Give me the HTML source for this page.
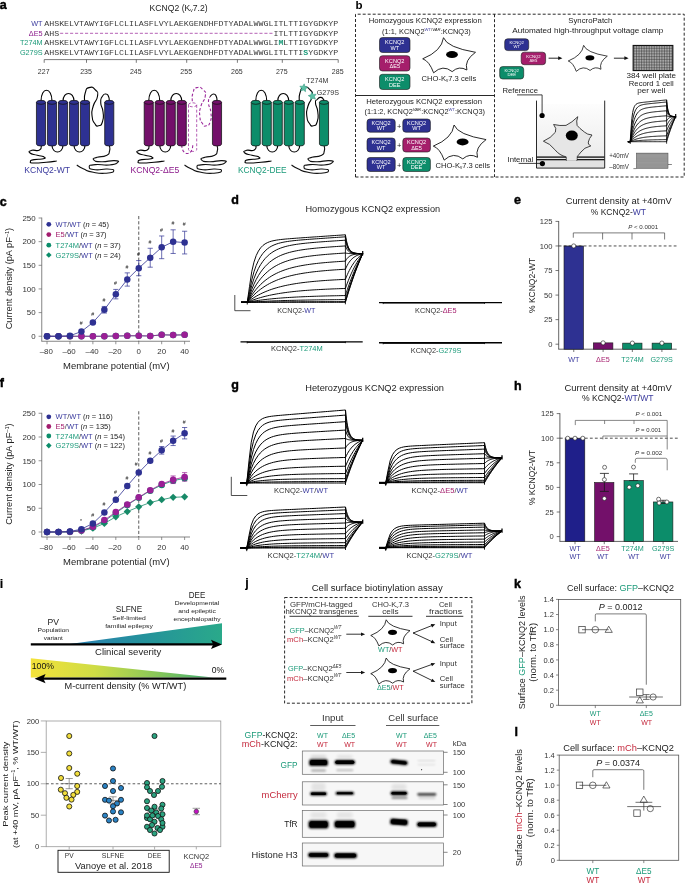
<!DOCTYPE html>
<html lang="en"><head><meta charset="utf-8"><title>KCNQ2 figure</title>
<style>
html,body{margin:0;padding:0;background:#fff;}
body{width:685px;height:884px;overflow:hidden;}
svg{display:block;font-family:"Liberation Sans", Arial, sans-serif;}
</style></head><body>
<svg width="685" height="884" viewBox="0 0 685 884" fill="#222">
<rect width="685" height="884" fill="#fff"/>
<g>
<text x="-0.3" y="9.3" font-size="12.5" font-weight="bold" fill="#000" stroke="#000" stroke-width="0.45">a</text>
<text x="178.60" y="10.60" font-size="8.8" text-anchor="middle" textLength="58.00" lengthAdjust="spacingAndGlyphs">KCNQ2 (K<tspan font-size="5" dy="1.5">v</tspan><tspan dy="-1.5">7.2)</tspan></text>
<text x="42.60" y="26.00" font-size="7.3" text-anchor="end" fill="#3b3b9e">WT</text>
<text x="42.60" y="35.60" font-size="7.3" text-anchor="end" fill="#8b1a8b">ΔE5</text>
<text x="42.60" y="45.10" font-size="7.3" text-anchor="end" fill="#1b9a79">T274M</text>
<text x="42.60" y="54.70" font-size="7.3" text-anchor="end" fill="#1b9a79">G279S</text>
<text x="44.20" y="26.20" font-size="8.1" fill="#3a3a3a" textLength="294.00" lengthAdjust="spacingAndGlyphs" font-family='"Liberation Mono", monospace'>AHSKELVTAWYIGFLCLILASFLVYLAEKGENDHFDTYADALWWGLITLTTIGYGDKYP</text>
<text x="44.20" y="35.80" font-size="8.1" fill="#3a3a3a" textLength="14.95" lengthAdjust="spacingAndGlyphs" font-family='"Liberation Mono", monospace'>AHS</text>
<line x1="60.10" y1="33.30" x2="272.92" y2="33.30" stroke="#a23aa2" stroke-width="0.8" stroke-dasharray="3.1 1.883"/>
<text x="273.42" y="35.80" font-size="8.1" fill="#3a3a3a" textLength="64.78" lengthAdjust="spacingAndGlyphs" font-family='"Liberation Mono", monospace'>ITLTTIGYGDKYP</text>
<text x="44.20" y="45.30" font-size="8.1" fill="#3a3a3a" textLength="234.20" lengthAdjust="spacingAndGlyphs" font-family='"Liberation Mono", monospace'>AHSKELVTAWYIGFLCLILASFLVYLAEKGENDHFDTYADALWWGLI</text>
<text x="278.40" y="45.30" font-size="8.1" fill="#1b9a79" textLength="4.98" lengthAdjust="spacingAndGlyphs" font-weight="bold" font-family='"Liberation Mono", monospace'>M</text>
<text x="283.38" y="45.30" font-size="8.1" fill="#3a3a3a" textLength="54.81" lengthAdjust="spacingAndGlyphs" font-family='"Liberation Mono", monospace'>LTTIGYGDKYP</text>
<text x="44.20" y="54.90" font-size="8.1" fill="#3a3a3a" textLength="259.12" lengthAdjust="spacingAndGlyphs" font-family='"Liberation Mono", monospace'>AHSKELVTAWYIGFLCLILASFLVYLAEKGENDHFDTYADALWWGLITLTTI</text>
<text x="303.32" y="54.90" font-size="8.1" fill="#1b9a79" textLength="4.98" lengthAdjust="spacingAndGlyphs" font-weight="bold" font-family='"Liberation Mono", monospace'>S</text>
<text x="308.30" y="54.90" font-size="8.1" fill="#3a3a3a" textLength="29.90" lengthAdjust="spacingAndGlyphs" font-family='"Liberation Mono", monospace'>YGDKYP</text>
<line x1="44.20" y1="59.60" x2="338.20" y2="59.60" stroke="#444" stroke-width="0.7"/>
<line x1="44.20" y1="59.60" x2="44.20" y2="62.80" stroke="#444" stroke-width="0.7"/>
<text x="43.70" y="74.30" font-size="7.5" text-anchor="middle" fill="#333" textLength="11.70" lengthAdjust="spacingAndGlyphs">227</text>
<line x1="86.50" y1="59.60" x2="86.50" y2="62.80" stroke="#444" stroke-width="0.7"/>
<text x="86.00" y="74.30" font-size="7.5" text-anchor="middle" fill="#333" textLength="11.70" lengthAdjust="spacingAndGlyphs">235</text>
<line x1="136.30" y1="59.60" x2="136.30" y2="62.80" stroke="#444" stroke-width="0.7"/>
<text x="135.80" y="74.30" font-size="7.5" text-anchor="middle" fill="#333" textLength="11.70" lengthAdjust="spacingAndGlyphs">245</text>
<line x1="186.70" y1="59.60" x2="186.70" y2="62.80" stroke="#444" stroke-width="0.7"/>
<text x="186.20" y="74.30" font-size="7.5" text-anchor="middle" fill="#333" textLength="11.70" lengthAdjust="spacingAndGlyphs">255</text>
<line x1="237.40" y1="59.60" x2="237.40" y2="62.80" stroke="#444" stroke-width="0.7"/>
<text x="236.90" y="74.30" font-size="7.5" text-anchor="middle" fill="#333" textLength="11.70" lengthAdjust="spacingAndGlyphs">265</text>
<line x1="282.30" y1="59.60" x2="282.30" y2="62.80" stroke="#444" stroke-width="0.7"/>
<text x="281.80" y="74.30" font-size="7.5" text-anchor="middle" fill="#333" textLength="11.70" lengthAdjust="spacingAndGlyphs">275</text>
<line x1="338.20" y1="59.60" x2="338.20" y2="62.80" stroke="#444" stroke-width="0.7"/>
<text x="337.70" y="74.30" font-size="7.5" text-anchor="middle" fill="#333" textLength="11.70" lengthAdjust="spacingAndGlyphs">285</text>
<path d="M41.30 145.00 C40.70 146.67 42.68 148.23 39.50 150.00 C36.32 151.77 34.90 149.30 31.75 150.30 C28.60 151.30 28.22 151.33 30.05 153.00 C31.88 154.67 32.85 154.10 37.25 155.30 C41.65 156.50 41.15 155.43 43.25 156.60 C45.35 157.77 46.55 157.80 43.55 158.80 C40.55 159.80 38.62 158.70 34.25 159.60 C29.88 160.50 30.45 160.37 30.45 161.50 C30.45 162.63 28.98 162.77 34.25 163.00 C39.52 163.23 38.75 162.87 46.25 162.20 C53.75 161.53 53.25 161.40 56.75 161.00" stroke="#000" stroke-width="1.1" fill="none"/>
<path d="M109.25 145.00 C109.35 147.00 110.55 147.50 109.55 151.00 C108.55 154.50 110.35 153.40 106.25 155.50 C102.15 157.60 101.42 155.87 97.25 157.30 C93.08 158.73 92.42 158.30 93.75 159.80 C95.08 161.30 94.42 161.53 101.25 161.80 C108.08 162.07 108.85 160.33 114.25 160.60 C119.65 160.87 119.12 161.13 117.45 162.60 C115.78 164.07 116.65 164.33 109.25 165.00 C101.85 165.67 101.92 163.93 95.25 164.60 C88.58 165.27 89.25 165.27 89.25 167.00 C89.25 168.73 89.25 169.13 95.25 169.80 C101.25 170.47 101.08 168.67 107.25 169.00 C113.42 169.33 114.08 169.40 113.75 170.80 C113.42 172.20 113.08 172.70 106.25 173.20 C99.42 173.70 100.92 173.77 93.25 172.30 C85.58 170.83 88.75 171.23 83.25 168.80 C77.75 166.37 78.92 166.27 76.75 165.00" stroke="#111" stroke-width="1.1" fill="none"/>
<path d="M41.00 101.30 C41.00 86.63 52.00 86.63 52.00 101.30" stroke="#000" stroke-width="1.1" fill="none"/>
<path d="M63.00 101.30 C63.00 90.90 74.00 90.90 74.00 101.30" stroke="#000" stroke-width="1.1" fill="none"/>
<path d="M52.00 145.00 C52.00 154.33 63.00 154.33 63.00 145.00" stroke="#000" stroke-width="1.1" fill="none"/>
<path d="M74.00 145.00 C74.00 154.33 85.00 154.33 85.00 145.00" stroke="#000" stroke-width="1.1" fill="none"/>
<path d="M84.50 101.30 C84.73 98.53 83.70 97.57 85.20 93.00 C86.70 88.43 85.55 88.60 89.00 87.60 C92.45 86.60 92.73 87.03 95.55 90.00 C98.37 92.97 98.22 91.17 97.45 96.50 C96.68 101.83 95.05 99.50 93.25 106.00 C91.45 112.50 91.55 110.17 92.05 116.00 C92.55 121.83 92.58 120.23 94.75 123.50 C96.92 126.77 95.95 126.47 98.55 125.80 C101.15 125.13 101.05 126.10 102.55 121.50 C104.05 116.90 103.65 118.17 103.05 112.00 C102.45 105.83 101.02 108.17 100.75 103.00 C100.48 97.83 100.55 99.50 102.25 96.50 C103.95 93.50 103.75 94.00 105.85 94.00 C107.95 94.00 107.42 94.07 108.55 96.50 C109.68 98.93 109.02 99.70 109.25 101.30" stroke="#000" stroke-width="1.1" fill="none"/>
<path d="M36.45 102.30 L36.45 144.00 A4.55 2.0 0 0 0 45.55 144.00 L45.55 102.30" stroke="#111" stroke-width="0.75" fill="#2e3192"/>
<ellipse cx="41.00" cy="102.30" rx="4.55" ry="2.0" fill="#2e3192" stroke="#111" stroke-width="0.75"/>
<path d="M47.45 102.30 L47.45 144.00 A4.55 2.0 0 0 0 56.55 144.00 L56.55 102.30" stroke="#111" stroke-width="0.75" fill="#2e3192"/>
<ellipse cx="52.00" cy="102.30" rx="4.55" ry="2.0" fill="#2e3192" stroke="#111" stroke-width="0.75"/>
<path d="M58.45 102.30 L58.45 144.00 A4.55 2.0 0 0 0 67.55 144.00 L67.55 102.30" stroke="#111" stroke-width="0.75" fill="#2e3192"/>
<ellipse cx="63.00" cy="102.30" rx="4.55" ry="2.0" fill="#2e3192" stroke="#111" stroke-width="0.75"/>
<path d="M69.45 102.30 L69.45 144.00 A4.55 2.0 0 0 0 78.55 144.00 L78.55 102.30" stroke="#111" stroke-width="0.75" fill="#2e3192"/>
<ellipse cx="74.00" cy="102.30" rx="4.55" ry="2.0" fill="#2e3192" stroke="#111" stroke-width="0.75"/>
<path d="M80.45 102.30 L80.45 144.00 A4.55 2.0 0 0 0 89.55 144.00 L89.55 102.30" stroke="#111" stroke-width="0.75" fill="#2e3192"/>
<ellipse cx="85.00" cy="102.30" rx="4.55" ry="2.0" fill="#2e3192" stroke="#111" stroke-width="0.75"/>
<path d="M104.70 102.30 L104.70 144.00 A4.55 2.0 0 0 0 113.80 144.00 L113.80 102.30" stroke="#111" stroke-width="0.75" fill="#2e3192"/>
<ellipse cx="109.25" cy="102.30" rx="4.55" ry="2.0" fill="#2e3192" stroke="#111" stroke-width="0.75"/>
<path d="M149.05 145.00 C148.45 146.67 150.43 148.23 147.25 150.00 C144.07 151.77 142.65 149.30 139.50 150.30 C136.35 151.30 135.97 151.33 137.80 153.00 C139.63 154.67 140.60 154.10 145.00 155.30 C149.40 156.50 148.90 155.43 151.00 156.60 C153.10 157.77 154.30 157.80 151.30 158.80 C148.30 159.80 146.37 158.70 142.00 159.60 C137.63 160.50 138.20 160.37 138.20 161.50 C138.20 162.63 136.73 162.77 142.00 163.00 C147.27 163.23 146.50 162.87 154.00 162.20 C161.50 161.53 161.00 161.40 164.50 161.00" stroke="#000" stroke-width="1.1" fill="none"/>
<path d="M217.00 145.00 C217.10 147.00 218.30 147.50 217.30 151.00 C216.30 154.50 218.10 153.40 214.00 155.50 C209.90 157.60 209.17 155.87 205.00 157.30 C200.83 158.73 200.17 158.30 201.50 159.80 C202.83 161.30 202.17 161.53 209.00 161.80 C215.83 162.07 216.60 160.33 222.00 160.60 C227.40 160.87 226.87 161.13 225.20 162.60 C223.53 164.07 224.40 164.33 217.00 165.00 C209.60 165.67 209.67 163.93 203.00 164.60 C196.33 165.27 197.00 165.27 197.00 167.00 C197.00 168.73 197.00 169.13 203.00 169.80 C209.00 170.47 208.83 168.67 215.00 169.00 C221.17 169.33 221.83 169.40 221.50 170.80 C221.17 172.20 220.83 172.70 214.00 173.20 C207.17 173.70 208.67 173.77 201.00 172.30 C193.33 170.83 196.50 171.23 191.00 168.80 C185.50 166.37 186.67 166.27 184.50 165.00" stroke="#111" stroke-width="1.1" fill="none"/>
<path d="M148.75 101.30 C148.75 86.63 159.75 86.63 159.75 101.30" stroke="#000" stroke-width="1.1" fill="none"/>
<path d="M170.75 101.30 C170.75 90.90 181.75 90.90 181.75 101.30" stroke="#000" stroke-width="1.1" fill="none"/>
<path d="M159.75 145.00 C159.75 154.33 170.75 154.33 170.75 145.00" stroke="#000" stroke-width="1.1" fill="none"/>
<path d="M181.75 145.00 C181.75 156.33 192.75 156.33 192.75 145.00" stroke="#9c2a9c" stroke-width="1.1" fill="none" stroke-dasharray="2.9 1.9"/>
<path d="M192.25 101.30 C192.48 98.53 191.45 97.57 192.95 93.00 C194.45 88.43 193.30 88.60 196.75 87.60 C200.20 86.60 200.48 87.03 203.30 90.00 C206.12 92.97 205.97 91.17 205.20 96.50 C204.43 101.83 202.80 99.50 201.00 106.00 C199.20 112.50 199.30 110.17 199.80 116.00 C200.30 121.83 200.33 120.23 202.50 123.50 C204.67 126.77 203.70 126.47 206.30 125.80 C208.90 125.13 208.80 126.10 210.30 121.50 C211.80 116.90 211.40 118.17 210.80 112.00 C210.20 105.83 208.77 108.17 208.50 103.00 C208.23 97.83 209.50 98.67 210.00 96.50" stroke="#9c2a9c" stroke-width="1.1" fill="none" stroke-dasharray="2.9 1.9"/>
<path d="M210.00 96.50 C211.20 95.67 211.50 94.00 213.60 94.00 C215.70 94.00 215.17 94.07 216.30 96.50 C217.43 98.93 216.77 99.70 217.00 101.30" stroke="#000" stroke-width="1.1" fill="none"/>
<path d="M144.20 102.30 L144.20 144.00 A4.55 2.0 0 0 0 153.30 144.00 L153.30 102.30" stroke="#111" stroke-width="0.75" fill="#73106a"/>
<ellipse cx="148.75" cy="102.30" rx="4.55" ry="2.0" fill="#73106a" stroke="#111" stroke-width="0.75"/>
<path d="M155.20 102.30 L155.20 144.00 A4.55 2.0 0 0 0 164.30 144.00 L164.30 102.30" stroke="#111" stroke-width="0.75" fill="#73106a"/>
<ellipse cx="159.75" cy="102.30" rx="4.55" ry="2.0" fill="#73106a" stroke="#111" stroke-width="0.75"/>
<path d="M166.20 102.30 L166.20 144.00 A4.55 2.0 0 0 0 175.30 144.00 L175.30 102.30" stroke="#111" stroke-width="0.75" fill="#73106a"/>
<ellipse cx="170.75" cy="102.30" rx="4.55" ry="2.0" fill="#73106a" stroke="#111" stroke-width="0.75"/>
<path d="M177.20 102.30 L177.20 144.00 A4.55 2.0 0 0 0 186.30 144.00 L186.30 102.30" stroke="#111" stroke-width="0.75" fill="#73106a"/>
<ellipse cx="181.75" cy="102.30" rx="4.55" ry="2.0" fill="#73106a" stroke="#111" stroke-width="0.75"/>
<path d="M188.50 104.80 L188.50 149.50 A4.1 2.0 0 0 0 196.70 149.50 L196.70 104.80" stroke="#9c2a9c" stroke-width="0.75" fill="none" stroke-dasharray="2.9 1.9"/>
<ellipse cx="192.60" cy="104.80" rx="4.1" ry="2.0" fill="none" stroke="#9c2a9c" stroke-width="0.75" stroke-dasharray="2.9 1.9"/>
<path d="M212.45 102.30 L212.45 144.00 A4.55 2.0 0 0 0 221.55 144.00 L221.55 102.30" stroke="#111" stroke-width="0.75" fill="#73106a"/>
<ellipse cx="217.00" cy="102.30" rx="4.55" ry="2.0" fill="#73106a" stroke="#111" stroke-width="0.75"/>
<path d="M256.05 145.00 C255.45 146.67 257.43 148.23 254.25 150.00 C251.07 151.77 249.65 149.30 246.50 150.30 C243.35 151.30 242.97 151.33 244.80 153.00 C246.63 154.67 247.60 154.10 252.00 155.30 C256.40 156.50 255.90 155.43 258.00 156.60 C260.10 157.77 261.30 157.80 258.30 158.80 C255.30 159.80 253.37 158.70 249.00 159.60 C244.63 160.50 245.20 160.37 245.20 161.50 C245.20 162.63 243.73 162.77 249.00 163.00 C254.27 163.23 253.50 162.87 261.00 162.20 C268.50 161.53 268.00 161.40 271.50 161.00" stroke="#000" stroke-width="1.1" fill="none"/>
<path d="M324.00 145.00 C324.10 147.00 325.30 147.50 324.30 151.00 C323.30 154.50 325.10 153.40 321.00 155.50 C316.90 157.60 316.17 155.87 312.00 157.30 C307.83 158.73 307.17 158.30 308.50 159.80 C309.83 161.30 309.17 161.53 316.00 161.80 C322.83 162.07 323.60 160.33 329.00 160.60 C334.40 160.87 333.87 161.13 332.20 162.60 C330.53 164.07 331.40 164.33 324.00 165.00 C316.60 165.67 316.67 163.93 310.00 164.60 C303.33 165.27 304.00 165.27 304.00 167.00 C304.00 168.73 304.00 169.13 310.00 169.80 C316.00 170.47 315.83 168.67 322.00 169.00 C328.17 169.33 328.83 169.40 328.50 170.80 C328.17 172.20 327.83 172.70 321.00 173.20 C314.17 173.70 315.67 173.77 308.00 172.30 C300.33 170.83 303.50 171.23 298.00 168.80 C292.50 166.37 293.67 166.27 291.50 165.00" stroke="#111" stroke-width="1.1" fill="none"/>
<path d="M255.75 101.30 C255.75 86.63 266.75 86.63 266.75 101.30" stroke="#000" stroke-width="1.1" fill="none"/>
<path d="M277.75 101.30 C277.75 90.90 288.75 90.90 288.75 101.30" stroke="#000" stroke-width="1.1" fill="none"/>
<path d="M266.75 145.00 C266.75 154.33 277.75 154.33 277.75 145.00" stroke="#000" stroke-width="1.1" fill="none"/>
<path d="M288.75 145.00 C288.75 154.33 299.75 154.33 299.75 145.00" stroke="#000" stroke-width="1.1" fill="none"/>
<path d="M299.25 101.30 C299.48 98.53 298.45 97.57 299.95 93.00 C301.45 88.43 300.30 88.60 303.75 87.60 C307.20 86.60 307.48 87.03 310.30 90.00 C313.12 92.97 312.97 91.17 312.20 96.50 C311.43 101.83 309.80 99.50 308.00 106.00 C306.20 112.50 306.30 110.17 306.80 116.00 C307.30 121.83 307.33 120.23 309.50 123.50 C311.67 126.77 310.70 126.47 313.30 125.80 C315.90 125.13 315.80 126.10 317.30 121.50 C318.80 116.90 318.40 118.17 317.80 112.00 C317.20 105.83 315.70 107.17 315.50 103.00 C315.30 98.83 315.50 101.37 317.20 99.50 C318.90 97.63 318.53 97.47 320.60 97.40 C322.67 97.33 322.27 98.00 323.40 99.30 C324.53 100.60 323.80 100.63 324.00 101.30" stroke="#000" stroke-width="1.1" fill="none"/>
<path d="M251.20 102.30 L251.20 144.00 A4.55 2.0 0 0 0 260.30 144.00 L260.30 102.30" stroke="#111" stroke-width="0.75" fill="#0c8d6a"/>
<ellipse cx="255.75" cy="102.30" rx="4.55" ry="2.0" fill="#0c8d6a" stroke="#111" stroke-width="0.75"/>
<path d="M262.20 102.30 L262.20 144.00 A4.55 2.0 0 0 0 271.30 144.00 L271.30 102.30" stroke="#111" stroke-width="0.75" fill="#0c8d6a"/>
<ellipse cx="266.75" cy="102.30" rx="4.55" ry="2.0" fill="#0c8d6a" stroke="#111" stroke-width="0.75"/>
<path d="M273.20 102.30 L273.20 144.00 A4.55 2.0 0 0 0 282.30 144.00 L282.30 102.30" stroke="#111" stroke-width="0.75" fill="#0c8d6a"/>
<ellipse cx="277.75" cy="102.30" rx="4.55" ry="2.0" fill="#0c8d6a" stroke="#111" stroke-width="0.75"/>
<path d="M284.20 102.30 L284.20 144.00 A4.55 2.0 0 0 0 293.30 144.00 L293.30 102.30" stroke="#111" stroke-width="0.75" fill="#0c8d6a"/>
<ellipse cx="288.75" cy="102.30" rx="4.55" ry="2.0" fill="#0c8d6a" stroke="#111" stroke-width="0.75"/>
<path d="M295.20 102.30 L295.20 144.00 A4.55 2.0 0 0 0 304.30 144.00 L304.30 102.30" stroke="#111" stroke-width="0.75" fill="#0c8d6a"/>
<ellipse cx="299.75" cy="102.30" rx="4.55" ry="2.0" fill="#0c8d6a" stroke="#111" stroke-width="0.75"/>
<path d="M319.45 102.30 L319.45 144.00 A4.55 2.0 0 0 0 328.55 144.00 L328.55 102.30" stroke="#111" stroke-width="0.75" fill="#0c8d6a"/>
<ellipse cx="324.00" cy="102.30" rx="4.55" ry="2.0" fill="#0c8d6a" stroke="#111" stroke-width="0.75"/>
<path d="M304.18 83.84 L305.00 86.55 L307.74 87.27 L305.41 88.88 L305.57 91.71 L303.32 90.00 L300.68 91.02 L301.61 88.35 L299.83 86.16 L302.65 86.22 Z" stroke="#2c8f78" stroke-width="0.5" fill="#5cc2a6" stroke-linejoin="round"/>
<path d="M311.67 92.06 L313.28 94.39 L316.11 94.23 L314.40 96.48 L315.42 99.12 L312.75 98.19 L310.56 99.97 L310.62 97.15 L308.24 95.62 L310.95 94.80 Z" stroke="#2c8f78" stroke-width="0.5" fill="#5cc2a6" stroke-linejoin="round"/>
<text x="306.30" y="83.30" font-size="6.3" fill="#333" textLength="22.00" lengthAdjust="spacingAndGlyphs">T274M</text>
<text x="316.80" y="94.60" font-size="6.3" fill="#333" textLength="22.20" lengthAdjust="spacingAndGlyphs">G279S</text>
<text x="24.30" y="173.30" font-size="8.4" fill="#3b3b9e" textLength="45.70" lengthAdjust="spacingAndGlyphs">KCNQ2-WT</text>
<text x="130.50" y="173.30" font-size="8.4" fill="#8b1a8b" textLength="48.70" lengthAdjust="spacingAndGlyphs">KCNQ2-ΔE5</text>
<text x="238.00" y="173.30" font-size="8.4" fill="#1b9a79" textLength="48.70" lengthAdjust="spacingAndGlyphs">KCNQ2-DEE</text>
</g>
<g>
<text x="355.50" y="9.30" font-size="11.5" fill="#000" font-weight="bold">b</text>
<path d="M355.5 177 L355.5 14.2 L684.2 14.2 L684.2 177 Z" stroke="#111" stroke-width="0.9" fill="none" stroke-dasharray="3 2"/>
<line x1="494.50" y1="14.20" x2="494.50" y2="177.00" stroke="#111" stroke-width="0.9" stroke-dasharray="3 2"/>
<line x1="355.50" y1="95.50" x2="494.50" y2="95.50" stroke="#111" stroke-width="0.9"/>
<text x="425.20" y="23.20" font-size="7.4" text-anchor="middle" textLength="113.00" lengthAdjust="spacingAndGlyphs">Homozygous KCNQ2 expression</text>
<text x="426.40" y="34.20" font-size="7.4" text-anchor="middle" textLength="88.70" lengthAdjust="spacingAndGlyphs">(1:1, KCNQ2<tspan font-size="4.2" dy="-3.2" fill="#3b3b9e">WT</tspan><tspan font-size="4.2">/</tspan><tspan font-size="4.2" font-style="italic">VAR</tspan><tspan dy="3.2">:KCNQ3)</tspan></text>
<rect x="379.50" y="37.50" width="30.50" height="15.00" fill="#2e3192" stroke="#1a1a1a" stroke-width="0.6" rx="3"/>
<text x="394.75" y="44.40" font-size="5.6" text-anchor="middle" fill="#fff">KCNQ2</text>
<text x="394.75" y="49.72" font-size="5.6" text-anchor="middle" fill="#fff">WT</text>
<rect x="379.50" y="55.70" width="30.50" height="15.30" fill="#a51e6b" stroke="#1a1a1a" stroke-width="0.6" rx="3"/>
<text x="394.75" y="62.74" font-size="5.6" text-anchor="middle" fill="#fff">KCNQ2</text>
<text x="394.75" y="68.06" font-size="5.6" text-anchor="middle" fill="#fff">ΔE5</text>
<rect x="379.50" y="74.30" width="30.50" height="15.20" fill="#0c8d6a" stroke="#1a1a1a" stroke-width="0.6" rx="3"/>
<text x="394.75" y="81.29" font-size="5.6" text-anchor="middle" fill="#fff">KCNQ2</text>
<text x="394.75" y="86.61" font-size="5.6" text-anchor="middle" fill="#fff">DEE</text>
<path d="M443.50 37.70 Q447.00 47.50 475.50 52.30 Q464.00 60.40 466.90 70.00 Q459.00 65.40 452.20 71.60 Q442.90 64.10 433.60 72.80 Q429.30 61.00 422.70 58.80 Q441.70 51.10 443.50 37.70 Z" stroke="#111" stroke-width="0.9" fill="#fff" stroke-linejoin="miter"/>
<ellipse cx="452.00" cy="54.60" rx="6.0" ry="3.5" fill="#000" stroke="none" stroke-width="0.6"/>
<text x="421.50" y="80.60" font-size="7.6" textLength="54.70" lengthAdjust="spacingAndGlyphs">CHO-K<tspan font-size="4.5" dy="1.4">v</tspan><tspan dy="-1.4">7.3 cells</tspan></text>
<text x="424.10" y="103.80" font-size="7.4" text-anchor="middle" textLength="115.70" lengthAdjust="spacingAndGlyphs">Heterozygous KCNQ2 expression</text>
<text x="424.70" y="114.40" font-size="7.4" text-anchor="middle" textLength="120.50" lengthAdjust="spacingAndGlyphs">(1:1:2, KCNQ2<tspan font-size="4.2" dy="-3.2" font-style="italic">VAR</tspan><tspan dy="3.2">:KCNQ2</tspan><tspan font-size="4.2" dy="-3.2" fill="#3b3b9e">WT</tspan><tspan dy="3.2">:KCNQ3)</tspan></text>
<rect x="367.00" y="119.00" width="28.20" height="13.20" fill="#2e3192" stroke="#1a1a1a" stroke-width="0.6" rx="3"/>
<text x="381.10" y="125.07" font-size="5.6" text-anchor="middle" fill="#fff">KCNQ2</text>
<text x="381.10" y="130.39" font-size="5.6" text-anchor="middle" fill="#fff">WT</text>
<rect x="402.80" y="119.00" width="27.60" height="13.20" fill="#2e3192" stroke="#1a1a1a" stroke-width="0.6" rx="3"/>
<text x="416.60" y="125.07" font-size="5.6" text-anchor="middle" fill="#fff">KCNQ2</text>
<text x="416.60" y="130.39" font-size="5.6" text-anchor="middle" fill="#fff">WT</text>
<text x="399.10" y="129.00" font-size="7.5" text-anchor="middle">+</text>
<rect x="367.00" y="138.00" width="28.20" height="14.00" fill="#2e3192" stroke="#1a1a1a" stroke-width="0.6" rx="3"/>
<text x="381.10" y="144.44" font-size="5.6" text-anchor="middle" fill="#fff">KCNQ2</text>
<text x="381.10" y="149.76" font-size="5.6" text-anchor="middle" fill="#fff">WT</text>
<rect x="402.80" y="138.00" width="27.60" height="14.00" fill="#a51e6b" stroke="#1a1a1a" stroke-width="0.6" rx="3"/>
<text x="416.60" y="144.44" font-size="5.6" text-anchor="middle" fill="#fff">KCNQ2</text>
<text x="416.60" y="149.76" font-size="5.6" text-anchor="middle" fill="#fff">ΔE5</text>
<text x="399.10" y="148.40" font-size="7.5" text-anchor="middle">+</text>
<rect x="367.00" y="157.50" width="28.20" height="14.00" fill="#2e3192" stroke="#1a1a1a" stroke-width="0.6" rx="3"/>
<text x="381.10" y="163.94" font-size="5.6" text-anchor="middle" fill="#fff">KCNQ2</text>
<text x="381.10" y="169.26" font-size="5.6" text-anchor="middle" fill="#fff">WT</text>
<rect x="402.80" y="157.50" width="27.60" height="14.00" fill="#0c8d6a" stroke="#1a1a1a" stroke-width="0.6" rx="3"/>
<text x="416.60" y="163.94" font-size="5.6" text-anchor="middle" fill="#fff">KCNQ2</text>
<text x="416.60" y="169.26" font-size="5.6" text-anchor="middle" fill="#fff">DEE</text>
<text x="399.10" y="167.90" font-size="7.5" text-anchor="middle">+</text>
<path d="M454.10 125.00 Q457.60 134.80 486.10 139.60 Q474.60 147.70 477.50 157.30 Q469.60 152.70 462.80 158.90 Q453.50 151.40 444.20 160.10 Q439.90 148.30 433.30 146.10 Q452.30 138.40 454.10 125.00 Z" stroke="#111" stroke-width="0.9" fill="#fff" stroke-linejoin="miter"/>
<ellipse cx="462.60" cy="141.90" rx="6.0" ry="3.5" fill="#000" stroke="none" stroke-width="0.6"/>
<text x="435.50" y="167.60" font-size="7.6" textLength="54.50" lengthAdjust="spacingAndGlyphs">CHO-K<tspan font-size="4.5" dy="1.4">v</tspan><tspan dy="-1.4">7.3 cells</tspan></text>
<text x="590.30" y="22.80" font-size="7.4" text-anchor="middle" textLength="44.00" lengthAdjust="spacingAndGlyphs">SyncroPatch</text>
<text x="587.80" y="32.90" font-size="7.4" text-anchor="middle" textLength="151.00" lengthAdjust="spacingAndGlyphs">Automated high-throughput voltage clamp</text>
<rect x="504.70" y="38.80" width="24.00" height="11.80" fill="#2e3192" stroke="#1a1a1a" stroke-width="0.6" rx="3"/>
<text x="516.70" y="44.23" font-size="4.2" text-anchor="middle" fill="#fff">KCNQ2</text>
<text x="516.70" y="48.22" font-size="4.2" text-anchor="middle" fill="#fff">WT</text>
<rect x="521.20" y="52.20" width="24.40" height="12.50" fill="#a51e6b" stroke="#1a1a1a" stroke-width="0.6" rx="3"/>
<text x="533.40" y="57.95" font-size="4.2" text-anchor="middle" fill="#fff">KCNQ2</text>
<text x="533.40" y="61.94" font-size="4.2" text-anchor="middle" fill="#fff">ΔE5</text>
<rect x="499.70" y="66.60" width="24.00" height="12.40" fill="#0c8d6a" stroke="#1a1a1a" stroke-width="0.6" rx="3"/>
<text x="511.70" y="72.30" font-size="4.2" text-anchor="middle" fill="#fff">KCNQ2</text>
<text x="511.70" y="76.29" font-size="4.2" text-anchor="middle" fill="#fff">DEE</text>
<line x1="548.60" y1="58.20" x2="560.40" y2="58.20" stroke="#111" stroke-width="0.9"/>
<path d="M562.4 58.2 L558.1999999999999 56.300000000000004 L558.1999999999999 60.1 Z" stroke="none" stroke-width="0.8" fill="#111"/>
<line x1="613.90" y1="58.20" x2="626.60" y2="58.20" stroke="#111" stroke-width="0.9"/>
<path d="M628.6 58.2 L624.4 56.300000000000004 L624.4 60.1 Z" stroke="none" stroke-width="0.8" fill="#111"/>
<path d="M583.63 45.36 Q586.22 52.61 607.31 56.16 Q598.80 62.16 600.95 69.26 Q595.10 65.86 590.07 70.44 Q583.19 64.89 576.30 71.33 Q573.12 62.60 568.24 60.97 Q582.30 55.27 583.63 45.36 Z" stroke="#111" stroke-width="0.8" fill="#fff" stroke-linejoin="miter"/>
<ellipse cx="589.92" cy="57.86" rx="4.4399999999999995" ry="2.59" fill="#000" stroke="none" stroke-width="0.6"/>
<rect x="633.20" y="45.50" width="39.60" height="25.00" fill="#fff" stroke="#111" stroke-width="1.2" rx="0"/>
<path d="M634.85 45.5 V70.5 M636.50 45.5 V70.5 M638.15 45.5 V70.5 M639.80 45.5 V70.5 M641.45 45.5 V70.5 M643.10 45.5 V70.5 M644.75 45.5 V70.5 M646.40 45.5 V70.5 M648.05 45.5 V70.5 M649.70 45.5 V70.5 M651.35 45.5 V70.5 M653.00 45.5 V70.5 M654.65 45.5 V70.5 M656.30 45.5 V70.5 M657.95 45.5 V70.5 M659.60 45.5 V70.5 M661.25 45.5 V70.5 M662.90 45.5 V70.5 M664.55 45.5 V70.5 M666.20 45.5 V70.5 M667.85 45.5 V70.5 M669.50 45.5 V70.5 M671.15 45.5 V70.5 M633.2 47.06 H672.8000000000001 M633.2 48.62 H672.8000000000001 M633.2 50.19 H672.8000000000001 M633.2 51.75 H672.8000000000001 M633.2 53.31 H672.8000000000001 M633.2 54.88 H672.8000000000001 M633.2 56.44 H672.8000000000001 M633.2 58.00 H672.8000000000001 M633.2 59.56 H672.8000000000001 M633.2 61.12 H672.8000000000001 M633.2 62.69 H672.8000000000001 M633.2 64.25 H672.8000000000001 M633.2 65.81 H672.8000000000001 M633.2 67.38 H672.8000000000001 M633.2 68.94 H672.8000000000001 " stroke="#222" stroke-width="0.55" fill="none"/>
<text x="651.30" y="78.10" font-size="7.2" text-anchor="middle" textLength="49.50" lengthAdjust="spacingAndGlyphs">384 well plate</text>
<text x="651.30" y="85.50" font-size="7.2" text-anchor="middle" textLength="45.00" lengthAdjust="spacingAndGlyphs">Record 1 cell</text>
<text x="651.30" y="92.70" font-size="7.2" text-anchor="middle" textLength="28.00" lengthAdjust="spacingAndGlyphs">per well</text>
<defs><linearGradient id="chg" x1="0" y1="0" x2="0" y2="1"><stop offset="0" stop-color="#fdfdfd"/><stop offset="1" stop-color="#ececec"/></linearGradient></defs>
<rect x="536.30" y="103.90" width="68.30" height="53.00" fill="url(#chg)" stroke="none" stroke-width="0.8" rx="0"/>
<rect x="536.30" y="160.00" width="68.30" height="8.10" fill="#e2e2e2" stroke="none" stroke-width="0.8" rx="0"/>
<path d="M536.5 100.6 V168.1 H604.7 V100.6" stroke="#111" stroke-width="0.9" fill="none"/>
<line x1="536.30" y1="157.10" x2="566.50" y2="157.10" stroke="#1a1a1a" stroke-width="1.4"/>
<line x1="577.00" y1="157.10" x2="604.60" y2="157.10" stroke="#1a1a1a" stroke-width="1.4"/>
<line x1="536.30" y1="159.60" x2="566.50" y2="159.60" stroke="#1a1a1a" stroke-width="1.4"/>
<line x1="577.00" y1="159.60" x2="604.60" y2="159.60" stroke="#1a1a1a" stroke-width="1.4"/>
<path d="M577.8 116.7 Q572 122.5 566 125.4 Q560 126 553.6 124.5 Q557 128.5 555.4 132.2 Q551 138 543.4 141.2 Q550 143.5 554.8 149.6 Q559.5 155.5 566.3 156.9 L566.3 160.4 L577 160.4 L577 156.8 Q579 154.5 580.9 152.1 Q584 147.5 590.8 145.9 Q587.5 144.5 588.3 142.1 Q589 138.5 592 135 Q587 134.5 584.6 132.2 Q579 128 577.1 125.4 Q576 121 577.8 116.7 Z" stroke="#222" stroke-width="0.85" fill="#e6e6e6"/>
<rect x="566.80" y="156.20" width="9.70" height="4.60" fill="#e6e6e6" stroke="none" stroke-width="0.8" rx="0"/>
<ellipse cx="571.80" cy="135.60" rx="6" ry="5" fill="#000" stroke="none" stroke-width="0.6"/>
<text x="502.50" y="93.40" font-size="7.4" textLength="35.50" lengthAdjust="spacingAndGlyphs">Reference</text>
<path d="M517 94.9 H542.1 V113.5" stroke="#111" stroke-width="0.8" fill="none"/>
<circle cx="542.10" cy="115.50" r="2.6" fill="#000" stroke="none" stroke-width="0.6"/>
<text x="507.50" y="161.60" font-size="7.4" textLength="25.80" lengthAdjust="spacingAndGlyphs">Internal</text>
<path d="M518.6 163.4 H541" stroke="#111" stroke-width="0.8" fill="none"/>
<circle cx="542.40" cy="163.60" r="2.6" fill="#000" stroke="none" stroke-width="0.6"/>
<text x="609.20" y="157.90" font-size="6.4" fill="#333" textLength="19.80" lengthAdjust="spacingAndGlyphs">+40mV</text>
<text x="609.20" y="168.90" font-size="6.4" fill="#333" textLength="19.80" lengthAdjust="spacingAndGlyphs">–80mV</text>
<rect x="636.40" y="153.10" width="31.60" height="15.20" fill="#8c8c8c" stroke="#444" stroke-width="0.5" rx="0"/>
<line x1="636.70" y1="154.27" x2="667.80" y2="154.27" stroke="#b5b5b5" stroke-width="0.35"/>
<line x1="636.70" y1="155.44" x2="667.80" y2="155.44" stroke="#b5b5b5" stroke-width="0.35"/>
<line x1="636.70" y1="156.61" x2="667.80" y2="156.61" stroke="#b5b5b5" stroke-width="0.35"/>
<line x1="636.70" y1="157.78" x2="667.80" y2="157.78" stroke="#b5b5b5" stroke-width="0.35"/>
<line x1="636.70" y1="158.95" x2="667.80" y2="158.95" stroke="#b5b5b5" stroke-width="0.35"/>
<line x1="636.70" y1="160.12" x2="667.80" y2="160.12" stroke="#b5b5b5" stroke-width="0.35"/>
<line x1="636.70" y1="161.29" x2="667.80" y2="161.29" stroke="#b5b5b5" stroke-width="0.35"/>
<line x1="636.70" y1="162.46" x2="667.80" y2="162.46" stroke="#b5b5b5" stroke-width="0.35"/>
<line x1="636.70" y1="163.63" x2="667.80" y2="163.63" stroke="#b5b5b5" stroke-width="0.35"/>
<line x1="636.70" y1="164.80" x2="667.80" y2="164.80" stroke="#b5b5b5" stroke-width="0.35"/>
<line x1="636.70" y1="165.97" x2="667.80" y2="165.97" stroke="#b5b5b5" stroke-width="0.35"/>
<line x1="636.70" y1="167.14" x2="667.80" y2="167.14" stroke="#b5b5b5" stroke-width="0.35"/>
<line x1="633.40" y1="168.60" x2="636.40" y2="168.60" stroke="#333" stroke-width="0.6"/>
<line x1="668.00" y1="164.50" x2="671.90" y2="164.50" stroke="#333" stroke-width="0.6"/>
<path d="M627.90 141.70 L630.19 141.70 L631.02 141.70 L631.85 141.70 L632.68 141.70 L633.51 141.70 L634.33 141.70 L635.16 141.70 L635.99 141.70 L636.82 141.70 L637.64 141.70 L638.47 141.70 L639.30 141.70 L640.13 141.70 L640.96 141.70 L641.78 141.70 L642.61 141.70 L643.44 141.70 L644.27 141.70 L645.09 141.70 L645.92 141.70 L646.75 141.70 L647.58 141.70 L648.41 141.70 L649.23 141.70 L650.06 141.70 L650.89 141.70 L651.72 141.70 L652.55 141.70 L653.37 141.70 L654.20 141.70 L655.03 141.70 L655.86 141.70 L656.68 141.70 L657.51 141.70 L658.34 141.70 L659.17 141.70 L660.00 141.70 L660.82 141.70 L661.65 141.70 L662.48 141.70 L663.31 141.70 L664.13 141.70 L664.96 141.70 L665.79 141.70 L666.62 141.70 L666.62 141.70 L667.12 140.01 L667.63 138.37 L668.13 136.76 L668.64 135.18 L669.14 133.65 L669.65 132.15 L670.15 130.68 L670.65 129.25 L671.16 127.85 L671.66 126.48 L672.17 125.14 L672.67 123.84 L673.18 122.57 L673.68 121.32 L674.19 120.10 L674.69 118.92 L675.20 117.75 L675.70 116.62" stroke="#000" stroke-width="0.9" fill="none" stroke-linejoin="round"/>
<path d="M627.90 141.70 L630.19 141.70 L631.02 141.57 L631.85 141.42 L632.68 141.28 L633.51 141.16 L634.33 141.05 L635.16 140.95 L635.99 140.85 L636.82 140.76 L637.64 140.68 L638.47 140.60 L639.30 140.53 L640.13 140.47 L640.96 140.40 L641.78 140.35 L642.61 140.29 L643.44 140.24 L644.27 140.19 L645.09 140.15 L645.92 140.11 L646.75 140.07 L647.58 140.04 L648.41 140.00 L649.23 139.97 L650.06 139.94 L650.89 139.91 L651.72 139.89 L652.55 139.86 L653.37 139.84 L654.20 139.82 L655.03 139.80 L655.86 139.78 L656.68 139.76 L657.51 139.75 L658.34 139.73 L659.17 139.72 L660.00 139.70 L660.82 139.69 L661.65 139.68 L662.48 139.66 L663.31 139.65 L664.13 139.64 L664.96 139.63 L665.79 139.62 L666.62 139.61 L666.62 139.61 L667.12 138.01 L667.63 136.46 L668.13 134.95 L668.64 133.48 L669.14 132.05 L669.65 130.66 L670.15 129.30 L670.65 127.99 L671.16 126.71 L671.66 125.46 L672.17 124.24 L672.67 123.06 L673.18 121.92 L673.68 120.80 L674.19 119.71 L674.69 118.65 L675.20 117.62 L675.70 116.62" stroke="#000" stroke-width="0.9" fill="none" stroke-linejoin="round"/>
<path d="M627.90 141.70 L630.19 141.70 L631.02 141.31 L631.85 140.85 L632.68 140.45 L633.51 140.09 L634.33 139.76 L635.16 139.46 L635.99 139.18 L636.82 138.92 L637.64 138.69 L638.47 138.47 L639.30 138.26 L640.13 138.08 L640.96 137.91 L641.78 137.75 L642.61 137.60 L643.44 137.46 L644.27 137.34 L645.09 137.22 L645.92 137.11 L646.75 137.01 L647.58 136.92 L648.41 136.83 L649.23 136.75 L650.06 136.67 L650.89 136.60 L651.72 136.54 L652.55 136.48 L653.37 136.42 L654.20 136.37 L655.03 136.32 L655.86 136.27 L656.68 136.23 L657.51 136.18 L658.34 136.14 L659.17 136.11 L660.00 136.07 L660.82 136.04 L661.65 136.01 L662.48 135.98 L663.31 135.95 L664.13 135.92 L664.96 135.90 L665.79 135.87 L666.62 135.85 L666.62 135.85 L667.12 134.40 L667.63 133.01 L668.13 131.67 L668.64 130.38 L669.14 129.14 L669.65 127.95 L670.15 126.79 L670.65 125.69 L671.16 124.62 L671.66 123.59 L672.17 122.60 L672.67 121.65 L673.18 120.73 L673.68 119.84 L674.19 118.99 L674.69 118.17 L675.20 117.38 L675.70 116.62" stroke="#000" stroke-width="0.9" fill="none" stroke-linejoin="round"/>
<path d="M627.90 141.70 L630.19 141.70 L631.02 140.91 L631.85 139.97 L632.68 139.16 L633.51 138.45 L634.33 137.81 L635.16 137.22 L635.99 136.69 L636.82 136.20 L637.64 135.75 L638.47 135.34 L639.30 134.97 L640.13 134.63 L640.96 134.31 L641.78 134.02 L642.61 133.76 L643.44 133.52 L644.27 133.30 L645.09 133.09 L645.92 132.91 L646.75 132.73 L647.58 132.57 L648.41 132.43 L649.23 132.29 L650.06 132.17 L650.89 132.05 L651.72 131.94 L652.55 131.84 L653.37 131.75 L654.20 131.66 L655.03 131.58 L655.86 131.50 L656.68 131.43 L657.51 131.37 L658.34 131.30 L659.17 131.25 L660.00 131.19 L660.82 131.14 L661.65 131.09 L662.48 131.04 L663.31 130.99 L664.13 130.95 L664.96 130.91 L665.79 130.87 L666.62 130.83 L666.62 130.83 L667.12 129.56 L667.63 128.36 L668.13 127.23 L668.64 126.17 L669.14 125.18 L669.65 124.25 L670.15 123.37 L670.65 122.55 L671.16 121.77 L671.66 121.05 L672.17 120.37 L672.67 119.72 L673.18 119.12 L673.68 118.56 L674.19 118.03 L674.69 117.53 L675.20 117.06 L675.70 116.62" stroke="#000" stroke-width="0.9" fill="none" stroke-linejoin="round"/>
<path d="M627.90 141.70 L630.19 141.70 L631.02 140.41 L631.85 138.90 L632.68 137.62 L633.51 136.51 L634.33 135.51 L635.16 134.61 L635.99 133.80 L636.82 133.07 L637.64 132.41 L638.47 131.81 L639.30 131.27 L640.13 130.78 L640.96 130.34 L641.78 129.94 L642.61 129.57 L643.44 129.24 L644.27 128.94 L645.09 128.67 L645.92 128.42 L646.75 128.19 L647.58 127.99 L648.41 127.80 L649.23 127.62 L650.06 127.46 L650.89 127.32 L651.72 127.18 L652.55 127.06 L653.37 126.94 L654.20 126.83 L655.03 126.73 L655.86 126.64 L656.68 126.56 L657.51 126.47 L658.34 126.40 L659.17 126.33 L660.00 126.26 L660.82 126.19 L661.65 126.13 L662.48 126.07 L663.31 126.02 L664.13 125.96 L664.96 125.91 L665.79 125.86 L666.62 125.82 L666.62 125.82 L667.12 124.66 L667.63 123.63 L668.13 122.72 L668.64 121.91 L669.14 121.18 L669.65 120.54 L670.15 119.97 L670.65 119.46 L671.16 119.00 L671.66 118.60 L672.17 118.24 L672.67 117.92 L673.18 117.64 L673.68 117.38 L674.19 117.16 L674.69 116.96 L675.20 116.78 L675.70 116.62" stroke="#000" stroke-width="0.9" fill="none" stroke-linejoin="round"/>
<path d="M627.90 141.70 L630.19 141.70 L631.02 139.78 L631.85 137.55 L632.68 135.71 L633.51 134.13 L634.33 132.73 L635.16 131.49 L635.99 130.39 L636.82 129.42 L637.64 128.55 L638.47 127.77 L639.30 127.08 L640.13 126.47 L640.96 125.92 L641.78 125.43 L642.61 124.99 L643.44 124.60 L644.27 124.25 L645.09 123.93 L645.92 123.64 L646.75 123.39 L647.58 123.15 L648.41 122.94 L649.23 122.75 L650.06 122.58 L650.89 122.42 L651.72 122.27 L652.55 122.14 L653.37 122.02 L654.20 121.90 L655.03 121.80 L655.86 121.70 L656.68 121.61 L657.51 121.52 L658.34 121.44 L659.17 121.36 L660.00 121.29 L660.82 121.22 L661.65 121.15 L662.48 121.09 L663.31 121.03 L664.13 120.97 L664.96 120.91 L665.79 120.85 L666.62 120.80 L666.62 120.80 L667.12 119.93 L667.63 119.23 L668.13 118.68 L668.64 118.24 L669.14 117.89 L669.65 117.62 L670.15 117.40 L670.65 117.23 L671.16 117.09 L671.66 116.98 L672.17 116.89 L672.67 116.82 L673.18 116.77 L673.68 116.72 L674.19 116.69 L674.69 116.66 L675.20 116.64 L675.70 116.62" stroke="#000" stroke-width="0.9" fill="none" stroke-linejoin="round"/>
<path d="M627.90 141.70 L630.19 141.70 L631.02 138.95 L631.85 135.81 L632.68 133.28 L633.51 131.14 L634.33 129.30 L635.16 127.71 L635.99 126.32 L636.82 125.11 L637.64 124.05 L638.47 123.13 L639.30 122.33 L640.13 121.63 L640.96 121.01 L641.78 120.47 L642.61 120.00 L643.44 119.58 L644.27 119.21 L645.09 118.89 L645.92 118.60 L646.75 118.34 L647.58 118.11 L648.41 117.90 L649.23 117.72 L650.06 117.55 L650.89 117.39 L651.72 117.25 L652.55 117.13 L653.37 117.01 L654.20 116.90 L655.03 116.80 L655.86 116.70 L656.68 116.61 L657.51 116.53 L658.34 116.45 L659.17 116.37 L660.00 116.30 L660.82 116.23 L661.65 116.16 L662.48 116.09 L663.31 116.03 L664.13 115.97 L664.96 115.90 L665.79 115.84 L666.62 115.78 L666.62 115.78 L667.12 116.03 L667.63 116.20 L668.13 116.33 L668.64 116.41 L669.14 116.47 L669.65 116.52 L670.15 116.55 L670.65 116.57 L671.16 116.58 L671.66 116.59 L672.17 116.60 L672.67 116.61 L673.18 116.61 L673.68 116.61 L674.19 116.62 L674.69 116.62 L675.20 116.62 L675.70 116.62" stroke="#000" stroke-width="0.9" fill="none" stroke-linejoin="round"/>
<path d="M627.90 141.70 L630.19 141.70 L631.02 137.80 L631.85 133.45 L632.68 130.06 L633.51 127.29 L634.33 124.97 L635.16 123.03 L635.99 121.38 L636.82 119.99 L637.64 118.81 L638.47 117.81 L639.30 116.96 L640.13 116.24 L640.96 115.62 L641.78 115.09 L642.61 114.64 L643.44 114.24 L644.27 113.91 L645.09 113.61 L645.92 113.35 L646.75 113.13 L647.58 112.93 L648.41 112.75 L649.23 112.59 L650.06 112.45 L650.89 112.31 L651.72 112.19 L652.55 112.08 L653.37 111.98 L654.20 111.88 L655.03 111.79 L655.86 111.70 L656.68 111.62 L657.51 111.54 L658.34 111.46 L659.17 111.39 L660.00 111.31 L660.82 111.24 L661.65 111.17 L662.48 111.10 L663.31 111.03 L664.13 110.97 L664.96 110.90 L665.79 110.83 L666.62 110.77 L666.62 110.77 L667.12 112.48 L667.63 113.70 L668.13 114.56 L668.64 115.16 L669.14 115.59 L669.65 115.89 L670.15 116.11 L670.65 116.26 L671.16 116.36 L671.66 116.44 L672.17 116.49 L672.67 116.53 L673.18 116.56 L673.68 116.57 L674.19 116.59 L674.69 116.60 L675.20 116.60 L675.70 116.61" stroke="#000" stroke-width="0.9" fill="none" stroke-linejoin="round"/>
<path d="M627.90 141.70 L630.19 141.70 L631.02 136.09 L631.85 130.09 L632.68 125.62 L633.51 122.16 L634.33 119.40 L635.16 117.18 L635.99 115.38 L636.82 113.93 L637.64 112.76 L638.47 111.80 L639.30 111.02 L640.13 110.38 L640.96 109.85 L641.78 109.42 L642.61 109.05 L643.44 108.75 L644.27 108.49 L645.09 108.26 L645.92 108.07 L646.75 107.90 L647.58 107.75 L648.41 107.62 L649.23 107.49 L650.06 107.38 L650.89 107.27 L651.72 107.18 L652.55 107.08 L653.37 106.99 L654.20 106.91 L655.03 106.82 L655.86 106.74 L656.68 106.66 L657.51 106.58 L658.34 106.50 L659.17 106.43 L660.00 106.35 L660.82 106.27 L661.65 106.20 L662.48 106.12 L663.31 106.05 L664.13 105.97 L664.96 105.90 L665.79 105.83 L666.62 105.75 L666.62 105.75 L667.12 108.94 L667.63 111.19 L668.13 112.79 L668.64 113.91 L669.14 114.71 L669.65 115.27 L670.15 115.66 L670.65 115.94 L671.16 116.14 L671.66 116.28 L672.17 116.38 L672.67 116.45 L673.18 116.50 L673.68 116.54 L674.19 116.56 L674.69 116.58 L675.20 116.59 L675.70 116.60" stroke="#000" stroke-width="0.9" fill="none" stroke-linejoin="round"/>
<path d="M627.90 141.70 L630.19 141.70 L631.02 133.57 L631.85 125.44 L632.68 119.90 L633.51 115.95 L634.33 113.05 L635.16 110.90 L635.99 109.29 L636.82 108.08 L637.64 107.17 L638.47 106.48 L639.30 105.94 L640.13 105.53 L640.96 105.20 L641.78 104.94 L642.61 104.72 L643.44 104.54 L644.27 104.39 L645.09 104.25 L645.92 104.13 L646.75 104.02 L647.58 103.92 L648.41 103.82 L649.23 103.73 L650.06 103.64 L650.89 103.55 L651.72 103.47 L652.55 103.38 L653.37 103.30 L654.20 103.21 L655.03 103.13 L655.86 103.05 L656.68 102.97 L657.51 102.88 L658.34 102.80 L659.17 102.72 L660.00 102.64 L660.82 102.56 L661.65 102.48 L662.48 102.40 L663.31 102.32 L664.13 102.23 L664.96 102.15 L665.79 102.07 L666.62 101.99 L666.62 101.99 L667.12 106.28 L667.63 109.31 L668.13 111.46 L668.64 112.97 L669.14 114.04 L669.65 114.80 L670.15 115.33 L670.65 115.71 L671.16 115.98 L671.66 116.17 L672.17 116.30 L672.67 116.39 L673.18 116.46 L673.68 116.51 L674.19 116.54 L674.69 116.56 L675.20 116.58 L675.70 116.59" stroke="#000" stroke-width="0.9" fill="none" stroke-linejoin="round"/>
<path d="M627.90 141.70 L630.19 141.70 L631.02 129.24 L631.85 118.50 L632.68 112.44 L633.51 108.85 L634.33 106.64 L635.16 105.25 L635.99 104.36 L636.82 103.78 L637.64 103.39 L638.47 103.11 L639.30 102.91 L640.13 102.75 L640.96 102.62 L641.78 102.51 L642.61 102.41 L643.44 102.31 L644.27 102.22 L645.09 102.13 L645.92 102.04 L646.75 101.95 L647.58 101.87 L648.41 101.78 L649.23 101.70 L650.06 101.61 L650.89 101.52 L651.72 101.44 L652.55 101.35 L653.37 101.27 L654.20 101.18 L655.03 101.10 L655.86 101.01 L656.68 100.93 L657.51 100.84 L658.34 100.76 L659.17 100.67 L660.00 100.58 L660.82 100.50 L661.65 100.41 L662.48 100.33 L663.31 100.24 L664.13 100.16 L664.96 100.07 L665.79 99.99 L666.62 99.90 L666.62 99.90 L667.12 104.80 L667.63 108.27 L668.13 110.72 L668.64 112.45 L669.14 113.67 L669.65 114.54 L670.15 115.15 L670.65 115.58 L671.16 115.89 L671.66 116.10 L672.17 116.25 L672.67 116.36 L673.18 116.44 L673.68 116.49 L674.19 116.53 L674.69 116.56 L675.20 116.57 L675.70 116.59" stroke="#000" stroke-width="0.9" fill="none" stroke-linejoin="round"/>
<line x1="630.19" y1="141.20" x2="630.19" y2="143.90" stroke="#000" stroke-width="0.9"/>
<line x1="666.62" y1="99.90" x2="666.62" y2="143.70" stroke="#000" stroke-width="0.81"/>
<line x1="675.70" y1="114.02" x2="675.70" y2="118.22" stroke="#000" stroke-width="1.1700000000000002"/>
</g>
<g>
<text x="-0.3" y="386.8" font-size="12.5" font-weight="bold" fill="#000" stroke="#000" stroke-width="0.45">f</text>
<line x1="41.75" y1="412.85" x2="41.75" y2="537.00" stroke="#666" stroke-width="0.8"/>
<line x1="41.40" y1="537.00" x2="190.00" y2="537.00" stroke="#666" stroke-width="0.8"/>
<line x1="38.60" y1="532.00" x2="41.75" y2="532.00" stroke="#666" stroke-width="0.7"/>
<text x="35.60" y="534.80" font-size="7.9" text-anchor="end" fill="#333">0</text>
<line x1="38.60" y1="508.25" x2="41.75" y2="508.25" stroke="#666" stroke-width="0.7"/>
<text x="35.60" y="511.05" font-size="7.9" text-anchor="end" fill="#333">50</text>
<line x1="38.60" y1="484.50" x2="41.75" y2="484.50" stroke="#666" stroke-width="0.7"/>
<text x="35.60" y="487.30" font-size="7.9" text-anchor="end" fill="#333">100</text>
<line x1="38.60" y1="460.75" x2="41.75" y2="460.75" stroke="#666" stroke-width="0.7"/>
<text x="35.60" y="463.55" font-size="7.9" text-anchor="end" fill="#333">150</text>
<line x1="38.60" y1="437.00" x2="41.75" y2="437.00" stroke="#666" stroke-width="0.7"/>
<text x="35.60" y="439.80" font-size="7.9" text-anchor="end" fill="#333">200</text>
<line x1="38.60" y1="413.25" x2="41.75" y2="413.25" stroke="#666" stroke-width="0.7"/>
<text x="35.60" y="416.05" font-size="7.9" text-anchor="end" fill="#333">250</text>
<line x1="47.03" y1="537.00" x2="47.03" y2="540.00" stroke="#666" stroke-width="0.7"/>
<text x="46.23" y="550.00" font-size="7.9" text-anchor="middle" fill="#333">–80</text>
<line x1="69.96" y1="537.00" x2="69.96" y2="540.00" stroke="#666" stroke-width="0.7"/>
<text x="69.16" y="550.00" font-size="7.9" text-anchor="middle" fill="#333">–60</text>
<line x1="92.89" y1="537.00" x2="92.89" y2="540.00" stroke="#666" stroke-width="0.7"/>
<text x="92.09" y="550.00" font-size="7.9" text-anchor="middle" fill="#333">–40</text>
<line x1="115.82" y1="537.00" x2="115.82" y2="540.00" stroke="#666" stroke-width="0.7"/>
<text x="115.02" y="550.00" font-size="7.9" text-anchor="middle" fill="#333">–20</text>
<line x1="138.75" y1="537.00" x2="138.75" y2="540.00" stroke="#666" stroke-width="0.7"/>
<text x="138.75" y="550.00" font-size="7.9" text-anchor="middle" fill="#333">0</text>
<line x1="161.68" y1="537.00" x2="161.68" y2="540.00" stroke="#666" stroke-width="0.7"/>
<text x="161.68" y="550.00" font-size="7.9" text-anchor="middle" fill="#333">20</text>
<line x1="184.61" y1="537.00" x2="184.61" y2="540.00" stroke="#666" stroke-width="0.7"/>
<text x="184.61" y="550.00" font-size="7.9" text-anchor="middle" fill="#333">40</text>
<text x="116.30" y="565.00" font-size="8.2" text-anchor="middle" textLength="106.50" lengthAdjust="spacingAndGlyphs">Membrane potential (mV)</text>
<text x="12.20" y="474.12" font-size="8.2" text-anchor="middle" textLength="101.50" lengthAdjust="spacingAndGlyphs" transform="rotate(-90 12.20 474.12)">Current density (pA pF<tspan font-size="5" dy="-3">–1</tspan><tspan dy="3">)</tspan></text>
<line x1="138.75" y1="411.25" x2="138.75" y2="537.00" stroke="#333" stroke-width="0.8" stroke-dasharray="3.2 2"/>
<path d="M47.03 532.00 L58.50 532.00 L69.96 531.86 L81.42 531.05 L92.89 528.20 L104.36 523.45 L115.82 516.80 L127.28 511.57 L138.75 506.82 L150.22 502.55 L161.68 499.70 L173.14 497.32 L184.61 496.85" stroke="#178a68" stroke-width="0.8" fill="none"/>
<path d="M47.03 528.40 L50.63 532.00 L47.03 535.60 L43.43 532.00 Z" stroke="none" stroke-width="0.8" fill="#178a68"/>
<path d="M58.50 528.40 L62.10 532.00 L58.50 535.60 L54.90 532.00 Z" stroke="none" stroke-width="0.8" fill="#178a68"/>
<path d="M69.96 528.26 L73.56 531.86 L69.96 535.46 L66.36 531.86 Z" stroke="none" stroke-width="0.8" fill="#178a68"/>
<path d="M81.42 527.45 L85.02 531.05 L81.42 534.65 L77.83 531.05 Z" stroke="none" stroke-width="0.8" fill="#178a68"/>
<path d="M92.89 524.60 L96.49 528.20 L92.89 531.80 L89.29 528.20 Z" stroke="none" stroke-width="0.8" fill="#178a68"/>
<path d="M104.36 519.85 L107.95 523.45 L104.36 527.05 L100.76 523.45 Z" stroke="none" stroke-width="0.8" fill="#178a68"/>
<path d="M115.82 513.20 L119.42 516.80 L115.82 520.40 L112.22 516.80 Z" stroke="none" stroke-width="0.8" fill="#178a68"/>
<path d="M127.28 507.97 L130.88 511.57 L127.28 515.17 L123.69 511.57 Z" stroke="none" stroke-width="0.8" fill="#178a68"/>
<path d="M138.75 503.22 L142.35 506.82 L138.75 510.43 L135.15 506.82 Z" stroke="none" stroke-width="0.8" fill="#178a68"/>
<path d="M150.22 498.95 L153.81 502.55 L150.22 506.15 L146.62 502.55 Z" stroke="none" stroke-width="0.8" fill="#178a68"/>
<path d="M161.68 496.10 L165.28 499.70 L161.68 503.30 L158.08 499.70 Z" stroke="none" stroke-width="0.8" fill="#178a68"/>
<path d="M173.14 493.72 L176.74 497.32 L173.14 500.93 L169.54 497.32 Z" stroke="none" stroke-width="0.8" fill="#178a68"/>
<path d="M184.61 493.25 L188.21 496.85 L184.61 500.45 L181.01 496.85 Z" stroke="none" stroke-width="0.8" fill="#178a68"/>
<path d="M47.03 532.00 L58.50 532.00 L69.96 531.76 L81.42 530.58 L92.89 527.25 L104.36 521.08 L115.82 513.00 L127.28 504.93 L138.75 497.80 L150.22 490.68 L161.68 484.98 L173.14 480.70 L184.61 478.32" stroke="#0c8d6a" stroke-width="0.8" fill="none"/>
<circle cx="47.03" cy="532.00" r="3.25" fill="#0c8d6a" stroke="none" stroke-width="0.6"/>
<circle cx="58.50" cy="532.00" r="3.25" fill="#0c8d6a" stroke="none" stroke-width="0.6"/>
<circle cx="69.96" cy="531.76" r="3.25" fill="#0c8d6a" stroke="none" stroke-width="0.6"/>
<circle cx="81.42" cy="530.58" r="3.25" fill="#0c8d6a" stroke="none" stroke-width="0.6"/>
<circle cx="92.89" cy="527.25" r="3.25" fill="#0c8d6a" stroke="none" stroke-width="0.6"/>
<circle cx="104.36" cy="521.08" r="3.25" fill="#0c8d6a" stroke="none" stroke-width="0.6"/>
<circle cx="115.82" cy="513.00" r="3.25" fill="#0c8d6a" stroke="none" stroke-width="0.6"/>
<circle cx="127.28" cy="504.93" r="3.25" fill="#0c8d6a" stroke="none" stroke-width="0.6"/>
<circle cx="138.75" cy="497.80" r="3.25" fill="#0c8d6a" stroke="none" stroke-width="0.6"/>
<circle cx="150.22" cy="490.68" r="3.25" fill="#0c8d6a" stroke="none" stroke-width="0.6"/>
<circle cx="161.68" cy="484.98" r="3.25" fill="#0c8d6a" stroke="none" stroke-width="0.6"/>
<circle cx="173.14" cy="480.70" r="3.25" fill="#0c8d6a" stroke="none" stroke-width="0.6"/>
<circle cx="184.61" cy="478.32" r="3.25" fill="#0c8d6a" stroke="none" stroke-width="0.6"/>
<path d="M47.03 532.00 L58.50 532.00 L69.96 531.76 L81.42 530.58 L92.89 526.77 L104.36 520.12 L115.82 512.05 L127.28 504.45 L138.75 497.32 L150.22 490.20 L161.68 484.02 L173.14 479.75 L184.61 476.90" stroke="#9a1f96" stroke-width="0.8" fill="none"/>
<path d="M173.14 475.95 V483.55 M170.54 475.95 H175.74 M170.54 483.55 H175.74" stroke="#9a1f96" stroke-width="0.7" fill="none"/>
<path d="M184.61 472.62 V481.17 M182.01 472.62 H187.21 M182.01 481.17 H187.21" stroke="#9a1f96" stroke-width="0.7" fill="none"/>
<circle cx="47.03" cy="532.00" r="3.25" fill="#9a1f96" stroke="none" stroke-width="0.6"/>
<circle cx="58.50" cy="532.00" r="3.25" fill="#9a1f96" stroke="none" stroke-width="0.6"/>
<circle cx="69.96" cy="531.76" r="3.25" fill="#9a1f96" stroke="none" stroke-width="0.6"/>
<circle cx="81.42" cy="530.58" r="3.25" fill="#9a1f96" stroke="none" stroke-width="0.6"/>
<circle cx="92.89" cy="526.77" r="3.25" fill="#9a1f96" stroke="none" stroke-width="0.6"/>
<circle cx="104.36" cy="520.12" r="3.25" fill="#9a1f96" stroke="none" stroke-width="0.6"/>
<circle cx="115.82" cy="512.05" r="3.25" fill="#9a1f96" stroke="none" stroke-width="0.6"/>
<circle cx="127.28" cy="504.45" r="3.25" fill="#9a1f96" stroke="none" stroke-width="0.6"/>
<circle cx="138.75" cy="497.32" r="3.25" fill="#9a1f96" stroke="none" stroke-width="0.6"/>
<circle cx="150.22" cy="490.20" r="3.25" fill="#9a1f96" stroke="none" stroke-width="0.6"/>
<circle cx="161.68" cy="484.02" r="3.25" fill="#9a1f96" stroke="none" stroke-width="0.6"/>
<circle cx="173.14" cy="479.75" r="3.25" fill="#9a1f96" stroke="none" stroke-width="0.6"/>
<circle cx="184.61" cy="476.90" r="3.25" fill="#9a1f96" stroke="none" stroke-width="0.6"/>
<path d="M47.03 532.00 L58.50 532.00 L69.96 531.52 L81.42 529.15 L92.89 523.45 L104.36 512.52 L115.82 499.70 L127.28 485.93 L138.75 472.62 L150.22 460.75 L161.68 450.30 L173.14 440.80 L184.61 433.20" stroke="#2e3192" stroke-width="0.8" fill="none"/>
<path d="M161.68 446.50 V454.10 M159.08 446.50 H164.28 M159.08 454.10 H164.28" stroke="#2e3192" stroke-width="0.7" fill="none"/>
<path d="M173.14 436.05 V445.55 M170.54 436.05 H175.74 M170.54 445.55 H175.74" stroke="#2e3192" stroke-width="0.7" fill="none"/>
<path d="M184.61 427.50 V438.90 M182.01 427.50 H187.21 M182.01 438.90 H187.21" stroke="#2e3192" stroke-width="0.7" fill="none"/>
<circle cx="47.03" cy="532.00" r="3.25" fill="#2e3192" stroke="none" stroke-width="0.6"/>
<circle cx="58.50" cy="532.00" r="3.25" fill="#2e3192" stroke="none" stroke-width="0.6"/>
<circle cx="69.96" cy="531.52" r="3.25" fill="#2e3192" stroke="none" stroke-width="0.6"/>
<circle cx="81.42" cy="529.15" r="3.25" fill="#2e3192" stroke="none" stroke-width="0.6"/>
<circle cx="92.89" cy="523.45" r="3.25" fill="#2e3192" stroke="none" stroke-width="0.6"/>
<circle cx="104.36" cy="512.52" r="3.25" fill="#2e3192" stroke="none" stroke-width="0.6"/>
<circle cx="115.82" cy="499.70" r="3.25" fill="#2e3192" stroke="none" stroke-width="0.6"/>
<circle cx="127.28" cy="485.93" r="3.25" fill="#2e3192" stroke="none" stroke-width="0.6"/>
<circle cx="138.75" cy="472.62" r="3.25" fill="#2e3192" stroke="none" stroke-width="0.6"/>
<circle cx="150.22" cy="460.75" r="3.25" fill="#2e3192" stroke="none" stroke-width="0.6"/>
<circle cx="161.68" cy="450.30" r="3.25" fill="#2e3192" stroke="none" stroke-width="0.6"/>
<circle cx="173.14" cy="440.80" r="3.25" fill="#2e3192" stroke="none" stroke-width="0.6"/>
<circle cx="184.61" cy="433.20" r="3.25" fill="#2e3192" stroke="none" stroke-width="0.6"/>
<text x="81.12" y="522.98" font-size="5.2" text-anchor="middle">*</text>
<text x="92.59" y="517.27" font-size="5.2" text-anchor="middle">#</text>
<text x="104.06" y="506.35" font-size="5.2" text-anchor="middle">#</text>
<text x="115.52" y="493.52" font-size="5.2" text-anchor="middle">#</text>
<text x="126.98" y="479.75" font-size="5.2" text-anchor="middle">#</text>
<text x="136.16" y="466.45" font-size="5.2" text-anchor="middle">#</text>
<text x="149.91" y="454.57" font-size="5.2" text-anchor="middle">#</text>
<text x="161.38" y="443.18" font-size="5.2" text-anchor="middle">#</text>
<text x="172.84" y="432.73" font-size="5.2" text-anchor="middle">#</text>
<text x="184.31" y="424.18" font-size="5.2" text-anchor="middle">#</text>
<circle cx="48.80" cy="416.80" r="2.4" fill="#2e3192" stroke="none" stroke-width="0.6"/>
<text x="55.60" y="419.35" font-size="7.5"><tspan fill="#3b3b9e">WT</tspan><tspan fill="#444">/</tspan><tspan fill="#3b3b9e">WT</tspan> (<tspan font-style="italic">n</tspan> = 116)</text>
<circle cx="48.80" cy="426.50" r="2.4" fill="#a21c6e" stroke="none" stroke-width="0.6"/>
<text x="55.60" y="429.05" font-size="7.5"><tspan fill="#a6216f">E5</tspan><tspan fill="#444">/</tspan><tspan fill="#3b3b9e">WT</tspan> (<tspan font-style="italic">n</tspan> = 135)</text>
<circle cx="48.80" cy="436.00" r="2.4" fill="#0c8d6a" stroke="none" stroke-width="0.6"/>
<text x="55.60" y="438.55" font-size="7.5"><tspan fill="#1b9a79">T274M</tspan><tspan fill="#444">/</tspan><tspan fill="#3b3b9e">WT</tspan> (<tspan font-style="italic">n</tspan> = 154)</text>
<path d="M48.8 442.8 L51.6 445.6 L48.8 448.40000000000003 L46 445.6 Z" stroke="none" stroke-width="0.8" fill="#0c8d6a"/>
<text x="55.60" y="448.15" font-size="7.5"><tspan fill="#1b9a79">G279S</tspan><tspan fill="#444">/</tspan><tspan fill="#3b3b9e">WT</tspan> (<tspan font-style="italic">n</tspan> = 122)</text>
<text x="-0.3" y="206.3" font-size="12.5" font-weight="bold" fill="#000" stroke="#000" stroke-width="0.45">c</text>
<line x1="41.75" y1="217.60" x2="41.75" y2="341.25" stroke="#666" stroke-width="0.8"/>
<line x1="41.40" y1="341.25" x2="190.00" y2="341.25" stroke="#666" stroke-width="0.8"/>
<line x1="38.60" y1="336.25" x2="41.75" y2="336.25" stroke="#666" stroke-width="0.7"/>
<text x="35.60" y="339.05" font-size="7.9" text-anchor="end" fill="#333">0</text>
<line x1="38.60" y1="312.60" x2="41.75" y2="312.60" stroke="#666" stroke-width="0.7"/>
<text x="35.60" y="315.40" font-size="7.9" text-anchor="end" fill="#333">50</text>
<line x1="38.60" y1="288.95" x2="41.75" y2="288.95" stroke="#666" stroke-width="0.7"/>
<text x="35.60" y="291.75" font-size="7.9" text-anchor="end" fill="#333">100</text>
<line x1="38.60" y1="265.30" x2="41.75" y2="265.30" stroke="#666" stroke-width="0.7"/>
<text x="35.60" y="268.10" font-size="7.9" text-anchor="end" fill="#333">150</text>
<line x1="38.60" y1="241.65" x2="41.75" y2="241.65" stroke="#666" stroke-width="0.7"/>
<text x="35.60" y="244.45" font-size="7.9" text-anchor="end" fill="#333">200</text>
<line x1="38.60" y1="218.00" x2="41.75" y2="218.00" stroke="#666" stroke-width="0.7"/>
<text x="35.60" y="220.80" font-size="7.9" text-anchor="end" fill="#333">250</text>
<line x1="47.03" y1="341.25" x2="47.03" y2="344.25" stroke="#666" stroke-width="0.7"/>
<text x="46.23" y="353.80" font-size="7.9" text-anchor="middle" fill="#333">–80</text>
<line x1="69.96" y1="341.25" x2="69.96" y2="344.25" stroke="#666" stroke-width="0.7"/>
<text x="69.16" y="353.80" font-size="7.9" text-anchor="middle" fill="#333">–60</text>
<line x1="92.89" y1="341.25" x2="92.89" y2="344.25" stroke="#666" stroke-width="0.7"/>
<text x="92.09" y="353.80" font-size="7.9" text-anchor="middle" fill="#333">–40</text>
<line x1="115.82" y1="341.25" x2="115.82" y2="344.25" stroke="#666" stroke-width="0.7"/>
<text x="115.02" y="353.80" font-size="7.9" text-anchor="middle" fill="#333">–20</text>
<line x1="138.75" y1="341.25" x2="138.75" y2="344.25" stroke="#666" stroke-width="0.7"/>
<text x="138.75" y="353.80" font-size="7.9" text-anchor="middle" fill="#333">0</text>
<line x1="161.68" y1="341.25" x2="161.68" y2="344.25" stroke="#666" stroke-width="0.7"/>
<text x="161.68" y="353.80" font-size="7.9" text-anchor="middle" fill="#333">20</text>
<line x1="184.61" y1="341.25" x2="184.61" y2="344.25" stroke="#666" stroke-width="0.7"/>
<text x="184.61" y="353.80" font-size="7.9" text-anchor="middle" fill="#333">40</text>
<text x="116.30" y="368.80" font-size="8.2" text-anchor="middle" textLength="106.50" lengthAdjust="spacingAndGlyphs">Membrane potential (mV)</text>
<text x="12.20" y="278.62" font-size="8.2" text-anchor="middle" textLength="101.50" lengthAdjust="spacingAndGlyphs" transform="rotate(-90 12.20 278.62)">Current density (pA pF<tspan font-size="5" dy="-3">–1</tspan><tspan dy="3">)</tspan></text>
<line x1="138.75" y1="216.00" x2="138.75" y2="341.25" stroke="#333" stroke-width="0.8" stroke-dasharray="3.2 2"/>
<path d="M47.03 336.25 L58.50 336.25 L69.96 336.25 L81.42 336.25 L92.89 336.25 L104.36 336.25 L115.82 336.01 L127.28 335.78 L138.75 335.78 L150.22 336.01 L161.68 334.83 L173.14 335.07 L184.61 334.83" stroke="#0c8d6a" stroke-width="0.8" fill="none"/>
<circle cx="47.03" cy="336.25" r="3.25" fill="#0c8d6a" stroke="none" stroke-width="0.6"/>
<circle cx="58.50" cy="336.25" r="3.25" fill="#0c8d6a" stroke="none" stroke-width="0.6"/>
<circle cx="69.96" cy="336.25" r="3.25" fill="#0c8d6a" stroke="none" stroke-width="0.6"/>
<circle cx="81.42" cy="336.25" r="3.25" fill="#0c8d6a" stroke="none" stroke-width="0.6"/>
<circle cx="92.89" cy="336.25" r="3.25" fill="#0c8d6a" stroke="none" stroke-width="0.6"/>
<circle cx="104.36" cy="336.25" r="3.25" fill="#0c8d6a" stroke="none" stroke-width="0.6"/>
<circle cx="115.82" cy="336.01" r="3.25" fill="#0c8d6a" stroke="none" stroke-width="0.6"/>
<circle cx="127.28" cy="335.78" r="3.25" fill="#0c8d6a" stroke="none" stroke-width="0.6"/>
<circle cx="138.75" cy="335.78" r="3.25" fill="#0c8d6a" stroke="none" stroke-width="0.6"/>
<circle cx="150.22" cy="336.01" r="3.25" fill="#0c8d6a" stroke="none" stroke-width="0.6"/>
<circle cx="161.68" cy="334.83" r="3.25" fill="#0c8d6a" stroke="none" stroke-width="0.6"/>
<circle cx="173.14" cy="335.07" r="3.25" fill="#0c8d6a" stroke="none" stroke-width="0.6"/>
<circle cx="184.61" cy="334.83" r="3.25" fill="#0c8d6a" stroke="none" stroke-width="0.6"/>
<path d="M47.03 336.25 L58.50 336.25 L69.96 336.25 L81.42 336.25 L92.89 336.25 L104.36 336.25 L115.82 336.01 L127.28 335.78 L138.75 335.78 L150.22 336.01 L161.68 334.83 L173.14 335.07 L184.61 334.83" stroke="#9a1f96" stroke-width="0.8" fill="none"/>
<circle cx="47.03" cy="336.25" r="3.25" fill="#9a1f96" stroke="none" stroke-width="0.6"/>
<circle cx="58.50" cy="336.25" r="3.25" fill="#9a1f96" stroke="none" stroke-width="0.6"/>
<circle cx="69.96" cy="336.25" r="3.25" fill="#9a1f96" stroke="none" stroke-width="0.6"/>
<circle cx="81.42" cy="336.25" r="3.25" fill="#9a1f96" stroke="none" stroke-width="0.6"/>
<circle cx="92.89" cy="336.25" r="3.25" fill="#9a1f96" stroke="none" stroke-width="0.6"/>
<circle cx="104.36" cy="336.25" r="3.25" fill="#9a1f96" stroke="none" stroke-width="0.6"/>
<circle cx="115.82" cy="336.01" r="3.25" fill="#9a1f96" stroke="none" stroke-width="0.6"/>
<circle cx="127.28" cy="335.78" r="3.25" fill="#9a1f96" stroke="none" stroke-width="0.6"/>
<circle cx="138.75" cy="335.78" r="3.25" fill="#9a1f96" stroke="none" stroke-width="0.6"/>
<circle cx="150.22" cy="336.01" r="3.25" fill="#9a1f96" stroke="none" stroke-width="0.6"/>
<circle cx="161.68" cy="334.83" r="3.25" fill="#9a1f96" stroke="none" stroke-width="0.6"/>
<circle cx="173.14" cy="335.07" r="3.25" fill="#9a1f96" stroke="none" stroke-width="0.6"/>
<circle cx="184.61" cy="334.83" r="3.25" fill="#9a1f96" stroke="none" stroke-width="0.6"/>
<path d="M47.03 336.25 L58.50 336.25 L69.96 335.78 L81.42 331.52 L92.89 322.53 L104.36 309.76 L115.82 294.15 L127.28 279.49 L138.75 268.14 L150.22 257.73 L161.68 247.33 L173.14 241.65 L184.61 242.60" stroke="#2e3192" stroke-width="0.8" fill="none"/>
<path d="M104.36 306.45 V313.07 M101.76 306.45 H106.95 M101.76 313.07 H106.95" stroke="#2e3192" stroke-width="0.7" fill="none"/>
<path d="M115.82 289.42 V298.88 M113.22 289.42 H118.42 M113.22 298.88 H118.42" stroke="#2e3192" stroke-width="0.7" fill="none"/>
<path d="M127.28 272.87 V286.11 M124.69 272.87 H129.88 M124.69 286.11 H129.88" stroke="#2e3192" stroke-width="0.7" fill="none"/>
<path d="M138.75 260.57 V275.71 M136.15 260.57 H141.35 M136.15 275.71 H141.35" stroke="#2e3192" stroke-width="0.7" fill="none"/>
<path d="M150.22 248.27 V267.19 M147.62 248.27 H152.81 M147.62 267.19 H152.81" stroke="#2e3192" stroke-width="0.7" fill="none"/>
<path d="M161.68 235.97 V258.68 M159.08 235.97 H164.28 M159.08 258.68 H164.28" stroke="#2e3192" stroke-width="0.7" fill="none"/>
<path d="M173.14 229.82 V253.47 M170.54 229.82 H175.74 M170.54 253.47 H175.74" stroke="#2e3192" stroke-width="0.7" fill="none"/>
<path d="M184.61 231.24 V253.95 M182.01 231.24 H187.21 M182.01 253.95 H187.21" stroke="#2e3192" stroke-width="0.7" fill="none"/>
<circle cx="47.03" cy="336.25" r="3.25" fill="#2e3192" stroke="none" stroke-width="0.6"/>
<circle cx="58.50" cy="336.25" r="3.25" fill="#2e3192" stroke="none" stroke-width="0.6"/>
<circle cx="69.96" cy="335.78" r="3.25" fill="#2e3192" stroke="none" stroke-width="0.6"/>
<circle cx="81.42" cy="331.52" r="3.25" fill="#2e3192" stroke="none" stroke-width="0.6"/>
<circle cx="92.89" cy="322.53" r="3.25" fill="#2e3192" stroke="none" stroke-width="0.6"/>
<circle cx="104.36" cy="309.76" r="3.25" fill="#2e3192" stroke="none" stroke-width="0.6"/>
<circle cx="115.82" cy="294.15" r="3.25" fill="#2e3192" stroke="none" stroke-width="0.6"/>
<circle cx="127.28" cy="279.49" r="3.25" fill="#2e3192" stroke="none" stroke-width="0.6"/>
<circle cx="138.75" cy="268.14" r="3.25" fill="#2e3192" stroke="none" stroke-width="0.6"/>
<circle cx="150.22" cy="257.73" r="3.25" fill="#2e3192" stroke="none" stroke-width="0.6"/>
<circle cx="161.68" cy="247.33" r="3.25" fill="#2e3192" stroke="none" stroke-width="0.6"/>
<circle cx="173.14" cy="241.65" r="3.25" fill="#2e3192" stroke="none" stroke-width="0.6"/>
<circle cx="184.61" cy="242.60" r="3.25" fill="#2e3192" stroke="none" stroke-width="0.6"/>
<text x="81.12" y="325.37" font-size="5.2" text-anchor="middle">#</text>
<text x="92.59" y="316.38" font-size="5.2" text-anchor="middle">#</text>
<text x="104.06" y="302.19" font-size="5.2" text-anchor="middle">#</text>
<text x="115.52" y="284.69" font-size="5.2" text-anchor="middle">#</text>
<text x="126.98" y="268.61" font-size="5.2" text-anchor="middle">#</text>
<text x="138.45" y="255.84" font-size="5.2" text-anchor="middle">#</text>
<text x="149.91" y="243.54" font-size="5.2" text-anchor="middle">#</text>
<text x="161.38" y="231.72" font-size="5.2" text-anchor="middle">#</text>
<text x="172.84" y="225.10" font-size="5.2" text-anchor="middle">#</text>
<text x="184.31" y="226.04" font-size="5.2" text-anchor="middle">#</text>
<circle cx="48.80" cy="224.30" r="2.4" fill="#2e3192" stroke="none" stroke-width="0.6"/>
<text x="55.60" y="226.85" font-size="7.5"><tspan fill="#3b3b9e">WT</tspan><tspan fill="#444">/</tspan><tspan fill="#3b3b9e">WT</tspan> (<tspan font-style="italic">n</tspan> = 45)</text>
<circle cx="48.80" cy="234.60" r="2.4" fill="#a21c6e" stroke="none" stroke-width="0.6"/>
<text x="55.60" y="237.15" font-size="7.5"><tspan fill="#a6216f">E5</tspan><tspan fill="#444">/</tspan><tspan fill="#3b3b9e">WT</tspan> (<tspan font-style="italic">n</tspan> = 37)</text>
<circle cx="48.80" cy="245.20" r="2.4" fill="#0c8d6a" stroke="none" stroke-width="0.6"/>
<text x="55.60" y="247.75" font-size="7.5"><tspan fill="#1b9a79">T274M</tspan><tspan fill="#444">/</tspan><tspan fill="#3b3b9e">WT</tspan> (<tspan font-style="italic">n</tspan> = 37)</text>
<path d="M48.8 252.2 L51.6 255 L48.8 257.8 L46 255 Z" stroke="none" stroke-width="0.8" fill="#0c8d6a"/>
<text x="55.60" y="257.55" font-size="7.5"><tspan fill="#1b9a79">G279S</tspan><tspan fill="#444">/</tspan><tspan fill="#3b3b9e">WT</tspan> (<tspan font-style="italic">n</tspan> = 24)</text>
</g>
<g>
<text x="231.3" y="204" font-size="12.5" font-weight="bold" fill="#000" stroke="#000" stroke-width="0.45">d</text>
<text x="372.80" y="211.60" font-size="8.3" text-anchor="middle" textLength="134.60" lengthAdjust="spacingAndGlyphs">Homozygous KCNQ2 expression</text>
<path d="M241.00 302.30 L247.25 302.30 L249.48 302.30 L251.71 302.30 L253.94 302.30 L256.17 302.30 L258.40 302.30 L260.63 302.30 L262.86 302.30 L265.10 302.30 L267.33 302.30 L269.56 302.30 L271.79 302.30 L274.02 302.30 L276.25 302.30 L278.48 302.30 L280.71 302.30 L282.94 302.30 L285.17 302.30 L287.40 302.30 L289.63 302.30 L291.86 302.30 L294.09 302.30 L296.32 302.30 L298.56 302.30 L300.79 302.30 L303.02 302.30 L305.25 302.30 L307.48 302.30 L309.71 302.30 L311.94 302.30 L314.17 302.30 L316.40 302.30 L318.63 302.30 L320.86 302.30 L323.09 302.30 L325.32 302.30 L327.55 302.30 L329.79 302.30 L332.02 302.30 L334.25 302.30 L336.48 302.30 L338.71 302.30 L340.94 302.30 L343.17 302.30 L345.40 302.30 L345.40 302.30 L346.36 299.03 L347.32 295.84 L348.28 292.72 L349.24 289.67 L350.21 286.69 L351.17 283.79 L352.13 280.94 L353.09 278.17 L354.05 275.46 L355.01 272.81 L355.97 270.22 L356.93 267.69 L357.89 265.22 L358.86 262.81 L359.82 260.45 L360.78 258.15 L361.74 255.90 L362.70 253.70" stroke="#000" stroke-width="0.95" fill="none" stroke-linejoin="round"/>
<path d="M241.00 302.30 L247.25 302.30 L249.48 302.27 L251.71 302.23 L253.94 302.19 L256.17 302.16 L258.40 302.13 L260.63 302.10 L262.86 302.08 L265.10 302.05 L267.33 302.03 L269.56 302.00 L271.79 301.98 L274.02 301.96 L276.25 301.94 L278.48 301.92 L280.71 301.90 L282.94 301.89 L285.17 301.87 L287.40 301.85 L289.63 301.84 L291.86 301.82 L294.09 301.81 L296.32 301.80 L298.56 301.79 L300.79 301.77 L303.02 301.76 L305.25 301.75 L307.48 301.74 L309.71 301.73 L311.94 301.72 L314.17 301.72 L316.40 301.71 L318.63 301.70 L320.86 301.69 L323.09 301.68 L325.32 301.68 L327.55 301.67 L329.79 301.66 L332.02 301.66 L334.25 301.65 L336.48 301.65 L338.71 301.64 L340.94 301.64 L343.17 301.63 L345.40 301.62 L345.40 301.62 L346.36 298.39 L347.32 295.22 L348.28 292.14 L349.24 289.12 L350.21 286.18 L351.17 283.31 L352.13 280.50 L353.09 277.76 L354.05 275.09 L355.01 272.48 L355.97 269.93 L356.93 267.44 L357.89 265.01 L358.86 262.64 L359.82 260.32 L360.78 258.06 L361.74 255.86 L362.70 253.70" stroke="#000" stroke-width="0.95" fill="none" stroke-linejoin="round"/>
<path d="M241.00 302.30 L247.25 302.30 L249.48 302.16 L251.71 302.00 L253.94 301.85 L256.17 301.72 L258.40 301.59 L260.63 301.47 L262.86 301.36 L265.10 301.26 L267.33 301.16 L269.56 301.06 L271.79 300.97 L274.02 300.89 L276.25 300.81 L278.48 300.73 L280.71 300.66 L282.94 300.59 L285.17 300.53 L287.40 300.46 L289.63 300.41 L291.86 300.35 L294.09 300.30 L296.32 300.25 L298.56 300.20 L300.79 300.16 L303.02 300.12 L305.25 300.08 L307.48 300.04 L309.71 300.00 L311.94 299.97 L314.17 299.93 L316.40 299.90 L318.63 299.87 L320.86 299.84 L323.09 299.82 L325.32 299.79 L327.55 299.77 L329.79 299.74 L332.02 299.72 L334.25 299.70 L336.48 299.68 L338.71 299.66 L340.94 299.64 L343.17 299.62 L345.40 299.60 L345.40 299.60 L346.36 296.45 L347.32 293.38 L348.28 290.39 L349.24 287.47 L350.21 284.63 L351.17 281.87 L352.13 279.17 L353.09 276.54 L354.05 273.98 L355.01 271.49 L355.97 269.06 L356.93 266.69 L357.89 264.38 L358.86 262.13 L359.82 259.94 L360.78 257.81 L361.74 255.73 L362.70 253.70" stroke="#000" stroke-width="0.95" fill="none" stroke-linejoin="round"/>
<path d="M241.00 302.30 L247.25 302.30 L249.48 301.94 L251.71 301.50 L253.94 301.11 L256.17 300.76 L258.40 300.43 L260.63 300.12 L262.86 299.83 L265.10 299.56 L267.33 299.30 L269.56 299.06 L271.79 298.83 L274.02 298.62 L276.25 298.42 L278.48 298.23 L280.71 298.05 L282.94 297.88 L285.17 297.72 L287.40 297.57 L289.63 297.43 L291.86 297.30 L294.09 297.18 L296.32 297.06 L298.56 296.95 L300.79 296.84 L303.02 296.74 L305.25 296.64 L307.48 296.55 L309.71 296.47 L311.94 296.39 L314.17 296.31 L316.40 296.24 L318.63 296.17 L320.86 296.10 L323.09 296.04 L325.32 295.98 L327.55 295.92 L329.79 295.87 L332.02 295.82 L334.25 295.77 L336.48 295.72 L338.71 295.68 L340.94 295.63 L343.17 295.59 L345.40 295.55 L345.40 295.55 L346.36 292.57 L347.32 289.68 L348.28 286.88 L349.24 284.16 L350.21 281.53 L351.17 278.97 L352.13 276.49 L353.09 274.09 L354.05 271.76 L355.01 269.49 L355.97 267.30 L356.93 265.18 L357.89 263.11 L358.86 261.11 L359.82 259.17 L360.78 257.29 L361.74 255.47 L362.70 253.70" stroke="#000" stroke-width="0.95" fill="none" stroke-linejoin="round"/>
<path d="M241.00 302.30 L247.25 302.30 L249.48 301.50 L251.71 300.53 L253.94 299.69 L256.17 298.92 L258.40 298.21 L260.63 297.55 L262.86 296.94 L265.10 296.36 L267.33 295.82 L269.56 295.32 L271.79 294.85 L274.02 294.41 L276.25 294.00 L278.48 293.61 L280.71 293.25 L282.94 292.91 L285.17 292.60 L287.40 292.30 L289.63 292.02 L291.86 291.76 L294.09 291.51 L296.32 291.28 L298.56 291.07 L300.79 290.86 L303.02 290.67 L305.25 290.49 L307.48 290.32 L309.71 290.16 L311.94 290.01 L314.17 289.86 L316.40 289.73 L318.63 289.60 L320.86 289.48 L323.09 289.36 L325.32 289.25 L327.55 289.15 L329.79 289.05 L332.02 288.95 L334.25 288.86 L336.48 288.77 L338.71 288.69 L340.94 288.61 L343.17 288.54 L345.40 288.46 L345.40 288.46 L346.36 285.76 L347.32 283.16 L348.28 280.68 L349.24 278.29 L350.21 276.01 L351.17 273.82 L352.13 271.73 L353.09 269.72 L354.05 267.79 L355.01 265.95 L355.97 264.18 L356.93 262.48 L357.89 260.86 L358.86 259.30 L359.82 257.81 L360.78 256.38 L361.74 255.01 L362.70 253.70" stroke="#000" stroke-width="0.95" fill="none" stroke-linejoin="round"/>
<path d="M241.00 302.30 L247.25 302.30 L249.48 300.86 L251.71 299.12 L253.94 297.62 L256.17 296.27 L258.40 295.02 L260.63 293.87 L262.86 292.81 L265.10 291.82 L267.33 290.91 L269.56 290.06 L271.79 289.27 L274.02 288.54 L276.25 287.87 L278.48 287.24 L280.71 286.65 L282.94 286.11 L285.17 285.60 L287.40 285.13 L289.63 284.69 L291.86 284.28 L294.09 283.90 L296.32 283.54 L298.56 283.21 L300.79 282.89 L303.02 282.60 L305.25 282.33 L307.48 282.07 L309.71 281.83 L311.94 281.60 L314.17 281.39 L316.40 281.19 L318.63 281.00 L320.86 280.82 L323.09 280.65 L325.32 280.49 L327.55 280.34 L329.79 280.19 L332.02 280.06 L334.25 279.92 L336.48 279.80 L338.71 279.68 L340.94 279.57 L343.17 279.46 L345.40 279.35 L345.40 279.35 L346.36 276.93 L347.32 274.67 L348.28 272.56 L349.24 270.60 L350.21 268.77 L351.17 267.07 L352.13 265.48 L353.09 263.99 L354.05 262.61 L355.01 261.32 L355.97 260.12 L356.93 259.00 L357.89 257.95 L358.86 256.98 L359.82 256.07 L360.78 255.23 L361.74 254.44 L362.70 253.70" stroke="#000" stroke-width="0.95" fill="none" stroke-linejoin="round"/>
<path d="M241.00 302.30 L247.25 302.30 L249.48 300.00 L251.71 297.26 L253.94 294.92 L256.17 292.83 L258.40 290.93 L260.63 289.19 L262.86 287.59 L265.10 286.12 L267.33 284.78 L269.56 283.54 L271.79 282.41 L274.02 281.36 L276.25 280.40 L278.48 279.51 L280.71 278.70 L282.94 277.95 L285.17 277.25 L287.40 276.61 L289.63 276.02 L291.86 275.47 L294.09 274.97 L296.32 274.50 L298.56 274.06 L300.79 273.66 L303.02 273.28 L305.25 272.93 L307.48 272.61 L309.71 272.30 L311.94 272.01 L314.17 271.75 L316.40 271.50 L318.63 271.26 L320.86 271.04 L323.09 270.83 L325.32 270.63 L327.55 270.44 L329.79 270.26 L332.02 270.09 L334.25 269.93 L336.48 269.78 L338.71 269.63 L340.94 269.49 L343.17 269.36 L345.40 269.23 L345.40 269.23 L346.36 267.05 L347.32 265.15 L348.28 263.50 L349.24 262.06 L350.21 260.80 L351.17 259.71 L352.13 258.75 L353.09 257.92 L354.05 257.19 L355.01 256.56 L355.97 256.01 L356.93 255.53 L357.89 255.11 L358.86 254.75 L359.82 254.43 L360.78 254.15 L361.74 253.91 L362.70 253.70" stroke="#000" stroke-width="0.95" fill="none" stroke-linejoin="round"/>
<path d="M241.00 302.30 L247.25 302.30 L249.48 299.09 L251.71 295.30 L253.94 292.10 L256.17 289.29 L258.40 286.77 L260.63 284.48 L262.86 282.42 L265.10 280.54 L267.33 278.84 L269.56 277.30 L271.79 275.89 L274.02 274.62 L276.25 273.46 L278.48 272.41 L280.71 271.45 L282.94 270.57 L285.17 269.77 L287.40 269.04 L289.63 268.37 L291.86 267.76 L294.09 267.20 L296.32 266.68 L298.56 266.21 L300.79 265.77 L303.02 265.37 L305.25 264.99 L307.48 264.65 L309.71 264.33 L311.94 264.03 L314.17 263.75 L316.40 263.49 L318.63 263.24 L320.86 263.01 L323.09 262.80 L325.32 262.59 L327.55 262.40 L329.79 262.21 L332.02 262.04 L334.25 261.87 L336.48 261.71 L338.71 261.55 L340.94 261.41 L343.17 261.26 L345.40 261.12 L345.40 261.12 L346.36 259.52 L347.32 258.26 L348.28 257.26 L349.24 256.48 L350.21 255.87 L351.17 255.38 L352.13 255.00 L353.09 254.70 L354.05 254.47 L355.01 254.28 L355.97 254.14 L356.93 254.02 L357.89 253.93 L358.86 253.86 L359.82 253.81 L360.78 253.76 L361.74 253.73 L362.70 253.70" stroke="#000" stroke-width="0.95" fill="none" stroke-linejoin="round"/>
<path d="M241.00 302.30 L247.25 302.30 L249.48 297.91 L251.71 292.78 L253.94 288.54 L256.17 284.87 L258.40 281.63 L260.63 278.75 L262.86 276.19 L265.10 273.90 L267.33 271.86 L269.56 270.04 L271.79 268.41 L274.02 266.95 L276.25 265.64 L278.48 264.47 L280.71 263.42 L282.94 262.48 L285.17 261.63 L287.40 260.86 L289.63 260.16 L291.86 259.54 L294.09 258.97 L296.32 258.45 L298.56 257.98 L300.79 257.55 L303.02 257.15 L305.25 256.79 L307.48 256.45 L309.71 256.14 L311.94 255.86 L314.17 255.59 L316.40 255.34 L318.63 255.10 L320.86 254.88 L323.09 254.68 L325.32 254.48 L327.55 254.29 L329.79 254.11 L332.02 253.94 L334.25 253.77 L336.48 253.61 L338.71 253.46 L340.94 253.31 L343.17 253.17 L345.40 253.03 L345.40 253.03 L346.36 253.22 L347.32 253.36 L348.28 253.46 L349.24 253.53 L350.21 253.58 L351.17 253.62 L352.13 253.64 L353.09 253.66 L354.05 253.67 L355.01 253.68 L355.97 253.69 L356.93 253.69 L357.89 253.69 L358.86 253.69 L359.82 253.70 L360.78 253.70 L361.74 253.70 L362.70 253.70" stroke="#000" stroke-width="0.95" fill="none" stroke-linejoin="round"/>
<path d="M241.00 302.30 L247.25 302.30 L249.48 296.39 L251.71 289.63 L253.94 284.17 L256.17 279.57 L258.40 275.60 L260.63 272.16 L262.86 269.16 L265.10 266.54 L267.33 264.26 L269.56 262.27 L271.79 260.52 L274.02 258.99 L276.25 257.66 L278.48 256.48 L280.71 255.44 L282.94 254.53 L285.17 253.72 L287.40 253.00 L289.63 252.36 L291.86 251.79 L294.09 251.28 L296.32 250.82 L298.56 250.40 L300.79 250.02 L303.02 249.68 L305.25 249.36 L307.48 249.07 L309.71 248.80 L311.94 248.56 L314.17 248.32 L316.40 248.10 L318.63 247.90 L320.86 247.70 L323.09 247.51 L325.32 247.33 L327.55 247.16 L329.79 246.99 L332.02 246.83 L334.25 246.67 L336.48 246.52 L338.71 246.37 L340.94 246.22 L343.17 246.08 L345.40 245.94 L345.40 245.94 L346.36 248.21 L347.32 249.82 L348.28 250.96 L349.24 251.76 L350.21 252.33 L351.17 252.73 L352.13 253.02 L353.09 253.22 L354.05 253.36 L355.01 253.46 L355.97 253.53 L356.93 253.58 L357.89 253.61 L358.86 253.64 L359.82 253.66 L360.78 253.67 L361.74 253.68 L362.70 253.69" stroke="#000" stroke-width="0.95" fill="none" stroke-linejoin="round"/>
<path d="M241.00 302.30 L247.25 302.30 L249.48 294.36 L251.71 285.54 L253.94 278.68 L256.17 273.12 L258.40 268.48 L260.63 264.60 L262.86 261.33 L265.10 258.57 L267.33 256.24 L269.56 254.27 L271.79 252.61 L274.02 251.19 L276.25 249.98 L278.48 248.95 L280.71 248.06 L282.94 247.30 L285.17 246.64 L287.40 246.06 L289.63 245.56 L291.86 245.11 L294.09 244.72 L296.32 244.36 L298.56 244.05 L300.79 243.76 L303.02 243.49 L305.25 243.25 L307.48 243.02 L309.71 242.81 L311.94 242.60 L314.17 242.41 L316.40 242.23 L318.63 242.05 L320.86 241.88 L323.09 241.72 L325.32 241.55 L327.55 241.40 L329.79 241.24 L332.02 241.09 L334.25 240.94 L336.48 240.79 L338.71 240.64 L340.94 240.49 L343.17 240.35 L345.40 240.20 L345.40 240.20 L346.36 244.16 L347.32 246.96 L348.28 248.94 L349.24 250.33 L350.21 251.32 L351.17 252.02 L352.13 252.51 L353.09 252.86 L354.05 253.11 L355.01 253.28 L355.97 253.40 L356.93 253.49 L357.89 253.55 L358.86 253.60 L359.82 253.63 L360.78 253.65 L361.74 253.66 L362.70 253.67" stroke="#000" stroke-width="0.95" fill="none" stroke-linejoin="round"/>
<path d="M241.00 302.30 L247.25 302.30 L249.48 291.53 L251.71 280.16 L253.94 271.85 L256.17 265.50 L258.40 260.52 L260.63 256.58 L262.86 253.44 L265.10 250.93 L267.33 248.93 L269.56 247.32 L271.79 246.01 L274.02 244.96 L276.25 244.09 L278.48 243.38 L280.71 242.79 L282.94 242.29 L285.17 241.87 L287.40 241.50 L289.63 241.18 L291.86 240.90 L294.09 240.64 L296.32 240.41 L298.56 240.19 L300.79 239.99 L303.02 239.80 L305.25 239.62 L307.48 239.45 L309.71 239.28 L311.94 239.11 L314.17 238.95 L316.40 238.79 L318.63 238.64 L320.86 238.48 L323.09 238.33 L325.32 238.18 L327.55 238.02 L329.79 237.87 L332.02 237.72 L334.25 237.57 L336.48 237.42 L338.71 237.27 L340.94 237.12 L343.17 236.97 L345.40 236.83 L345.40 236.83 L346.36 241.78 L347.32 245.27 L348.28 247.75 L349.24 249.49 L350.21 250.73 L351.17 251.60 L352.13 252.22 L353.09 252.65 L354.05 252.96 L355.01 253.18 L355.97 253.33 L356.93 253.44 L357.89 253.52 L358.86 253.57 L359.82 253.61 L360.78 253.63 L361.74 253.65 L362.70 253.67" stroke="#000" stroke-width="0.95" fill="none" stroke-linejoin="round"/>
<path d="M241.00 302.30 L247.25 302.30 L249.48 286.72 L251.71 271.80 L253.94 262.16 L256.17 255.64 L258.40 251.08 L260.63 247.84 L262.86 245.53 L265.10 243.87 L267.33 242.66 L269.56 241.76 L271.79 241.08 L274.02 240.57 L276.25 240.16 L278.48 239.82 L280.71 239.54 L282.94 239.30 L285.17 239.09 L287.40 238.89 L289.63 238.71 L291.86 238.53 L294.09 238.36 L296.32 238.20 L298.56 238.04 L300.79 237.88 L303.02 237.72 L305.25 237.57 L307.48 237.41 L309.71 237.26 L311.94 237.10 L314.17 236.95 L316.40 236.80 L318.63 236.64 L320.86 236.49 L323.09 236.33 L325.32 236.18 L327.55 236.03 L329.79 235.87 L332.02 235.72 L334.25 235.57 L336.48 235.41 L338.71 235.26 L340.94 235.11 L343.17 234.95 L345.40 234.80 L345.40 234.80 L346.36 240.34 L347.32 244.26 L348.28 247.03 L349.24 248.99 L350.21 250.37 L351.17 251.35 L352.13 252.04 L353.09 252.52 L354.05 252.87 L355.01 253.11 L355.97 253.29 L356.93 253.41 L357.89 253.49 L358.86 253.55 L359.82 253.60 L360.78 253.63 L361.74 253.65 L362.70 253.66" stroke="#000" stroke-width="0.95" fill="none" stroke-linejoin="round"/>
<line x1="247.25" y1="301.80" x2="247.25" y2="304.50" stroke="#000" stroke-width="0.95"/>
<line x1="345.40" y1="234.80" x2="345.40" y2="304.30" stroke="#000" stroke-width="0.855"/>
<line x1="362.70" y1="251.10" x2="362.70" y2="255.30" stroke="#000" stroke-width="1.2349999999999999"/>
<path d="M234.8 295 V310.7 H250.5" stroke="#222" stroke-width="0.8" fill="none"/>
<text x="296.40" y="312.60" font-size="6.9" text-anchor="middle" fill="#333" textLength="38.20" lengthAdjust="spacingAndGlyphs">KCNQ2-<tspan fill="#3b3b9e">WT</tspan></text>
<line x1="379.00" y1="302.60" x2="502.00" y2="302.60" stroke="#000" stroke-width="1.1"/>
<line x1="383.20" y1="302.20" x2="383.20" y2="304.10" stroke="#000" stroke-width="0.8"/>
<line x1="484.50" y1="302.20" x2="484.50" y2="303.90" stroke="#000" stroke-width="0.8"/>
<line x1="383.20" y1="303.10" x2="484.50" y2="303.10" stroke="#000" stroke-width="0.77"/>
<text x="435.80" y="312.60" font-size="6.9" text-anchor="middle" fill="#333" textLength="41.50" lengthAdjust="spacingAndGlyphs">KCNQ2-<tspan fill="#a6216f">ΔE5</tspan></text>
<line x1="240.50" y1="341.90" x2="362.70" y2="341.90" stroke="#000" stroke-width="1.2"/>
<line x1="247.20" y1="341.50" x2="247.20" y2="343.40" stroke="#000" stroke-width="0.8"/>
<line x1="345.40" y1="341.50" x2="345.40" y2="343.20" stroke="#000" stroke-width="0.8"/>
<line x1="247.20" y1="342.40" x2="345.40" y2="342.40" stroke="#000" stroke-width="0.84"/>
<text x="296.90" y="350.80" font-size="6.9" text-anchor="middle" fill="#333" textLength="51.70" lengthAdjust="spacingAndGlyphs">KCNQ2-<tspan fill="#1b9a79">T274M</tspan></text>
<line x1="379.00" y1="342.80" x2="502.00" y2="342.80" stroke="#000" stroke-width="1.5"/>
<line x1="383.20" y1="342.40" x2="383.20" y2="344.30" stroke="#000" stroke-width="0.8"/>
<line x1="484.50" y1="342.40" x2="484.50" y2="344.10" stroke="#000" stroke-width="0.8"/>
<line x1="383.20" y1="343.30" x2="484.50" y2="343.30" stroke="#000" stroke-width="1.0499999999999998"/>
<text x="436.10" y="353.30" font-size="6.9" text-anchor="middle" fill="#333" textLength="50.70" lengthAdjust="spacingAndGlyphs">KCNQ2-<tspan fill="#1b9a79">G279S</tspan></text>
<text x="231.3" y="388.6" font-size="12.5" font-weight="bold" fill="#000" stroke="#000" stroke-width="0.45">g</text>
<text x="374.60" y="391.30" font-size="8.3" text-anchor="middle" textLength="138.70" lengthAdjust="spacingAndGlyphs">Heterozygous KCNQ2 expression</text>
<path d="M240.50 483.00 L246.75 483.00 L248.99 483.00 L251.24 483.00 L253.48 483.00 L255.73 483.00 L257.97 483.00 L260.22 483.00 L262.46 483.00 L264.70 483.00 L266.95 483.00 L269.19 483.00 L271.44 483.00 L273.68 483.00 L275.93 483.00 L278.17 483.00 L280.41 483.00 L282.66 483.00 L284.90 483.00 L287.15 483.00 L289.39 483.00 L291.64 483.00 L293.88 483.00 L296.12 483.00 L298.37 483.00 L300.61 483.00 L302.86 483.00 L305.10 483.00 L307.35 483.00 L309.59 483.00 L311.84 483.00 L314.08 483.00 L316.32 483.00 L318.57 483.00 L320.81 483.00 L323.06 483.00 L325.30 483.00 L327.55 483.00 L329.79 483.00 L332.03 483.00 L334.28 483.00 L336.52 483.00 L338.77 483.00 L341.01 483.00 L343.26 483.00 L345.50 483.00 L345.50 483.00 L346.46 480.13 L347.41 477.32 L348.37 474.58 L349.32 471.90 L350.28 469.29 L351.23 466.73 L352.19 464.23 L353.14 461.80 L354.10 459.41 L355.06 457.08 L356.01 454.81 L356.97 452.59 L357.92 450.42 L358.88 448.30 L359.83 446.23 L360.79 444.20 L361.74 442.23 L362.70 440.30" stroke="#000" stroke-width="1.0" fill="none" stroke-linejoin="round"/>
<path d="M240.50 483.00 L246.75 483.00 L248.99 482.87 L251.24 482.72 L253.48 482.59 L255.73 482.48 L257.97 482.39 L260.22 482.30 L262.46 482.22 L264.70 482.16 L266.95 482.10 L269.19 482.04 L271.44 481.99 L273.68 481.95 L275.93 481.91 L278.17 481.88 L280.41 481.85 L282.66 481.82 L284.90 481.80 L287.15 481.77 L289.39 481.75 L291.64 481.74 L293.88 481.72 L296.12 481.70 L298.37 481.69 L300.61 481.68 L302.86 481.67 L305.10 481.65 L307.35 481.64 L309.59 481.64 L311.84 481.63 L314.08 481.62 L316.32 481.61 L318.57 481.60 L320.81 481.60 L323.06 481.59 L325.30 481.59 L327.55 481.58 L329.79 481.57 L332.03 481.57 L334.28 481.56 L336.52 481.56 L338.77 481.55 L341.01 481.55 L343.26 481.54 L345.50 481.54 L345.50 481.54 L346.46 478.73 L347.41 475.99 L348.37 473.32 L349.32 470.72 L350.28 468.17 L351.23 465.70 L352.19 463.28 L353.14 460.92 L354.10 458.62 L355.06 456.37 L356.01 454.18 L356.97 452.05 L357.92 449.97 L358.88 447.93 L359.83 445.95 L360.79 444.02 L361.74 442.13 L362.70 440.30" stroke="#000" stroke-width="1.0" fill="none" stroke-linejoin="round"/>
<path d="M240.50 483.00 L246.75 483.00 L248.99 482.58 L251.24 482.09 L253.48 481.69 L255.73 481.35 L257.97 481.05 L260.22 480.79 L262.46 480.56 L264.70 480.36 L266.95 480.18 L269.19 480.02 L271.44 479.88 L273.68 479.76 L275.93 479.65 L278.17 479.55 L280.41 479.46 L282.66 479.39 L284.90 479.32 L287.15 479.26 L289.39 479.20 L291.64 479.15 L293.88 479.10 L296.12 479.06 L298.37 479.03 L300.61 478.99 L302.86 478.96 L305.10 478.93 L307.35 478.90 L309.59 478.88 L311.84 478.86 L314.08 478.84 L316.32 478.82 L318.57 478.80 L320.81 478.78 L323.06 478.76 L325.30 478.75 L327.55 478.73 L329.79 478.71 L332.03 478.70 L334.28 478.69 L336.52 478.67 L338.77 478.66 L341.01 478.65 L343.26 478.63 L345.50 478.62 L345.50 478.62 L346.46 475.94 L347.41 473.33 L348.37 470.80 L349.32 468.33 L350.28 465.94 L351.23 463.61 L352.19 461.35 L353.14 459.15 L354.10 457.02 L355.06 454.94 L356.01 452.92 L356.97 450.96 L357.92 449.05 L358.88 447.20 L359.83 445.40 L360.79 443.65 L361.74 441.95 L362.70 440.30" stroke="#000" stroke-width="1.0" fill="none" stroke-linejoin="round"/>
<path d="M240.50 483.00 L246.75 483.00 L248.99 482.01 L251.24 480.88 L253.48 479.97 L255.73 479.20 L257.97 478.54 L260.22 477.96 L262.46 477.46 L264.70 477.02 L266.95 476.64 L269.19 476.31 L271.44 476.01 L273.68 475.76 L275.93 475.53 L278.17 475.33 L280.41 475.16 L282.66 475.00 L284.90 474.87 L287.15 474.75 L289.39 474.64 L291.64 474.54 L293.88 474.45 L296.12 474.37 L298.37 474.30 L300.61 474.24 L302.86 474.18 L305.10 474.12 L307.35 474.07 L309.59 474.02 L311.84 473.98 L314.08 473.94 L316.32 473.90 L318.57 473.86 L320.81 473.83 L323.06 473.80 L325.30 473.76 L327.55 473.73 L329.79 473.70 L332.03 473.67 L334.28 473.64 L336.52 473.62 L338.77 473.59 L341.01 473.56 L343.26 473.54 L345.50 473.51 L345.50 473.51 L346.46 471.03 L347.41 468.65 L348.37 466.34 L349.32 464.13 L350.28 461.99 L351.23 459.93 L352.19 457.94 L353.14 456.03 L354.10 454.18 L355.06 452.40 L356.01 450.69 L356.97 449.03 L357.92 447.44 L358.88 445.90 L359.83 444.42 L360.79 443.00 L361.74 441.62 L362.70 440.30" stroke="#000" stroke-width="1.0" fill="none" stroke-linejoin="round"/>
<path d="M240.50 483.00 L246.75 483.00 L248.99 481.10 L251.24 478.95 L253.48 477.24 L255.73 475.82 L257.97 474.61 L260.22 473.58 L262.46 472.69 L264.70 471.93 L266.95 471.27 L269.19 470.70 L271.44 470.21 L273.68 469.78 L275.93 469.41 L278.17 469.09 L280.41 468.81 L282.66 468.56 L284.90 468.35 L287.15 468.15 L289.39 467.99 L291.64 467.84 L293.88 467.70 L296.12 467.58 L298.37 467.47 L300.61 467.37 L302.86 467.28 L305.10 467.20 L307.35 467.12 L309.59 467.05 L311.84 466.98 L314.08 466.91 L316.32 466.85 L318.57 466.79 L320.81 466.74 L323.06 466.68 L325.30 466.63 L327.55 466.58 L329.79 466.53 L332.03 466.48 L334.28 466.44 L336.52 466.39 L338.77 466.34 L341.01 466.30 L343.26 466.25 L345.50 466.21 L345.50 466.21 L346.46 463.99 L347.41 461.88 L348.37 459.90 L349.32 458.02 L350.28 456.24 L351.23 454.56 L352.19 452.97 L353.14 451.47 L354.10 450.05 L355.06 448.71 L356.01 447.44 L356.97 446.24 L357.92 445.10 L358.88 444.03 L359.83 443.02 L360.79 442.06 L361.74 441.15 L362.70 440.30" stroke="#000" stroke-width="1.0" fill="none" stroke-linejoin="round"/>
<path d="M240.50 483.00 L246.75 483.00 L248.99 479.83 L251.24 476.29 L253.48 473.53 L255.73 471.28 L257.97 469.40 L260.22 467.81 L262.46 466.47 L264.70 465.33 L266.95 464.37 L269.19 463.55 L271.44 462.85 L273.68 462.26 L275.93 461.75 L278.17 461.31 L280.41 460.93 L282.66 460.60 L284.90 460.32 L287.15 460.07 L289.39 459.85 L291.64 459.65 L293.88 459.48 L296.12 459.33 L298.37 459.18 L300.61 459.06 L302.86 458.94 L305.10 458.83 L307.35 458.73 L309.59 458.63 L311.84 458.54 L314.08 458.45 L316.32 458.37 L318.57 458.29 L320.81 458.21 L323.06 458.14 L325.30 458.06 L327.55 457.99 L329.79 457.92 L332.03 457.85 L334.28 457.78 L336.52 457.72 L338.77 457.65 L341.01 457.58 L343.26 457.52 L345.50 457.45 L345.50 457.45 L346.46 455.45 L347.41 453.65 L348.37 452.02 L349.32 450.56 L350.28 449.23 L351.23 448.04 L352.19 446.97 L353.14 446.00 L354.10 445.13 L355.06 444.35 L356.01 443.64 L356.97 443.00 L357.92 442.42 L358.88 441.91 L359.83 441.44 L360.79 441.02 L361.74 440.64 L362.70 440.30" stroke="#000" stroke-width="1.0" fill="none" stroke-linejoin="round"/>
<path d="M240.50 483.00 L246.75 483.00 L248.99 478.18 L251.24 472.90 L253.48 468.87 L255.73 465.66 L257.97 463.03 L260.22 460.86 L262.46 459.06 L264.70 457.57 L266.95 456.33 L269.19 455.29 L271.44 454.42 L273.68 453.70 L275.93 453.08 L278.17 452.57 L280.41 452.12 L282.66 451.74 L284.90 451.42 L287.15 451.13 L289.39 450.89 L291.64 450.67 L293.88 450.47 L296.12 450.29 L298.37 450.13 L300.61 449.98 L302.86 449.85 L305.10 449.72 L307.35 449.60 L309.59 449.48 L311.84 449.37 L314.08 449.27 L316.32 449.16 L318.57 449.06 L320.81 448.97 L323.06 448.87 L325.30 448.77 L327.55 448.68 L329.79 448.59 L332.03 448.50 L334.28 448.41 L336.52 448.32 L338.77 448.23 L341.01 448.14 L343.26 448.05 L345.50 447.96 L345.50 447.96 L346.46 446.41 L347.41 445.17 L348.37 444.17 L349.32 443.37 L350.28 442.73 L351.23 442.22 L352.19 441.81 L353.14 441.48 L354.10 441.21 L355.06 441.00 L356.01 440.83 L356.97 440.70 L357.92 440.59 L358.88 440.50 L359.83 440.43 L360.79 440.38 L361.74 440.33 L362.70 440.30" stroke="#000" stroke-width="1.0" fill="none" stroke-linejoin="round"/>
<path d="M240.50 483.00 L246.75 483.00 L248.99 476.13 L251.24 468.78 L253.48 463.33 L255.73 459.10 L257.97 455.73 L260.22 453.02 L262.46 450.84 L264.70 449.07 L266.95 447.63 L269.19 446.46 L271.44 445.51 L273.68 444.72 L275.93 444.07 L278.17 443.52 L280.41 443.07 L282.66 442.68 L284.90 442.35 L287.15 442.06 L289.39 441.81 L291.64 441.59 L293.88 441.39 L296.12 441.20 L298.37 441.03 L300.61 440.88 L302.86 440.73 L305.10 440.59 L307.35 440.45 L309.59 440.32 L311.84 440.20 L314.08 440.07 L316.32 439.95 L318.57 439.83 L320.81 439.72 L323.06 439.60 L325.30 439.49 L327.55 439.37 L329.79 439.26 L332.03 439.14 L334.28 439.03 L336.52 438.92 L338.77 438.81 L341.01 438.69 L343.26 438.58 L345.50 438.47 L345.50 438.47 L346.46 439.01 L347.41 439.38 L348.37 439.65 L349.32 439.84 L350.28 439.97 L351.23 440.07 L352.19 440.13 L353.14 440.18 L354.10 440.21 L355.06 440.24 L356.01 440.25 L356.97 440.27 L357.92 440.28 L358.88 440.28 L359.83 440.29 L360.79 440.29 L361.74 440.29 L362.70 440.29" stroke="#000" stroke-width="1.0" fill="none" stroke-linejoin="round"/>
<path d="M240.50 483.00 L246.75 483.00 L248.99 473.69 L251.24 464.05 L253.48 457.15 L255.73 452.00 L257.97 448.05 L260.22 444.98 L262.46 442.58 L264.70 440.70 L266.95 439.23 L269.19 438.06 L271.44 437.13 L273.68 436.38 L275.93 435.77 L278.17 435.27 L280.41 434.86 L282.66 434.51 L284.90 434.21 L287.15 433.95 L289.39 433.72 L291.64 433.51 L293.88 433.32 L296.12 433.14 L298.37 432.97 L300.61 432.81 L302.86 432.66 L305.10 432.51 L307.35 432.37 L309.59 432.22 L311.84 432.08 L314.08 431.95 L316.32 431.81 L318.57 431.67 L320.81 431.54 L323.06 431.40 L325.30 431.27 L327.55 431.14 L329.79 431.00 L332.03 430.87 L334.28 430.74 L336.52 430.61 L338.77 430.47 L341.01 430.34 L343.26 430.21 L345.50 430.07 L345.50 430.07 L346.46 433.07 L347.41 435.19 L348.37 436.69 L349.32 437.75 L350.28 438.49 L351.23 439.02 L352.19 439.40 L353.14 439.66 L354.10 439.85 L355.06 439.98 L356.01 440.07 L356.97 440.14 L357.92 440.18 L358.88 440.22 L359.83 440.24 L360.79 440.26 L361.74 440.27 L362.70 440.28" stroke="#000" stroke-width="1.0" fill="none" stroke-linejoin="round"/>
<path d="M240.50 483.00 L246.75 483.00 L248.99 470.47 L251.24 458.02 L253.48 449.57 L255.73 443.59 L257.97 439.21 L260.22 435.97 L262.46 433.56 L264.70 431.75 L266.95 430.38 L269.19 429.34 L271.44 428.53 L273.68 427.90 L275.93 427.40 L278.17 426.98 L280.41 426.64 L282.66 426.35 L284.90 426.10 L287.15 425.87 L289.39 425.66 L291.64 425.47 L293.88 425.29 L296.12 425.11 L298.37 424.94 L300.61 424.78 L302.86 424.62 L305.10 424.46 L307.35 424.30 L309.59 424.14 L311.84 423.99 L314.08 423.83 L316.32 423.68 L318.57 423.52 L320.81 423.37 L323.06 423.21 L325.30 423.06 L327.55 422.91 L329.79 422.75 L332.03 422.60 L334.28 422.45 L336.52 422.29 L338.77 422.14 L341.01 421.99 L343.26 421.83 L345.50 421.68 L345.50 421.68 L346.46 427.14 L347.41 431.00 L348.37 433.73 L349.32 435.65 L350.28 437.01 L351.23 437.98 L352.19 438.66 L353.14 439.14 L354.10 439.48 L355.06 439.72 L356.01 439.89 L356.97 440.01 L357.92 440.09 L358.88 440.15 L359.83 440.19 L360.79 440.22 L361.74 440.24 L362.70 440.26" stroke="#000" stroke-width="1.0" fill="none" stroke-linejoin="round"/>
<path d="M240.50 483.00 L246.75 483.00 L248.99 466.44 L251.24 450.97 L253.48 441.27 L255.73 434.90 L257.97 430.56 L260.22 427.57 L262.46 425.48 L264.70 424.01 L266.95 422.95 L269.19 422.17 L271.44 421.59 L273.68 421.14 L275.93 420.78 L278.17 420.48 L280.41 420.22 L282.66 419.99 L284.90 419.78 L287.15 419.58 L289.39 419.39 L291.64 419.21 L293.88 419.03 L296.12 418.86 L298.37 418.68 L300.61 418.51 L302.86 418.34 L305.10 418.17 L307.35 418.00 L309.59 417.83 L311.84 417.66 L314.08 417.49 L316.32 417.32 L318.57 417.15 L320.81 416.98 L323.06 416.81 L325.30 416.64 L327.55 416.47 L329.79 416.30 L332.03 416.13 L334.28 415.96 L336.52 415.79 L338.77 415.62 L341.01 415.45 L343.26 415.28 L345.50 415.11 L345.50 415.11 L346.46 422.50 L347.41 427.72 L348.37 431.41 L349.32 434.02 L350.28 435.86 L351.23 437.16 L352.19 438.08 L353.14 438.73 L354.10 439.19 L355.06 439.51 L356.01 439.74 L356.97 439.90 L357.92 440.02 L358.88 440.10 L359.83 440.16 L360.79 440.20 L361.74 440.23 L362.70 440.25" stroke="#000" stroke-width="1.0" fill="none" stroke-linejoin="round"/>
<path d="M240.50 483.00 L246.75 483.00 L248.99 460.93 L251.24 442.26 L253.48 431.93 L255.73 425.95 L257.97 422.32 L260.22 420.07 L262.46 418.65 L264.70 417.71 L266.95 417.08 L269.19 416.62 L271.44 416.27 L273.68 415.99 L275.93 415.75 L278.17 415.53 L280.41 415.33 L282.66 415.13 L284.90 414.94 L287.15 414.75 L289.39 414.57 L291.64 414.38 L293.88 414.20 L296.12 414.02 L298.37 413.83 L300.61 413.65 L302.86 413.47 L305.10 413.29 L307.35 413.10 L309.59 412.92 L311.84 412.74 L314.08 412.56 L316.32 412.37 L318.57 412.19 L320.81 412.01 L323.06 411.83 L325.30 411.64 L327.55 411.46 L329.79 411.28 L332.03 411.10 L334.28 410.91 L336.52 410.73 L338.77 410.55 L341.01 410.37 L343.26 410.18 L345.50 410.00 L345.50 410.00 L346.46 418.89 L347.41 425.17 L348.37 429.60 L349.32 432.74 L350.28 434.96 L351.23 436.52 L352.19 437.63 L353.14 438.41 L354.10 438.96 L355.06 439.35 L356.01 439.63 L356.97 439.83 L357.92 439.96 L358.88 440.06 L359.83 440.13 L360.79 440.18 L361.74 440.21 L362.70 440.24" stroke="#000" stroke-width="1.0" fill="none" stroke-linejoin="round"/>
<line x1="240.50" y1="483.00" x2="246.75" y2="483.00" stroke="#000" stroke-width="1.8"/>
<path d="M245.55 483.00 L246.75 486.20 L247.95 483.00 Z" stroke="#000" stroke-width="0.3" fill="#000"/>
<line x1="246.75" y1="482.50" x2="246.75" y2="485.20" stroke="#000" stroke-width="1.0"/>
<line x1="345.50" y1="410.00" x2="345.50" y2="485.00" stroke="#000" stroke-width="0.9"/>
<line x1="362.70" y1="437.69" x2="362.70" y2="441.90" stroke="#000" stroke-width="1.3"/>
<path d="M231.3 476.8 V495.5 H247.3" stroke="#222" stroke-width="0.8" fill="none"/>
<text x="301.00" y="492.80" font-size="6.9" text-anchor="middle" fill="#333" textLength="54.00" lengthAdjust="spacingAndGlyphs">KCNQ2-<tspan fill="#3b3b9e">WT</tspan>/<tspan fill="#3b3b9e">WT</tspan></text>
<path d="M379.00 482.70 L385.75 482.70 L387.99 482.70 L390.24 482.70 L392.48 482.70 L394.73 482.70 L396.97 482.70 L399.22 482.70 L401.46 482.70 L403.70 482.70 L405.95 482.70 L408.19 482.70 L410.44 482.70 L412.68 482.70 L414.93 482.70 L417.17 482.70 L419.41 482.70 L421.66 482.70 L423.90 482.70 L426.15 482.70 L428.39 482.70 L430.64 482.70 L432.88 482.70 L435.12 482.70 L437.37 482.70 L439.61 482.70 L441.86 482.70 L444.10 482.70 L446.35 482.70 L448.59 482.70 L450.84 482.70 L453.08 482.70 L455.32 482.70 L457.57 482.70 L459.81 482.70 L462.06 482.70 L464.30 482.70 L466.55 482.70 L468.79 482.70 L471.03 482.70 L473.28 482.70 L475.52 482.70 L477.77 482.70 L480.01 482.70 L482.26 482.70 L484.50 482.70 L484.50 482.70 L485.47 481.03 L486.44 479.40 L487.42 477.81 L488.39 476.26 L489.36 474.74 L490.33 473.25 L491.31 471.80 L492.28 470.39 L493.25 469.00 L494.22 467.65 L495.19 466.33 L496.17 465.04 L497.14 463.78 L498.11 462.55 L499.08 461.34 L500.06 460.17 L501.03 459.02 L502.00 457.90" stroke="#000" stroke-width="1.0" fill="none" stroke-linejoin="round"/>
<path d="M379.00 482.70 L385.75 482.70 L387.99 482.63 L390.24 482.54 L392.48 482.48 L394.73 482.42 L396.97 482.36 L399.22 482.32 L401.46 482.27 L403.70 482.24 L405.95 482.20 L408.19 482.18 L410.44 482.15 L412.68 482.13 L414.93 482.10 L417.17 482.09 L419.41 482.07 L421.66 482.05 L423.90 482.04 L426.15 482.03 L428.39 482.02 L430.64 482.01 L432.88 482.00 L435.12 481.99 L437.37 481.98 L439.61 481.97 L441.86 481.97 L444.10 481.96 L446.35 481.96 L448.59 481.95 L450.84 481.95 L453.08 481.94 L455.32 481.94 L457.57 481.94 L459.81 481.93 L462.06 481.93 L464.30 481.92 L466.55 481.92 L468.79 481.92 L471.03 481.92 L473.28 481.91 L475.52 481.91 L477.77 481.91 L480.01 481.90 L482.26 481.90 L484.50 481.90 L484.50 481.90 L485.47 480.27 L486.44 478.67 L487.42 477.12 L488.39 475.61 L489.36 474.13 L490.33 472.68 L491.31 471.28 L492.28 469.91 L493.25 468.57 L494.22 467.26 L495.19 465.99 L496.17 464.74 L497.14 463.53 L498.11 462.35 L499.08 461.19 L500.06 460.07 L501.03 458.97 L502.00 457.90" stroke="#000" stroke-width="1.0" fill="none" stroke-linejoin="round"/>
<path d="M379.00 482.70 L385.75 482.70 L387.99 482.47 L390.24 482.20 L392.48 481.98 L394.73 481.80 L396.97 481.63 L399.22 481.49 L401.46 481.36 L403.70 481.25 L405.95 481.16 L408.19 481.07 L410.44 480.99 L412.68 480.92 L414.93 480.86 L417.17 480.81 L419.41 480.76 L421.66 480.72 L423.90 480.68 L426.15 480.65 L428.39 480.62 L430.64 480.59 L432.88 480.57 L435.12 480.54 L437.37 480.52 L439.61 480.50 L441.86 480.49 L444.10 480.47 L446.35 480.46 L448.59 480.44 L450.84 480.43 L453.08 480.42 L455.32 480.41 L457.57 480.40 L459.81 480.39 L462.06 480.38 L464.30 480.37 L466.55 480.36 L468.79 480.35 L471.03 480.34 L473.28 480.34 L475.52 480.33 L477.77 480.32 L480.01 480.31 L482.26 480.31 L484.50 480.30 L484.50 480.30 L485.47 478.74 L486.44 477.22 L487.42 475.74 L488.39 474.30 L489.36 472.90 L490.33 471.54 L491.31 470.22 L492.28 468.94 L493.25 467.69 L494.22 466.48 L495.19 465.30 L496.17 464.15 L497.14 463.03 L498.11 461.95 L499.08 460.89 L500.06 459.87 L501.03 458.87 L502.00 457.90" stroke="#000" stroke-width="1.0" fill="none" stroke-linejoin="round"/>
<path d="M379.00 482.70 L385.75 482.70 L387.99 482.16 L390.24 481.54 L392.48 481.04 L394.73 480.62 L396.97 480.25 L399.22 479.94 L401.46 479.66 L403.70 479.42 L405.95 479.21 L408.19 479.03 L410.44 478.87 L412.68 478.73 L414.93 478.61 L417.17 478.50 L419.41 478.40 L421.66 478.32 L423.90 478.24 L426.15 478.18 L428.39 478.12 L430.64 478.06 L432.88 478.02 L435.12 477.97 L437.37 477.93 L439.61 477.90 L441.86 477.87 L444.10 477.84 L446.35 477.81 L448.59 477.78 L450.84 477.76 L453.08 477.74 L455.32 477.71 L457.57 477.69 L459.81 477.67 L462.06 477.66 L464.30 477.64 L466.55 477.62 L468.79 477.61 L471.03 477.59 L473.28 477.57 L475.52 477.56 L477.77 477.54 L480.01 477.53 L482.26 477.51 L484.50 477.50 L484.50 477.50 L485.47 476.05 L486.44 474.65 L487.42 473.30 L488.39 472.00 L489.36 470.74 L490.33 469.53 L491.31 468.36 L492.28 467.23 L493.25 466.14 L494.22 465.09 L495.19 464.07 L496.17 463.09 L497.14 462.15 L498.11 461.24 L499.08 460.36 L500.06 459.51 L501.03 458.69 L502.00 457.90" stroke="#000" stroke-width="1.0" fill="none" stroke-linejoin="round"/>
<path d="M379.00 482.70 L385.75 482.70 L387.99 481.66 L390.24 480.48 L392.48 479.54 L394.73 478.77 L396.97 478.11 L399.22 477.54 L401.46 477.05 L403.70 476.63 L405.95 476.27 L408.19 475.96 L410.44 475.69 L412.68 475.46 L414.93 475.25 L417.17 475.08 L419.41 474.92 L421.66 474.79 L423.90 474.67 L426.15 474.57 L428.39 474.47 L430.64 474.39 L432.88 474.32 L435.12 474.25 L437.37 474.19 L439.61 474.14 L441.86 474.09 L444.10 474.04 L446.35 474.00 L448.59 473.96 L450.84 473.92 L453.08 473.89 L455.32 473.85 L457.57 473.82 L459.81 473.79 L462.06 473.76 L464.30 473.73 L466.55 473.70 L468.79 473.68 L471.03 473.65 L473.28 473.62 L475.52 473.60 L477.77 473.57 L480.01 473.55 L482.26 473.52 L484.50 473.50 L484.50 473.50 L485.47 472.19 L486.44 470.95 L487.42 469.77 L488.39 468.66 L489.36 467.60 L490.33 466.59 L491.31 465.64 L492.28 464.74 L493.25 463.88 L494.22 463.06 L495.19 462.29 L496.17 461.56 L497.14 460.87 L498.11 460.21 L499.08 459.59 L500.06 458.99 L501.03 458.43 L502.00 457.90" stroke="#000" stroke-width="1.0" fill="none" stroke-linejoin="round"/>
<path d="M379.00 482.70 L385.75 482.70 L387.99 480.96 L390.24 479.02 L392.48 477.51 L394.73 476.28 L396.97 475.25 L399.22 474.38 L401.46 473.64 L403.70 473.02 L405.95 472.49 L408.19 472.04 L410.44 471.66 L412.68 471.33 L414.93 471.05 L417.17 470.81 L419.41 470.61 L421.66 470.43 L423.90 470.27 L426.15 470.13 L428.39 470.01 L430.64 469.91 L432.88 469.81 L435.12 469.73 L437.37 469.65 L439.61 469.58 L441.86 469.51 L444.10 469.45 L446.35 469.40 L448.59 469.35 L450.84 469.30 L453.08 469.25 L455.32 469.20 L457.57 469.16 L459.81 469.12 L462.06 469.08 L464.30 469.04 L466.55 469.00 L468.79 468.96 L471.03 468.92 L473.28 468.88 L475.52 468.85 L477.77 468.81 L480.01 468.77 L482.26 468.74 L484.50 468.70 L484.50 468.70 L485.47 467.52 L486.44 466.44 L487.42 465.46 L488.39 464.57 L489.36 463.76 L490.33 463.02 L491.31 462.34 L492.28 461.72 L493.25 461.16 L494.22 460.65 L495.19 460.19 L496.17 459.76 L497.14 459.38 L498.11 459.02 L499.08 458.70 L500.06 458.41 L501.03 458.14 L502.00 457.90" stroke="#000" stroke-width="1.0" fill="none" stroke-linejoin="round"/>
<path d="M379.00 482.70 L385.75 482.70 L387.99 480.06 L390.24 477.17 L392.48 474.96 L394.73 473.20 L396.97 471.76 L399.22 470.57 L401.46 469.58 L403.70 468.76 L405.95 468.08 L408.19 467.52 L410.44 467.04 L412.68 466.64 L414.93 466.31 L417.17 466.02 L419.41 465.78 L421.66 465.57 L423.90 465.39 L426.15 465.24 L428.39 465.10 L430.64 464.98 L432.88 464.88 L435.12 464.78 L437.37 464.69 L439.61 464.61 L441.86 464.53 L444.10 464.46 L446.35 464.40 L448.59 464.33 L450.84 464.27 L453.08 464.22 L455.32 464.16 L457.57 464.10 L459.81 464.05 L462.06 464.00 L464.30 463.95 L466.55 463.90 L468.79 463.84 L471.03 463.79 L473.28 463.74 L475.52 463.70 L477.77 463.65 L480.01 463.60 L482.26 463.55 L484.50 463.50 L484.50 463.50 L485.47 462.50 L486.44 461.67 L487.42 460.98 L488.39 460.42 L489.36 459.95 L490.33 459.56 L491.31 459.24 L492.28 458.98 L493.25 458.76 L494.22 458.58 L495.19 458.43 L496.17 458.30 L497.14 458.20 L498.11 458.12 L499.08 458.05 L500.06 457.99 L501.03 457.94 L502.00 457.90" stroke="#000" stroke-width="1.0" fill="none" stroke-linejoin="round"/>
<path d="M379.00 482.70 L385.75 482.70 L387.99 478.93 L390.24 474.91 L392.48 471.92 L394.73 469.60 L396.97 467.76 L399.22 466.27 L401.46 465.08 L403.70 464.11 L405.95 463.32 L408.19 462.68 L410.44 462.16 L412.68 461.72 L414.93 461.37 L417.17 461.07 L419.41 460.82 L421.66 460.61 L423.90 460.43 L426.15 460.27 L428.39 460.13 L430.64 460.01 L432.88 459.90 L435.12 459.80 L437.37 459.71 L439.61 459.62 L441.86 459.54 L444.10 459.46 L446.35 459.39 L448.59 459.32 L450.84 459.25 L453.08 459.18 L455.32 459.11 L457.57 459.05 L459.81 458.98 L462.06 458.92 L464.30 458.86 L466.55 458.79 L468.79 458.73 L471.03 458.67 L473.28 458.61 L475.52 458.55 L477.77 458.48 L480.01 458.42 L482.26 458.36 L484.50 458.30 L484.50 458.30 L485.47 458.19 L486.44 458.12 L487.42 458.06 L488.39 458.02 L489.36 457.98 L490.33 457.96 L491.31 457.95 L492.28 457.93 L493.25 457.92 L494.22 457.92 L495.19 457.91 L496.17 457.91 L497.14 457.91 L498.11 457.90 L499.08 457.90 L500.06 457.90 L501.03 457.90 L502.00 457.90" stroke="#000" stroke-width="1.0" fill="none" stroke-linejoin="round"/>
<path d="M379.00 482.70 L385.75 482.70 L387.99 477.60 L390.24 472.31 L392.48 468.54 L394.73 465.72 L396.97 463.55 L399.22 461.87 L401.46 460.55 L403.70 459.52 L405.95 458.71 L408.19 458.07 L410.44 457.56 L412.68 457.15 L414.93 456.82 L417.17 456.55 L419.41 456.32 L421.66 456.13 L423.90 455.97 L426.15 455.82 L428.39 455.70 L430.64 455.58 L432.88 455.48 L435.12 455.38 L437.37 455.29 L439.61 455.20 L441.86 455.12 L444.10 455.03 L446.35 454.96 L448.59 454.88 L450.84 454.80 L453.08 454.73 L455.32 454.65 L457.57 454.58 L459.81 454.50 L462.06 454.43 L464.30 454.36 L466.55 454.28 L468.79 454.21 L471.03 454.14 L473.28 454.06 L475.52 453.99 L477.77 453.92 L480.01 453.85 L482.26 453.77 L484.50 453.70 L484.50 453.70 L485.47 454.93 L486.44 455.80 L487.42 456.42 L488.39 456.85 L489.36 457.16 L490.33 457.38 L491.31 457.53 L492.28 457.64 L493.25 457.72 L494.22 457.77 L495.19 457.81 L496.17 457.83 L497.14 457.85 L498.11 457.87 L499.08 457.88 L500.06 457.88 L501.03 457.89 L502.00 457.89" stroke="#000" stroke-width="1.0" fill="none" stroke-linejoin="round"/>
<path d="M379.00 482.70 L385.75 482.70 L387.99 475.83 L390.24 469.01 L392.48 464.38 L394.73 461.11 L396.97 458.71 L399.22 456.93 L401.46 455.61 L403.70 454.62 L405.95 453.87 L408.19 453.30 L410.44 452.85 L412.68 452.51 L414.93 452.23 L417.17 452.01 L419.41 451.82 L421.66 451.66 L423.90 451.52 L426.15 451.40 L428.39 451.28 L430.64 451.18 L432.88 451.08 L435.12 450.98 L437.37 450.89 L439.61 450.80 L441.86 450.71 L444.10 450.62 L446.35 450.53 L448.59 450.45 L450.84 450.36 L453.08 450.28 L455.32 450.19 L457.57 450.11 L459.81 450.03 L462.06 449.94 L464.30 449.86 L466.55 449.77 L468.79 449.69 L471.03 449.60 L473.28 449.52 L475.52 449.44 L477.77 449.35 L480.01 449.27 L482.26 449.18 L484.50 449.10 L484.50 449.10 L485.47 451.68 L486.44 453.51 L487.42 454.79 L488.39 455.71 L489.36 456.35 L490.33 456.80 L491.31 457.13 L492.28 457.35 L493.25 457.51 L494.22 457.63 L495.19 457.71 L496.17 457.76 L497.14 457.80 L498.11 457.83 L499.08 457.85 L500.06 457.87 L501.03 457.88 L502.00 457.88" stroke="#000" stroke-width="1.0" fill="none" stroke-linejoin="round"/>
<path d="M379.00 482.70 L385.75 482.70 L387.99 473.63 L390.24 465.15 L392.48 459.83 L394.73 456.34 L396.97 453.97 L399.22 452.33 L401.46 451.18 L403.70 450.37 L405.95 449.79 L408.19 449.37 L410.44 449.05 L412.68 448.80 L414.93 448.61 L417.17 448.44 L419.41 448.30 L421.66 448.17 L423.90 448.06 L426.15 447.95 L428.39 447.85 L430.64 447.75 L432.88 447.65 L435.12 447.55 L437.37 447.46 L439.61 447.36 L441.86 447.27 L444.10 447.18 L446.35 447.08 L448.59 446.99 L450.84 446.90 L453.08 446.80 L455.32 446.71 L457.57 446.62 L459.81 446.52 L462.06 446.43 L464.30 446.34 L466.55 446.24 L468.79 446.15 L471.03 446.06 L473.28 445.97 L475.52 445.87 L477.77 445.78 L480.01 445.69 L482.26 445.59 L484.50 445.50 L484.50 445.50 L485.47 449.14 L486.44 451.71 L487.42 453.52 L488.39 454.81 L489.36 455.72 L490.33 456.36 L491.31 456.81 L492.28 457.13 L493.25 457.36 L494.22 457.52 L495.19 457.63 L496.17 457.71 L497.14 457.76 L498.11 457.80 L499.08 457.83 L500.06 457.85 L501.03 457.87 L502.00 457.88" stroke="#000" stroke-width="1.0" fill="none" stroke-linejoin="round"/>
<path d="M379.00 482.70 L385.75 482.70 L387.99 470.61 L390.24 460.38 L392.48 454.72 L394.73 451.44 L396.97 449.45 L399.22 448.22 L401.46 447.44 L403.70 446.93 L405.95 446.58 L408.19 446.33 L410.44 446.14 L412.68 445.98 L414.93 445.85 L417.17 445.73 L419.41 445.62 L421.66 445.51 L423.90 445.41 L426.15 445.30 L428.39 445.20 L430.64 445.10 L432.88 445.00 L435.12 444.90 L437.37 444.80 L439.61 444.70 L441.86 444.60 L444.10 444.50 L446.35 444.40 L448.59 444.30 L450.84 444.20 L453.08 444.10 L455.32 444.00 L457.57 443.90 L459.81 443.80 L462.06 443.70 L464.30 443.60 L466.55 443.50 L468.79 443.40 L471.03 443.30 L473.28 443.20 L475.52 443.10 L477.77 443.00 L480.01 442.90 L482.26 442.80 L484.50 442.70 L484.50 442.70 L485.47 447.16 L486.44 450.31 L487.42 452.54 L488.39 454.11 L489.36 455.22 L490.33 456.01 L491.31 456.56 L492.28 456.95 L493.25 457.23 L494.22 457.43 L495.19 457.57 L496.17 457.66 L497.14 457.73 L498.11 457.78 L499.08 457.82 L500.06 457.84 L501.03 457.86 L502.00 457.87" stroke="#000" stroke-width="1.0" fill="none" stroke-linejoin="round"/>
<line x1="379.00" y1="482.70" x2="385.75" y2="482.70" stroke="#000" stroke-width="1.8"/>
<path d="M384.55 482.70 L385.75 485.90 L386.95 482.70 Z" stroke="#000" stroke-width="0.3" fill="#000"/>
<line x1="385.75" y1="482.20" x2="385.75" y2="484.90" stroke="#000" stroke-width="1.0"/>
<line x1="484.50" y1="442.70" x2="484.50" y2="484.70" stroke="#000" stroke-width="0.9"/>
<line x1="502.00" y1="455.30" x2="502.00" y2="459.50" stroke="#000" stroke-width="1.3"/>
<text x="439.90" y="492.80" font-size="6.9" text-anchor="middle" fill="#333" textLength="56.70" lengthAdjust="spacingAndGlyphs">KCNQ2-<tspan fill="#a6216f">ΔE5</tspan>/<tspan fill="#3b3b9e">WT</tspan></text>
<path d="M240.50 548.00 L246.75 548.00 L248.99 548.00 L251.24 548.00 L253.48 548.00 L255.73 548.00 L257.97 548.00 L260.22 548.00 L262.46 548.00 L264.70 548.00 L266.95 548.00 L269.19 548.00 L271.44 548.00 L273.68 548.00 L275.93 548.00 L278.17 548.00 L280.41 548.00 L282.66 548.00 L284.90 548.00 L287.15 548.00 L289.39 548.00 L291.64 548.00 L293.88 548.00 L296.12 548.00 L298.37 548.00 L300.61 548.00 L302.86 548.00 L305.10 548.00 L307.35 548.00 L309.59 548.00 L311.84 548.00 L314.08 548.00 L316.32 548.00 L318.57 548.00 L320.81 548.00 L323.06 548.00 L325.30 548.00 L327.55 548.00 L329.79 548.00 L332.03 548.00 L334.28 548.00 L336.52 548.00 L338.77 548.00 L341.01 548.00 L343.26 548.00 L345.50 548.00 L345.50 548.00 L346.46 546.26 L347.41 544.57 L348.37 542.91 L349.32 541.29 L350.28 539.71 L351.23 538.16 L352.19 536.65 L353.14 535.17 L354.10 533.73 L355.06 532.33 L356.01 530.95 L356.97 529.61 L357.92 528.29 L358.88 527.01 L359.83 525.76 L360.79 524.53 L361.74 523.34 L362.70 522.17" stroke="#000" stroke-width="1.0" fill="none" stroke-linejoin="round"/>
<path d="M240.50 548.00 L246.75 548.00 L248.99 547.93 L251.24 547.84 L253.48 547.77 L255.73 547.71 L257.97 547.65 L260.22 547.61 L262.46 547.56 L264.70 547.53 L266.95 547.49 L269.19 547.46 L271.44 547.44 L273.68 547.41 L275.93 547.39 L278.17 547.37 L280.41 547.35 L282.66 547.34 L284.90 547.32 L287.15 547.31 L289.39 547.30 L291.64 547.29 L293.88 547.28 L296.12 547.27 L298.37 547.26 L300.61 547.26 L302.86 547.25 L305.10 547.24 L307.35 547.24 L309.59 547.23 L311.84 547.23 L314.08 547.22 L316.32 547.22 L318.57 547.22 L320.81 547.21 L323.06 547.21 L325.30 547.21 L327.55 547.20 L329.79 547.20 L332.03 547.20 L334.28 547.19 L336.52 547.19 L338.77 547.19 L341.01 547.19 L343.26 547.18 L345.50 547.18 L345.50 547.18 L346.46 545.48 L347.41 543.82 L348.37 542.20 L349.32 540.62 L350.28 539.08 L351.23 537.58 L352.19 536.11 L353.14 534.68 L354.10 533.29 L355.06 531.93 L356.01 530.60 L356.97 529.30 L357.92 528.04 L358.88 526.81 L359.83 525.60 L360.79 524.43 L361.74 523.29 L362.70 522.17" stroke="#000" stroke-width="1.0" fill="none" stroke-linejoin="round"/>
<path d="M240.50 548.00 L246.75 548.00 L248.99 547.76 L251.24 547.49 L253.48 547.26 L255.73 547.07 L257.97 546.91 L260.22 546.76 L262.46 546.63 L264.70 546.52 L266.95 546.42 L269.19 546.33 L271.44 546.25 L273.68 546.18 L275.93 546.12 L278.17 546.06 L280.41 546.01 L282.66 545.97 L284.90 545.93 L287.15 545.90 L289.39 545.87 L291.64 545.84 L293.88 545.81 L296.12 545.79 L298.37 545.77 L300.61 545.75 L302.86 545.73 L305.10 545.71 L307.35 545.70 L309.59 545.69 L311.84 545.67 L314.08 545.66 L316.32 545.65 L318.57 545.64 L320.81 545.63 L323.06 545.62 L325.30 545.61 L327.55 545.60 L329.79 545.59 L332.03 545.58 L334.28 545.58 L336.52 545.57 L338.77 545.56 L341.01 545.55 L343.26 545.55 L345.50 545.54 L345.50 545.54 L346.46 543.91 L347.41 542.32 L348.37 540.78 L349.32 539.28 L350.28 537.83 L351.23 536.41 L352.19 535.03 L353.14 533.69 L354.10 532.39 L355.06 531.12 L356.01 529.89 L356.97 528.69 L357.92 527.53 L358.88 526.39 L359.83 525.29 L360.79 524.22 L361.74 523.18 L362.70 522.17" stroke="#000" stroke-width="1.0" fill="none" stroke-linejoin="round"/>
<path d="M240.50 548.00 L246.75 548.00 L248.99 547.45 L251.24 546.81 L253.48 546.30 L255.73 545.87 L257.97 545.49 L260.22 545.17 L262.46 544.89 L264.70 544.64 L266.95 544.43 L269.19 544.24 L271.44 544.08 L273.68 543.93 L275.93 543.81 L278.17 543.69 L280.41 543.60 L282.66 543.51 L284.90 543.43 L287.15 543.36 L289.39 543.30 L291.64 543.25 L293.88 543.20 L296.12 543.15 L298.37 543.11 L300.61 543.08 L302.86 543.04 L305.10 543.01 L307.35 542.99 L309.59 542.96 L311.84 542.93 L314.08 542.91 L316.32 542.89 L318.57 542.87 L320.81 542.85 L323.06 542.83 L325.30 542.81 L327.55 542.79 L329.79 542.78 L332.03 542.76 L334.28 542.75 L336.52 542.73 L338.77 542.71 L341.01 542.70 L343.26 542.68 L345.50 542.67 L345.50 542.67 L346.46 541.16 L347.41 539.69 L348.37 538.28 L349.32 536.92 L350.28 535.61 L351.23 534.34 L352.19 533.12 L353.14 531.94 L354.10 530.80 L355.06 529.70 L356.01 528.64 L356.97 527.61 L357.92 526.62 L358.88 525.67 L359.83 524.75 L360.79 523.86 L361.74 523.00 L362.70 522.17" stroke="#000" stroke-width="1.0" fill="none" stroke-linejoin="round"/>
<path d="M240.50 548.00 L246.75 548.00 L248.99 546.93 L251.24 545.73 L253.48 544.77 L255.73 543.97 L257.97 543.29 L260.22 542.71 L262.46 542.21 L264.70 541.78 L266.95 541.41 L269.19 541.09 L271.44 540.81 L273.68 540.58 L275.93 540.37 L278.17 540.19 L280.41 540.03 L282.66 539.89 L284.90 539.77 L287.15 539.66 L289.39 539.57 L291.64 539.48 L293.88 539.41 L296.12 539.34 L298.37 539.28 L300.61 539.22 L302.86 539.17 L305.10 539.12 L307.35 539.08 L309.59 539.04 L311.84 539.00 L314.08 538.97 L316.32 538.93 L318.57 538.90 L320.81 538.87 L323.06 538.84 L325.30 538.81 L327.55 538.78 L329.79 538.75 L332.03 538.72 L334.28 538.70 L336.52 538.67 L338.77 538.65 L341.01 538.62 L343.26 538.59 L345.50 538.57 L345.50 538.57 L346.46 537.20 L347.41 535.90 L348.37 534.67 L349.32 533.50 L350.28 532.39 L351.23 531.34 L352.19 530.33 L353.14 529.38 L354.10 528.48 L355.06 527.63 L356.01 526.81 L356.97 526.04 L357.92 525.31 L358.88 524.62 L359.83 523.96 L360.79 523.33 L361.74 522.73 L362.70 522.17" stroke="#000" stroke-width="1.0" fill="none" stroke-linejoin="round"/>
<path d="M240.50 548.00 L246.75 548.00 L248.99 546.22 L251.24 544.23 L253.48 542.68 L255.73 541.42 L257.97 540.36 L260.22 539.47 L262.46 538.71 L264.70 538.08 L266.95 537.53 L269.19 537.08 L271.44 536.68 L273.68 536.35 L275.93 536.06 L278.17 535.82 L280.41 535.60 L282.66 535.42 L284.90 535.26 L287.15 535.12 L289.39 535.00 L291.64 534.89 L293.88 534.79 L296.12 534.70 L298.37 534.62 L300.61 534.55 L302.86 534.49 L305.10 534.42 L307.35 534.37 L309.59 534.31 L311.84 534.26 L314.08 534.21 L316.32 534.17 L318.57 534.12 L320.81 534.08 L323.06 534.04 L325.30 533.99 L327.55 533.95 L329.79 533.91 L332.03 533.88 L334.28 533.84 L336.52 533.80 L338.77 533.76 L341.01 533.72 L343.26 533.69 L345.50 533.65 L345.50 533.65 L346.46 532.42 L347.41 531.29 L348.37 530.26 L349.32 529.31 L350.28 528.45 L351.23 527.67 L352.19 526.95 L353.14 526.30 L354.10 525.70 L355.06 525.15 L356.01 524.65 L356.97 524.19 L357.92 523.77 L358.88 523.39 L359.83 523.04 L360.79 522.73 L361.74 522.44 L362.70 522.17" stroke="#000" stroke-width="1.0" fill="none" stroke-linejoin="round"/>
<path d="M240.50 548.00 L246.75 548.00 L248.99 545.29 L251.24 542.33 L253.48 540.07 L255.73 538.26 L257.97 536.78 L260.22 535.56 L262.46 534.55 L264.70 533.72 L266.95 533.02 L269.19 532.44 L271.44 531.95 L273.68 531.54 L275.93 531.20 L278.17 530.91 L280.41 530.66 L282.66 530.45 L284.90 530.26 L287.15 530.10 L289.39 529.96 L291.64 529.84 L293.88 529.73 L296.12 529.63 L298.37 529.54 L300.61 529.46 L302.86 529.38 L305.10 529.31 L307.35 529.24 L309.59 529.18 L311.84 529.11 L314.08 529.05 L316.32 529.00 L318.57 528.94 L320.81 528.88 L323.06 528.83 L325.30 528.78 L327.55 528.73 L329.79 528.67 L332.03 528.62 L334.28 528.57 L336.52 528.52 L338.77 528.47 L341.01 528.42 L343.26 528.37 L345.50 528.32 L345.50 528.32 L346.46 527.26 L347.41 526.37 L348.37 525.63 L349.32 525.01 L350.28 524.50 L351.23 524.07 L352.19 523.71 L353.14 523.42 L354.10 523.17 L355.06 522.96 L356.01 522.79 L356.97 522.65 L357.92 522.53 L358.88 522.43 L359.83 522.34 L360.79 522.28 L361.74 522.22 L362.70 522.17" stroke="#000" stroke-width="1.0" fill="none" stroke-linejoin="round"/>
<path d="M240.50 548.00 L246.75 548.00 L248.99 544.14 L251.24 540.01 L253.48 536.95 L255.73 534.58 L257.97 532.68 L260.22 531.16 L262.46 529.94 L264.70 528.94 L266.95 528.14 L269.19 527.48 L271.44 526.94 L273.68 526.50 L275.93 526.13 L278.17 525.83 L280.41 525.57 L282.66 525.36 L284.90 525.17 L287.15 525.01 L289.39 524.87 L291.64 524.74 L293.88 524.63 L296.12 524.52 L298.37 524.43 L300.61 524.34 L302.86 524.26 L305.10 524.18 L307.35 524.10 L309.59 524.03 L311.84 523.96 L314.08 523.89 L316.32 523.82 L318.57 523.76 L320.81 523.69 L323.06 523.63 L325.30 523.56 L327.55 523.50 L329.79 523.43 L332.03 523.37 L334.28 523.31 L336.52 523.24 L338.77 523.18 L341.01 523.12 L343.26 523.05 L345.50 522.99 L345.50 522.99 L346.46 522.77 L347.41 522.61 L348.37 522.50 L349.32 522.41 L350.28 522.35 L351.23 522.30 L352.19 522.26 L353.14 522.24 L354.10 522.22 L355.06 522.21 L356.01 522.20 L356.97 522.19 L357.92 522.18 L358.88 522.18 L359.83 522.18 L360.79 522.17 L361.74 522.17 L362.70 522.17" stroke="#000" stroke-width="1.0" fill="none" stroke-linejoin="round"/>
<path d="M240.50 548.00 L246.75 548.00 L248.99 542.77 L251.24 537.35 L253.48 533.48 L255.73 530.59 L257.97 528.37 L260.22 526.64 L262.46 525.30 L264.70 524.24 L266.95 523.41 L269.19 522.76 L271.44 522.24 L273.68 521.82 L275.93 521.47 L278.17 521.19 L280.41 520.96 L282.66 520.77 L284.90 520.60 L287.15 520.45 L289.39 520.32 L291.64 520.20 L293.88 520.10 L296.12 520.00 L298.37 519.90 L300.61 519.81 L302.86 519.73 L305.10 519.64 L307.35 519.56 L309.59 519.48 L311.84 519.40 L314.08 519.33 L316.32 519.25 L318.57 519.17 L320.81 519.10 L323.06 519.02 L325.30 518.95 L327.55 518.87 L329.79 518.80 L332.03 518.72 L334.28 518.65 L336.52 518.57 L338.77 518.50 L341.01 518.42 L343.26 518.35 L345.50 518.27 L345.50 518.27 L346.46 519.42 L347.41 520.23 L348.37 520.80 L349.32 521.20 L350.28 521.48 L351.23 521.69 L352.19 521.83 L353.14 521.93 L354.10 522.00 L355.06 522.05 L356.01 522.08 L356.97 522.11 L357.92 522.13 L358.88 522.14 L359.83 522.15 L360.79 522.15 L361.74 522.16 L362.70 522.16" stroke="#000" stroke-width="1.0" fill="none" stroke-linejoin="round"/>
<path d="M240.50 548.00 L246.75 548.00 L248.99 540.96 L251.24 533.97 L253.48 529.23 L255.73 525.87 L257.97 523.41 L260.22 521.59 L262.46 520.23 L264.70 519.21 L266.95 518.45 L269.19 517.86 L271.44 517.41 L273.68 517.05 L275.93 516.77 L278.17 516.54 L280.41 516.35 L282.66 516.18 L284.90 516.04 L287.15 515.91 L289.39 515.80 L291.64 515.69 L293.88 515.59 L296.12 515.49 L298.37 515.39 L300.61 515.30 L302.86 515.21 L305.10 515.12 L307.35 515.03 L309.59 514.94 L311.84 514.86 L314.08 514.77 L316.32 514.68 L318.57 514.59 L320.81 514.51 L323.06 514.42 L325.30 514.34 L327.55 514.25 L329.79 514.16 L332.03 514.08 L334.28 513.99 L336.52 513.90 L338.77 513.82 L341.01 513.73 L343.26 513.65 L345.50 513.56 L345.50 513.56 L346.46 516.09 L347.41 517.87 L348.37 519.13 L349.32 520.02 L350.28 520.65 L351.23 521.10 L352.19 521.41 L353.14 521.63 L354.10 521.79 L355.06 521.90 L356.01 521.98 L356.97 522.04 L357.92 522.08 L358.88 522.10 L359.83 522.12 L360.79 522.14 L361.74 522.15 L362.70 522.15" stroke="#000" stroke-width="1.0" fill="none" stroke-linejoin="round"/>
<path d="M240.50 548.00 L246.75 548.00 L248.99 538.70 L251.24 530.01 L253.48 524.56 L255.73 520.98 L257.97 518.55 L260.22 516.87 L262.46 515.70 L264.70 514.87 L266.95 514.27 L269.19 513.84 L271.44 513.51 L273.68 513.26 L275.93 513.05 L278.17 512.89 L280.41 512.74 L282.66 512.61 L284.90 512.49 L287.15 512.38 L289.39 512.28 L291.64 512.17 L293.88 512.07 L296.12 511.97 L298.37 511.88 L300.61 511.78 L302.86 511.68 L305.10 511.59 L307.35 511.49 L309.59 511.40 L311.84 511.30 L314.08 511.20 L316.32 511.11 L318.57 511.01 L320.81 510.92 L323.06 510.82 L325.30 510.73 L327.55 510.63 L329.79 510.54 L332.03 510.44 L334.28 510.35 L336.52 510.25 L338.77 510.16 L341.01 510.06 L343.26 509.97 L345.50 509.87 L345.50 509.87 L346.46 513.48 L347.41 516.03 L348.37 517.83 L349.32 519.10 L350.28 520.00 L351.23 520.64 L352.19 521.09 L353.14 521.41 L354.10 521.63 L355.06 521.79 L356.01 521.90 L356.97 521.98 L357.92 522.04 L358.88 522.07 L359.83 522.10 L360.79 522.12 L361.74 522.14 L362.70 522.15" stroke="#000" stroke-width="1.0" fill="none" stroke-linejoin="round"/>
<path d="M240.50 548.00 L246.75 548.00 L248.99 535.61 L251.24 525.12 L253.48 519.32 L255.73 515.96 L257.97 513.92 L260.22 512.66 L262.46 511.86 L264.70 511.33 L266.95 510.97 L269.19 510.72 L271.44 510.52 L273.68 510.37 L275.93 510.23 L278.17 510.11 L280.41 509.99 L282.66 509.88 L284.90 509.77 L287.15 509.67 L289.39 509.56 L291.64 509.46 L293.88 509.36 L296.12 509.26 L298.37 509.15 L300.61 509.05 L302.86 508.95 L305.10 508.85 L307.35 508.74 L309.59 508.64 L311.84 508.54 L314.08 508.44 L316.32 508.33 L318.57 508.23 L320.81 508.13 L323.06 508.03 L325.30 507.92 L327.55 507.82 L329.79 507.72 L332.03 507.62 L334.28 507.51 L336.52 507.41 L338.77 507.31 L341.01 507.21 L343.26 507.10 L345.50 507.00 L345.50 507.00 L346.46 511.45 L347.41 514.59 L348.37 516.82 L349.32 518.39 L350.28 519.50 L351.23 520.28 L352.19 520.84 L353.14 521.23 L354.10 521.50 L355.06 521.70 L356.01 521.84 L356.97 521.93 L357.92 522.00 L358.88 522.05 L359.83 522.09 L360.79 522.11 L361.74 522.13 L362.70 522.14" stroke="#000" stroke-width="1.0" fill="none" stroke-linejoin="round"/>
<line x1="240.50" y1="548.00" x2="246.75" y2="548.00" stroke="#000" stroke-width="1.8"/>
<path d="M245.55 548.00 L246.75 551.20 L247.95 548.00 Z" stroke="#000" stroke-width="0.3" fill="#000"/>
<line x1="246.75" y1="547.50" x2="246.75" y2="550.20" stroke="#000" stroke-width="1.0"/>
<line x1="345.50" y1="507.00" x2="345.50" y2="550.00" stroke="#000" stroke-width="0.9"/>
<line x1="362.70" y1="519.57" x2="362.70" y2="523.77" stroke="#000" stroke-width="1.3"/>
<text x="300.80" y="557.80" font-size="6.9" text-anchor="middle" fill="#333" textLength="66.50" lengthAdjust="spacingAndGlyphs">KCNQ2-<tspan fill="#1b9a79">T274M</tspan>/<tspan fill="#3b3b9e">WT</tspan></text>
<path d="M379.00 547.70 L385.75 547.70 L387.99 547.70 L390.24 547.70 L392.48 547.70 L394.73 547.70 L396.97 547.70 L399.22 547.70 L401.46 547.70 L403.70 547.70 L405.95 547.70 L408.19 547.70 L410.44 547.70 L412.68 547.70 L414.93 547.70 L417.17 547.70 L419.41 547.70 L421.66 547.70 L423.90 547.70 L426.15 547.70 L428.39 547.70 L430.64 547.70 L432.88 547.70 L435.12 547.70 L437.37 547.70 L439.61 547.70 L441.86 547.70 L444.10 547.70 L446.35 547.70 L448.59 547.70 L450.84 547.70 L453.08 547.70 L455.32 547.70 L457.57 547.70 L459.81 547.70 L462.06 547.70 L464.30 547.70 L466.55 547.70 L468.79 547.70 L471.03 547.70 L473.28 547.70 L475.52 547.70 L477.77 547.70 L480.01 547.70 L482.26 547.70 L484.50 547.70 L484.50 547.70 L485.47 546.58 L486.44 545.48 L487.42 544.42 L488.39 543.37 L489.36 542.35 L490.33 541.35 L491.31 540.38 L492.28 539.43 L493.25 538.50 L494.22 537.59 L495.19 536.70 L496.17 535.84 L497.14 534.99 L498.11 534.16 L499.08 533.35 L500.06 532.56 L501.03 531.79 L502.00 531.04" stroke="#000" stroke-width="1.0" fill="none" stroke-linejoin="round"/>
<path d="M379.00 547.70 L385.75 547.70 L387.99 547.66 L390.24 547.60 L392.48 547.56 L394.73 547.53 L396.97 547.49 L399.22 547.47 L401.46 547.44 L403.70 547.42 L405.95 547.40 L408.19 547.38 L410.44 547.36 L412.68 547.35 L414.93 547.34 L417.17 547.32 L419.41 547.31 L421.66 547.30 L423.90 547.30 L426.15 547.29 L428.39 547.28 L430.64 547.28 L432.88 547.27 L435.12 547.26 L437.37 547.26 L439.61 547.26 L441.86 547.25 L444.10 547.25 L446.35 547.25 L448.59 547.24 L450.84 547.24 L453.08 547.24 L455.32 547.23 L457.57 547.23 L459.81 547.23 L462.06 547.23 L464.30 547.23 L466.55 547.22 L468.79 547.22 L471.03 547.22 L473.28 547.22 L475.52 547.22 L477.77 547.21 L480.01 547.21 L482.26 547.21 L484.50 547.21 L484.50 547.21 L485.47 546.11 L486.44 545.04 L487.42 543.99 L488.39 542.97 L489.36 541.98 L490.33 541.01 L491.31 540.06 L492.28 539.13 L493.25 538.23 L494.22 537.35 L495.19 536.49 L496.17 535.65 L497.14 534.84 L498.11 534.04 L499.08 533.26 L500.06 532.50 L501.03 531.76 L502.00 531.04" stroke="#000" stroke-width="1.0" fill="none" stroke-linejoin="round"/>
<path d="M379.00 547.70 L385.75 547.70 L387.99 547.56 L390.24 547.39 L392.48 547.26 L394.73 547.15 L396.97 547.05 L399.22 546.96 L401.46 546.88 L403.70 546.81 L405.95 546.75 L408.19 546.70 L410.44 546.65 L412.68 546.61 L414.93 546.58 L417.17 546.54 L419.41 546.51 L421.66 546.49 L423.90 546.46 L426.15 546.44 L428.39 546.42 L430.64 546.41 L432.88 546.39 L435.12 546.38 L437.37 546.37 L439.61 546.35 L441.86 546.34 L444.10 546.33 L446.35 546.33 L448.59 546.32 L450.84 546.31 L453.08 546.30 L455.32 546.30 L457.57 546.29 L459.81 546.28 L462.06 546.28 L464.30 546.27 L466.55 546.27 L468.79 546.26 L471.03 546.26 L473.28 546.25 L475.52 546.25 L477.77 546.24 L480.01 546.24 L482.26 546.23 L484.50 546.23 L484.50 546.23 L485.47 545.17 L486.44 544.15 L487.42 543.15 L488.39 542.17 L489.36 541.23 L490.33 540.31 L491.31 539.41 L492.28 538.54 L493.25 537.69 L494.22 536.87 L495.19 536.07 L496.17 535.29 L497.14 534.53 L498.11 533.79 L499.08 533.08 L500.06 532.38 L501.03 531.70 L502.00 531.04" stroke="#000" stroke-width="1.0" fill="none" stroke-linejoin="round"/>
<path d="M379.00 547.70 L385.75 547.70 L387.99 547.37 L390.24 546.99 L392.48 546.68 L394.73 546.43 L396.97 546.20 L399.22 546.01 L401.46 545.84 L403.70 545.69 L405.95 545.57 L408.19 545.45 L410.44 545.36 L412.68 545.27 L414.93 545.19 L417.17 545.13 L419.41 545.07 L421.66 545.02 L423.90 544.97 L426.15 544.93 L428.39 544.89 L430.64 544.86 L432.88 544.83 L435.12 544.80 L437.37 544.78 L439.61 544.76 L441.86 544.74 L444.10 544.72 L446.35 544.70 L448.59 544.69 L450.84 544.67 L453.08 544.66 L455.32 544.65 L457.57 544.63 L459.81 544.62 L462.06 544.61 L464.30 544.60 L466.55 544.59 L468.79 544.58 L471.03 544.57 L473.28 544.56 L475.52 544.55 L477.77 544.54 L480.01 544.53 L482.26 544.52 L484.50 544.52 L484.50 544.52 L485.47 543.53 L486.44 542.58 L487.42 541.65 L488.39 540.76 L489.36 539.90 L490.33 539.07 L491.31 538.27 L492.28 537.50 L493.25 536.75 L494.22 536.02 L495.19 535.32 L496.17 534.64 L497.14 533.99 L498.11 533.36 L499.08 532.75 L500.06 532.16 L501.03 531.59 L502.00 531.04" stroke="#000" stroke-width="1.0" fill="none" stroke-linejoin="round"/>
<path d="M379.00 547.70 L385.75 547.70 L387.99 547.06 L390.24 546.34 L392.48 545.77 L394.73 545.29 L396.97 544.89 L399.22 544.54 L401.46 544.24 L403.70 543.98 L405.95 543.76 L408.19 543.57 L410.44 543.41 L412.68 543.26 L414.93 543.14 L417.17 543.03 L419.41 542.94 L421.66 542.85 L423.90 542.78 L426.15 542.72 L428.39 542.66 L430.64 542.61 L432.88 542.57 L435.12 542.52 L437.37 542.49 L439.61 542.45 L441.86 542.42 L444.10 542.40 L446.35 542.37 L448.59 542.35 L450.84 542.32 L453.08 542.30 L455.32 542.28 L457.57 542.26 L459.81 542.24 L462.06 542.22 L464.30 542.21 L466.55 542.19 L468.79 542.17 L471.03 542.16 L473.28 542.14 L475.52 542.13 L477.77 542.11 L480.01 542.09 L482.26 542.08 L484.50 542.07 L484.50 542.07 L485.47 541.17 L486.44 540.31 L487.42 539.50 L488.39 538.72 L489.36 537.99 L490.33 537.28 L491.31 536.61 L492.28 535.97 L493.25 535.37 L494.22 534.79 L495.19 534.24 L496.17 533.71 L497.14 533.21 L498.11 532.73 L499.08 532.28 L500.06 531.84 L501.03 531.43 L502.00 531.04" stroke="#000" stroke-width="1.0" fill="none" stroke-linejoin="round"/>
<path d="M379.00 547.70 L385.75 547.70 L387.99 546.63 L390.24 545.45 L392.48 544.52 L394.73 543.77 L396.97 543.13 L399.22 542.60 L401.46 542.15 L403.70 541.77 L405.95 541.45 L408.19 541.17 L410.44 540.94 L412.68 540.74 L414.93 540.57 L417.17 540.42 L419.41 540.29 L421.66 540.18 L423.90 540.09 L426.15 540.00 L428.39 539.93 L430.64 539.86 L432.88 539.81 L435.12 539.75 L437.37 539.71 L439.61 539.66 L441.86 539.62 L444.10 539.59 L446.35 539.55 L448.59 539.52 L450.84 539.49 L453.08 539.46 L455.32 539.43 L457.57 539.41 L459.81 539.38 L462.06 539.36 L464.30 539.33 L466.55 539.31 L468.79 539.28 L471.03 539.26 L473.28 539.24 L475.52 539.21 L477.77 539.19 L480.01 539.17 L482.26 539.15 L484.50 539.12 L484.50 539.12 L485.47 538.31 L486.44 537.56 L487.42 536.87 L488.39 536.23 L489.36 535.64 L490.33 535.09 L491.31 534.59 L492.28 534.12 L493.25 533.69 L494.22 533.30 L495.19 532.93 L496.17 532.59 L497.14 532.28 L498.11 531.99 L499.08 531.72 L500.06 531.48 L501.03 531.25 L502.00 531.04" stroke="#000" stroke-width="1.0" fill="none" stroke-linejoin="round"/>
<path d="M379.00 547.70 L385.75 547.70 L387.99 546.08 L390.24 544.31 L392.48 542.96 L394.73 541.88 L396.97 541.00 L399.22 540.27 L401.46 539.67 L403.70 539.16 L405.95 538.75 L408.19 538.40 L410.44 538.11 L412.68 537.87 L414.93 537.66 L417.17 537.49 L419.41 537.34 L421.66 537.21 L423.90 537.10 L426.15 537.01 L428.39 536.92 L430.64 536.85 L432.88 536.78 L435.12 536.72 L437.37 536.67 L439.61 536.62 L441.86 536.57 L444.10 536.53 L446.35 536.49 L448.59 536.45 L450.84 536.41 L453.08 536.38 L455.32 536.34 L457.57 536.31 L459.81 536.28 L462.06 536.25 L464.30 536.21 L466.55 536.18 L468.79 536.15 L471.03 536.12 L473.28 536.09 L475.52 536.06 L477.77 536.03 L480.01 536.00 L482.26 535.97 L484.50 535.94 L484.50 535.94 L485.47 535.21 L486.44 534.58 L487.42 534.04 L488.39 533.57 L489.36 533.17 L490.33 532.82 L491.31 532.53 L492.28 532.27 L493.25 532.05 L494.22 531.86 L495.19 531.70 L496.17 531.56 L497.14 531.43 L498.11 531.33 L499.08 531.24 L500.06 531.16 L501.03 531.10 L502.00 531.04" stroke="#000" stroke-width="1.0" fill="none" stroke-linejoin="round"/>
<path d="M379.00 547.70 L385.75 547.70 L387.99 545.39 L390.24 542.93 L392.48 541.10 L394.73 539.68 L396.97 538.55 L399.22 537.64 L401.46 536.91 L403.70 536.31 L405.95 535.83 L408.19 535.44 L410.44 535.12 L412.68 534.85 L414.93 534.63 L417.17 534.45 L419.41 534.30 L421.66 534.17 L423.90 534.06 L426.15 533.96 L428.39 533.88 L430.64 533.80 L432.88 533.73 L435.12 533.67 L437.37 533.62 L439.61 533.56 L441.86 533.51 L444.10 533.47 L446.35 533.42 L448.59 533.38 L450.84 533.33 L453.08 533.29 L455.32 533.25 L457.57 533.21 L459.81 533.17 L462.06 533.13 L464.30 533.10 L466.55 533.06 L468.79 533.02 L471.03 532.98 L473.28 532.94 L475.52 532.91 L477.77 532.87 L480.01 532.83 L482.26 532.79 L484.50 532.75 L484.50 532.75 L485.47 532.34 L486.44 532.03 L487.42 531.79 L488.39 531.61 L489.36 531.47 L490.33 531.36 L491.31 531.28 L492.28 531.22 L493.25 531.18 L494.22 531.14 L495.19 531.11 L496.17 531.09 L497.14 531.08 L498.11 531.07 L499.08 531.06 L500.06 531.05 L501.03 531.04 L502.00 531.04" stroke="#000" stroke-width="1.0" fill="none" stroke-linejoin="round"/>
<path d="M379.00 547.70 L385.75 547.70 L387.99 544.58 L390.24 541.34 L392.48 539.02 L394.73 537.30 L396.97 535.97 L399.22 534.94 L401.46 534.13 L403.70 533.50 L405.95 533.01 L408.19 532.62 L410.44 532.30 L412.68 532.05 L414.93 531.85 L417.17 531.68 L419.41 531.54 L421.66 531.43 L423.90 531.33 L426.15 531.24 L428.39 531.16 L430.64 531.09 L432.88 531.03 L435.12 530.97 L437.37 530.91 L439.61 530.86 L441.86 530.80 L444.10 530.75 L446.35 530.71 L448.59 530.66 L450.84 530.61 L453.08 530.57 L455.32 530.52 L457.57 530.47 L459.81 530.43 L462.06 530.38 L464.30 530.34 L466.55 530.29 L468.79 530.25 L471.03 530.20 L473.28 530.16 L475.52 530.12 L477.77 530.07 L480.01 530.03 L482.26 529.98 L484.50 529.94 L484.50 529.94 L485.47 530.26 L486.44 530.49 L487.42 530.65 L488.39 530.77 L489.36 530.85 L490.33 530.90 L491.31 530.94 L492.28 530.97 L493.25 530.99 L494.22 531.01 L495.19 531.02 L496.17 531.02 L497.14 531.03 L498.11 531.03 L499.08 531.03 L500.06 531.04 L501.03 531.04 L502.00 531.04" stroke="#000" stroke-width="1.0" fill="none" stroke-linejoin="round"/>
<path d="M379.00 547.70 L385.75 547.70 L387.99 543.49 L390.24 539.31 L392.48 536.48 L394.73 534.47 L396.97 533.00 L399.22 531.92 L401.46 531.11 L403.70 530.50 L405.95 530.04 L408.19 529.69 L410.44 529.42 L412.68 529.21 L414.93 529.04 L417.17 528.90 L419.41 528.79 L421.66 528.69 L423.90 528.60 L426.15 528.53 L428.39 528.46 L430.64 528.39 L432.88 528.33 L435.12 528.27 L437.37 528.21 L439.61 528.16 L441.86 528.11 L444.10 528.05 L446.35 528.00 L448.59 527.95 L450.84 527.89 L453.08 527.84 L455.32 527.79 L457.57 527.74 L459.81 527.69 L462.06 527.63 L464.30 527.58 L466.55 527.53 L468.79 527.48 L471.03 527.43 L473.28 527.38 L475.52 527.33 L477.77 527.27 L480.01 527.22 L482.26 527.17 L484.50 527.12 L484.50 527.12 L485.47 528.27 L486.44 529.08 L487.42 529.66 L488.39 530.06 L489.36 530.35 L490.33 530.55 L491.31 530.70 L492.28 530.80 L493.25 530.87 L494.22 530.92 L495.19 530.95 L496.17 530.98 L497.14 531.00 L498.11 531.01 L499.08 531.02 L500.06 531.02 L501.03 531.03 L502.00 531.03" stroke="#000" stroke-width="1.0" fill="none" stroke-linejoin="round"/>
<path d="M379.00 547.70 L385.75 547.70 L387.99 542.14 L390.24 536.95 L392.48 533.69 L394.73 531.56 L396.97 530.10 L399.22 529.10 L401.46 528.40 L403.70 527.90 L405.95 527.55 L408.19 527.28 L410.44 527.09 L412.68 526.94 L414.93 526.82 L417.17 526.72 L419.41 526.63 L421.66 526.55 L423.90 526.48 L426.15 526.42 L428.39 526.35 L430.64 526.29 L432.88 526.23 L435.12 526.17 L437.37 526.11 L439.61 526.06 L441.86 526.00 L444.10 525.94 L446.35 525.88 L448.59 525.83 L450.84 525.77 L453.08 525.71 L455.32 525.66 L457.57 525.60 L459.81 525.54 L462.06 525.48 L464.30 525.43 L466.55 525.37 L468.79 525.31 L471.03 525.26 L473.28 525.20 L475.52 525.14 L477.77 525.09 L480.01 525.03 L482.26 524.97 L484.50 524.92 L484.50 524.92 L485.47 526.71 L486.44 527.98 L487.42 528.88 L488.39 529.51 L489.36 529.96 L490.33 530.28 L491.31 530.50 L492.28 530.66 L493.25 530.77 L494.22 530.85 L495.19 530.91 L496.17 530.95 L497.14 530.97 L498.11 530.99 L499.08 531.01 L500.06 531.02 L501.03 531.02 L502.00 531.03" stroke="#000" stroke-width="1.0" fill="none" stroke-linejoin="round"/>
<path d="M379.00 547.70 L385.75 547.70 L387.99 540.29 L390.24 534.03 L392.48 530.56 L394.73 528.55 L396.97 527.34 L399.22 526.58 L401.46 526.10 L403.70 525.79 L405.95 525.58 L408.19 525.42 L410.44 525.31 L412.68 525.21 L414.93 525.13 L417.17 525.06 L419.41 524.99 L421.66 524.92 L423.90 524.86 L426.15 524.79 L428.39 524.73 L430.64 524.67 L432.88 524.61 L435.12 524.55 L437.37 524.49 L439.61 524.43 L441.86 524.36 L444.10 524.30 L446.35 524.24 L448.59 524.18 L450.84 524.12 L453.08 524.06 L455.32 524.00 L457.57 523.94 L459.81 523.87 L462.06 523.81 L464.30 523.75 L466.55 523.69 L468.79 523.63 L471.03 523.57 L473.28 523.51 L475.52 523.45 L477.77 523.38 L480.01 523.32 L482.26 523.26 L484.50 523.20 L484.50 523.20 L485.47 525.50 L486.44 527.13 L487.42 528.27 L488.39 529.09 L489.36 529.66 L490.33 530.06 L491.31 530.35 L492.28 530.55 L493.25 530.70 L494.22 530.80 L495.19 530.87 L496.17 530.92 L497.14 530.95 L498.11 530.98 L499.08 531.00 L500.06 531.01 L501.03 531.02 L502.00 531.02" stroke="#000" stroke-width="1.0" fill="none" stroke-linejoin="round"/>
<line x1="379.00" y1="547.70" x2="385.75" y2="547.70" stroke="#000" stroke-width="1.8"/>
<path d="M384.55 547.70 L385.75 550.90 L386.95 547.70 Z" stroke="#000" stroke-width="0.3" fill="#000"/>
<line x1="385.75" y1="547.20" x2="385.75" y2="549.90" stroke="#000" stroke-width="1.0"/>
<line x1="484.50" y1="523.20" x2="484.50" y2="549.70" stroke="#000" stroke-width="0.9"/>
<line x1="502.00" y1="528.44" x2="502.00" y2="532.64" stroke="#000" stroke-width="1.3"/>
<text x="439.50" y="557.80" font-size="6.9" text-anchor="middle" fill="#333" textLength="66.00" lengthAdjust="spacingAndGlyphs">KCNQ2-<tspan fill="#1b9a79">G279S</tspan>/<tspan fill="#3b3b9e">WT</tspan></text>
</g>
<g>
<text x="514" y="204" font-size="12.5" font-weight="bold" fill="#000" stroke="#000" stroke-width="0.45">e</text>
<text x="618.70" y="204.00" font-size="8.3" text-anchor="middle" textLength="106.00" lengthAdjust="spacingAndGlyphs">Current density at +40mV</text>
<text x="618.40" y="214.50" font-size="8.3" text-anchor="middle" textLength="55.20" lengthAdjust="spacingAndGlyphs">% KCNQ2-<tspan fill="#3b3b9e">WT</tspan></text>
<line x1="558.70" y1="221.00" x2="558.70" y2="349.20" stroke="#3c3c3c" stroke-width="0.8"/>
<line x1="558.30" y1="349.20" x2="676.70" y2="349.20" stroke="#3c3c3c" stroke-width="0.8"/>
<line x1="555.50" y1="344.20" x2="558.70" y2="344.20" stroke="#3c3c3c" stroke-width="0.7"/>
<text x="552.50" y="346.90" font-size="7.6" text-anchor="end" fill="#333">0</text>
<line x1="555.50" y1="319.64" x2="558.70" y2="319.64" stroke="#3c3c3c" stroke-width="0.7"/>
<text x="552.50" y="322.34" font-size="7.6" text-anchor="end" fill="#333">25</text>
<line x1="555.50" y1="295.08" x2="558.70" y2="295.08" stroke="#3c3c3c" stroke-width="0.7"/>
<text x="552.50" y="297.78" font-size="7.6" text-anchor="end" fill="#333">50</text>
<line x1="555.50" y1="270.52" x2="558.70" y2="270.52" stroke="#3c3c3c" stroke-width="0.7"/>
<text x="552.50" y="273.22" font-size="7.6" text-anchor="end" fill="#333">75</text>
<line x1="555.50" y1="245.96" x2="558.70" y2="245.96" stroke="#3c3c3c" stroke-width="0.7"/>
<text x="552.50" y="248.66" font-size="7.6" text-anchor="end" fill="#333">100</text>
<line x1="555.50" y1="221.40" x2="558.70" y2="221.40" stroke="#3c3c3c" stroke-width="0.7"/>
<text x="552.50" y="224.10" font-size="7.6" text-anchor="end" fill="#333">125</text>
<line x1="573.75" y1="349.20" x2="573.75" y2="352.00" stroke="#3c3c3c" stroke-width="0.7"/>
<rect x="564.00" y="245.96" width="19.50" height="103.24" fill="#2e3192" stroke="#1a1a1a" stroke-width="0.6" rx="0"/>
<line x1="603.10" y1="349.20" x2="603.10" y2="352.00" stroke="#3c3c3c" stroke-width="0.7"/>
<rect x="593.30" y="342.87" width="19.60" height="6.33" fill="#73106a" stroke="#1a1a1a" stroke-width="0.6" rx="0"/>
<line x1="632.35" y1="349.20" x2="632.35" y2="352.00" stroke="#3c3c3c" stroke-width="0.7"/>
<rect x="622.70" y="343.12" width="19.30" height="6.08" fill="#0c8d6a" stroke="#1a1a1a" stroke-width="0.6" rx="0"/>
<line x1="661.90" y1="349.20" x2="661.90" y2="352.00" stroke="#3c3c3c" stroke-width="0.7"/>
<rect x="652.10" y="343.12" width="19.60" height="6.08" fill="#0c8d6a" stroke="#1a1a1a" stroke-width="0.6" rx="0"/>
<line x1="558.70" y1="245.96" x2="676.70" y2="245.96" stroke="#222" stroke-width="0.8" stroke-dasharray="2.8 2.2"/>
<text x="534.60" y="285.40" font-size="8.2" text-anchor="middle" textLength="55.00" lengthAdjust="spacingAndGlyphs" transform="rotate(-90 534.60 285.40)">% KCNQ2-WT</text>
<circle cx="573.75" cy="245.96" r="2.1" fill="#fff" stroke="#1a1a1a" stroke-width="0.6"/>
<circle cx="603.10" cy="342.87" r="2.1" fill="#fff" stroke="#1a1a1a" stroke-width="0.6"/>
<circle cx="632.35" cy="343.12" r="2.1" fill="#fff" stroke="#1a1a1a" stroke-width="0.6"/>
<circle cx="661.90" cy="343.12" r="2.1" fill="#fff" stroke="#1a1a1a" stroke-width="0.6"/>
<path d="M573.3 237.7 V232.9 H664.6 V239.5 M602.6 232.9 V239.5 M632 232.9 V239.5" stroke="#444" stroke-width="0.7" fill="none"/>
<text x="628.20" y="229.40" font-size="5.6" fill="#333" textLength="29.90" lengthAdjust="spacingAndGlyphs"><tspan font-style="italic">P</tspan> &lt; 0.0001</text>
<text x="573.80" y="362.20" font-size="7.2" text-anchor="middle" fill="#3b3b9e">WT</text>
<text x="602.90" y="362.20" font-size="7.2" text-anchor="middle" fill="#a6216f">ΔE5</text>
<text x="632.50" y="362.20" font-size="7.2" text-anchor="middle" fill="#1b9a79">T274M</text>
<text x="661.60" y="362.20" font-size="7.2" text-anchor="middle" fill="#1b9a79">G279S</text>
<text x="514" y="389.8" font-size="12.5" font-weight="bold" fill="#000" stroke="#000" stroke-width="0.45">h</text>
<text x="618.10" y="391.00" font-size="8.3" text-anchor="middle" textLength="107.20" lengthAdjust="spacingAndGlyphs">Current density at +40mV</text>
<text x="617.80" y="401.00" font-size="8.3" text-anchor="middle" textLength="71.60" lengthAdjust="spacingAndGlyphs">% KCNQ2-<tspan fill="#3b3b9e">WT</tspan>/<tspan fill="#3b3b9e">WT</tspan></text>
<line x1="559.90" y1="413.20" x2="559.90" y2="541.40" stroke="#3c3c3c" stroke-width="0.8"/>
<line x1="559.50" y1="541.40" x2="678.00" y2="541.40" stroke="#3c3c3c" stroke-width="0.8"/>
<line x1="556.70" y1="536.60" x2="559.90" y2="536.60" stroke="#3c3c3c" stroke-width="0.7"/>
<text x="553.70" y="539.30" font-size="7.6" text-anchor="end" fill="#333">0</text>
<line x1="556.70" y1="512.00" x2="559.90" y2="512.00" stroke="#3c3c3c" stroke-width="0.7"/>
<text x="553.70" y="514.70" font-size="7.6" text-anchor="end" fill="#333">25</text>
<line x1="556.70" y1="487.40" x2="559.90" y2="487.40" stroke="#3c3c3c" stroke-width="0.7"/>
<text x="553.70" y="490.10" font-size="7.6" text-anchor="end" fill="#333">50</text>
<line x1="556.70" y1="462.80" x2="559.90" y2="462.80" stroke="#3c3c3c" stroke-width="0.7"/>
<text x="553.70" y="465.50" font-size="7.6" text-anchor="end" fill="#333">75</text>
<line x1="556.70" y1="438.20" x2="559.90" y2="438.20" stroke="#3c3c3c" stroke-width="0.7"/>
<text x="553.70" y="440.90" font-size="7.6" text-anchor="end" fill="#333">100</text>
<line x1="556.70" y1="413.60" x2="559.90" y2="413.60" stroke="#3c3c3c" stroke-width="0.7"/>
<text x="553.70" y="416.30" font-size="7.6" text-anchor="end" fill="#333">125</text>
<line x1="575.00" y1="541.40" x2="575.00" y2="544.20" stroke="#3c3c3c" stroke-width="0.7"/>
<rect x="565.20" y="438.20" width="19.60" height="103.20" fill="#1f1f8a" stroke="#1a1a1a" stroke-width="0.6" rx="0"/>
<line x1="604.25" y1="541.40" x2="604.25" y2="544.20" stroke="#3c3c3c" stroke-width="0.7"/>
<rect x="594.60" y="482.48" width="19.30" height="58.92" fill="#73106a" stroke="#1a1a1a" stroke-width="0.6" rx="0"/>
<line x1="633.65" y1="541.40" x2="633.65" y2="544.20" stroke="#3c3c3c" stroke-width="0.7"/>
<rect x="624.00" y="480.51" width="19.30" height="60.89" fill="#0c8d6a" stroke="#1a1a1a" stroke-width="0.6" rx="0"/>
<line x1="663.10" y1="541.40" x2="663.10" y2="544.20" stroke="#3c3c3c" stroke-width="0.7"/>
<rect x="653.30" y="501.96" width="19.60" height="39.44" fill="#0c8d6a" stroke="#1a1a1a" stroke-width="0.6" rx="0"/>
<line x1="559.90" y1="438.20" x2="678.00" y2="438.20" stroke="#222" stroke-width="0.8" stroke-dasharray="2.8 2.2"/>
<text x="535.20" y="477.50" font-size="8.2" text-anchor="middle" textLength="55.00" lengthAdjust="spacingAndGlyphs" transform="rotate(-90 535.20 477.50)">% KCNQ2-WT</text>
<path d="M604.4 491.4 V473.4 M599.9 491.4 H608.9 M599.9 473.4 H608.9" stroke="#1a1a1a" stroke-width="0.8" fill="none"/>
<path d="M633.6 480.6 V473.9 M629.1 480.6 H638.1 M629.1 473.9 H638.1" stroke="#1a1a1a" stroke-width="0.8" fill="none"/>
<path d="M663 503.5 V500.3 M659.4 503.5 H666.6 M659.4 500.3 H666.6" stroke="#1a1a1a" stroke-width="0.8" fill="none"/>
<circle cx="567.70" cy="438.20" r="2.0" fill="#fff" stroke="#1a1a1a" stroke-width="0.6"/>
<circle cx="575.00" cy="438.20" r="2.0" fill="#fff" stroke="#1a1a1a" stroke-width="0.6"/>
<circle cx="582.80" cy="438.20" r="2.0" fill="#fff" stroke="#1a1a1a" stroke-width="0.6"/>
<circle cx="604.60" cy="467.30" r="2.0" fill="#fff" stroke="#1a1a1a" stroke-width="0.6"/>
<circle cx="604.40" cy="479.60" r="2.0" fill="#fff" stroke="#1a1a1a" stroke-width="0.6"/>
<circle cx="604.40" cy="498.50" r="2.0" fill="#fff" stroke="#1a1a1a" stroke-width="0.6"/>
<circle cx="633.50" cy="467.10" r="2.0" fill="#fff" stroke="#1a1a1a" stroke-width="0.6"/>
<circle cx="629.20" cy="487.20" r="2.0" fill="#fff" stroke="#1a1a1a" stroke-width="0.6"/>
<circle cx="637.80" cy="485.70" r="2.0" fill="#fff" stroke="#1a1a1a" stroke-width="0.6"/>
<circle cx="658.60" cy="499.20" r="2.0" fill="#fff" stroke="#1a1a1a" stroke-width="0.6"/>
<circle cx="659.10" cy="503.00" r="2.0" fill="#fff" stroke="#1a1a1a" stroke-width="0.6"/>
<circle cx="666.90" cy="502.00" r="2.0" fill="#fff" stroke="#1a1a1a" stroke-width="0.6"/>
<path d="M575.3 425.1 V420.4 H667.2 V449.5 M604.6 420.4 V424 M634 420.4 V424" stroke="#555" stroke-width="0.7" fill="none"/>
<path d="M602.9 439.4 V436 H667.2" stroke="#555" stroke-width="0.7" fill="none"/>
<path d="M635.3 462.8 V460 Q635.3 458.3 637 458.3 H665.5 Q667.2 458.3 667.2 460 V470.3" stroke="#555" stroke-width="0.7" fill="none"/>
<text x="635.50" y="416.40" font-size="5.6" fill="#333" textLength="26.60" lengthAdjust="spacingAndGlyphs"><tspan font-style="italic">P</tspan> &lt; 0.001</text>
<text x="635.50" y="431.90" font-size="5.6" fill="#333" textLength="25.60" lengthAdjust="spacingAndGlyphs"><tspan font-style="italic">P</tspan> = 0.001</text>
<text x="635.00" y="454.50" font-size="5.6" fill="#333" textLength="27.40" lengthAdjust="spacingAndGlyphs"><tspan font-style="italic">P</tspan> = 0.002</text>
<text x="575.00" y="551.40" font-size="7.2" text-anchor="middle" fill="#3b3b9e">WT</text>
<text x="575.00" y="558.80" font-size="7.2" text-anchor="middle" fill="#3b3b9e">WT</text>
<text x="602.90" y="551.40" font-size="7.2" text-anchor="middle" fill="#a6216f">ΔE5</text>
<text x="602.90" y="558.80" font-size="7.2" text-anchor="middle" fill="#3b3b9e">WT</text>
<text x="632.50" y="551.40" font-size="7.2" text-anchor="middle" fill="#1b9a79">T274M</text>
<text x="633.80" y="558.80" font-size="7.2" text-anchor="middle" fill="#3b3b9e">WT</text>
<text x="663.10" y="551.40" font-size="7.2" text-anchor="middle" fill="#1b9a79">G279S</text>
<text x="665.40" y="558.80" font-size="7.2" text-anchor="middle" fill="#3b3b9e">WT</text>
</g>
<g>
<text x="-0.2" y="587.6" font-size="12.5" font-weight="bold" fill="#000" stroke="#000" stroke-width="0.15">i</text>
<defs>
<linearGradient id="sevg" x1="0" y1="0" x2="1" y2="0"><stop offset="0" stop-color="#2b7fb5"/><stop offset="0.5" stop-color="#24929b"/><stop offset="1" stop-color="#2aa98a"/></linearGradient>
<linearGradient id="mcg" x1="0" y1="0" x2="1" y2="0"><stop offset="0" stop-color="#f4e23a"/><stop offset="0.35" stop-color="#cfdc45"/><stop offset="0.7" stop-color="#86c65a"/><stop offset="1" stop-color="#3fae72"/></linearGradient>
</defs>
<path d="M66 644.4 L222 623.2 L222 644.4 Z" stroke="none" stroke-width="0.8" fill="url(#sevg)"/>
<line x1="30.80" y1="644.40" x2="214.00" y2="644.40" stroke="#000" stroke-width="2.3"/>
<path d="M222 644.4 L211 639.8 L213.2 644.4 L211 649 Z" stroke="none" stroke-width="0.8" fill="#000"/>
<text x="53.30" y="625.00" font-size="8.6" text-anchor="middle" textLength="11.50" lengthAdjust="spacingAndGlyphs">PV</text>
<text x="53.30" y="632.20" font-size="5.6" text-anchor="middle" textLength="31.50" lengthAdjust="spacingAndGlyphs">Population</text>
<text x="53.30" y="640.20" font-size="5.6" text-anchor="middle" textLength="19.00" lengthAdjust="spacingAndGlyphs">variant</text>
<text x="129.00" y="611.80" font-size="8.6" text-anchor="middle" textLength="26.50" lengthAdjust="spacingAndGlyphs">SLFNE</text>
<text x="129.00" y="620.00" font-size="5.6" text-anchor="middle" textLength="33.50" lengthAdjust="spacingAndGlyphs">Self-limited</text>
<text x="129.00" y="628.10" font-size="5.6" text-anchor="middle" textLength="47.50" lengthAdjust="spacingAndGlyphs">familial epilepsy</text>
<text x="197.00" y="598.00" font-size="8.6" text-anchor="middle" textLength="16.50" lengthAdjust="spacingAndGlyphs">DEE</text>
<text x="197.00" y="604.60" font-size="5.6" text-anchor="middle" textLength="44.50" lengthAdjust="spacingAndGlyphs">Developmental</text>
<text x="197.00" y="612.60" font-size="5.6" text-anchor="middle" textLength="37.50" lengthAdjust="spacingAndGlyphs">and epileptic</text>
<text x="197.00" y="621.20" font-size="5.6" text-anchor="middle" textLength="47.00" lengthAdjust="spacingAndGlyphs">encephalopathy</text>
<text x="128.10" y="654.60" font-size="8.6" text-anchor="middle" textLength="66.20" lengthAdjust="spacingAndGlyphs">Clinical severity</text>
<path d="M30.8 658.2 L213 677.6 L30.8 677.6 Z" stroke="none" stroke-width="0.8" fill="url(#mcg)"/>
<line x1="42.00" y1="678.70" x2="226.30" y2="678.70" stroke="#000" stroke-width="2.3"/>
<path d="M34.6 678.7 L45.6 674.1 L43.4 678.7 L45.6 683.3 Z" stroke="none" stroke-width="0.8" fill="#000"/>
<text x="31.80" y="669.00" font-size="8.2" fill="#111" textLength="22.20" lengthAdjust="spacingAndGlyphs">100%</text>
<text x="211.80" y="673.40" font-size="8.2" fill="#111" textLength="12.40" lengthAdjust="spacingAndGlyphs">0%</text>
<text x="64.50" y="689.00" font-size="8.6" textLength="121.70" lengthAdjust="spacingAndGlyphs">M-current density (% WT/WT)</text>
<rect x="46.20" y="721.00" width="174.60" height="125.70" fill="none" stroke="#9a9a9a" stroke-width="0.8" rx="0"/>
<line x1="40.80" y1="846.60" x2="46.20" y2="846.60" stroke="#9a9a9a" stroke-width="0.8"/>
<text x="39.30" y="849.30" font-size="7.6" text-anchor="end" fill="#333">0</text>
<line x1="40.80" y1="815.19" x2="46.20" y2="815.19" stroke="#9a9a9a" stroke-width="0.8"/>
<text x="39.30" y="817.89" font-size="7.6" text-anchor="end" fill="#333">50</text>
<line x1="40.80" y1="783.77" x2="46.20" y2="783.77" stroke="#9a9a9a" stroke-width="0.8"/>
<text x="39.30" y="786.47" font-size="7.6" text-anchor="end" fill="#333">100</text>
<line x1="40.80" y1="752.36" x2="46.20" y2="752.36" stroke="#9a9a9a" stroke-width="0.8"/>
<text x="39.30" y="755.06" font-size="7.6" text-anchor="end" fill="#333">150</text>
<line x1="40.80" y1="720.94" x2="46.20" y2="720.94" stroke="#9a9a9a" stroke-width="0.8"/>
<text x="39.30" y="723.64" font-size="7.6" text-anchor="end" fill="#333">200</text>
<line x1="69.20" y1="846.70" x2="69.20" y2="849.40" stroke="#9a9a9a" stroke-width="0.8"/>
<line x1="113.00" y1="846.70" x2="113.00" y2="849.40" stroke="#9a9a9a" stroke-width="0.8"/>
<line x1="154.60" y1="846.70" x2="154.60" y2="849.40" stroke="#9a9a9a" stroke-width="0.8"/>
<line x1="196.30" y1="846.70" x2="196.30" y2="849.40" stroke="#9a9a9a" stroke-width="0.8"/>
<line x1="46.20" y1="783.77" x2="220.80" y2="783.77" stroke="#333" stroke-width="0.8" stroke-dasharray="2.6 2.2"/>
<text x="7.60" y="784.30" font-size="8.0" text-anchor="middle" textLength="85.00" lengthAdjust="spacingAndGlyphs" transform="rotate(-90 7.60 784.30)">Peak current density</text>
<text x="17.70" y="784.30" font-size="8.0" text-anchor="middle" textLength="127.50" lengthAdjust="spacingAndGlyphs" transform="rotate(-90 17.70 784.30)">(at +40 mV, pA pF<tspan font-size="5" dy="-2.8">–1</tspan><tspan dy="2.8">, % WT/WT)</tspan></text>
<path d="M61.7 783.6 H76.7 M69.2 778.5 V788.7 M65.60000000000001 778.5 H72.8 M65.60000000000001 788.7 H72.8" stroke="#555" stroke-width="0.6" fill="none"/>
<circle cx="69.25" cy="736.00" r="2.55" fill="#f2de3c" stroke="#111" stroke-width="0.8"/>
<circle cx="69.25" cy="753.50" r="2.55" fill="#f2de3c" stroke="#111" stroke-width="0.8"/>
<circle cx="69.25" cy="768.00" r="2.55" fill="#f2de3c" stroke="#111" stroke-width="0.8"/>
<circle cx="77.25" cy="773.70" r="2.55" fill="#f2de3c" stroke="#111" stroke-width="0.8"/>
<circle cx="61.00" cy="778.00" r="2.55" fill="#f2de3c" stroke="#111" stroke-width="0.8"/>
<circle cx="60.80" cy="789.70" r="2.55" fill="#f2de3c" stroke="#111" stroke-width="0.8"/>
<circle cx="77.20" cy="786.00" r="2.55" fill="#f2de3c" stroke="#111" stroke-width="0.8"/>
<circle cx="65.00" cy="793.20" r="2.55" fill="#f2de3c" stroke="#111" stroke-width="0.8"/>
<circle cx="77.20" cy="791.90" r="2.55" fill="#f2de3c" stroke="#111" stroke-width="0.8"/>
<circle cx="73.30" cy="794.90" r="2.55" fill="#f2de3c" stroke="#111" stroke-width="0.8"/>
<circle cx="66.40" cy="797.80" r="2.55" fill="#f2de3c" stroke="#111" stroke-width="0.8"/>
<circle cx="71.50" cy="799.60" r="2.55" fill="#f2de3c" stroke="#111" stroke-width="0.8"/>
<circle cx="69.25" cy="806.50" r="2.55" fill="#f2de3c" stroke="#111" stroke-width="0.8"/>
<path d="M105.5 800.4 H120.5 M113 796.8 V804.0 M109.4 796.8 H116.6 M109.4 804.0 H116.6" stroke="#555" stroke-width="0.6" fill="none"/>
<circle cx="113.00" cy="768.50" r="2.55" fill="#2a82c4" stroke="#111" stroke-width="0.8"/>
<circle cx="113.00" cy="781.00" r="2.55" fill="#2a82c4" stroke="#111" stroke-width="0.8"/>
<circle cx="105.00" cy="786.00" r="2.55" fill="#2a82c4" stroke="#111" stroke-width="0.8"/>
<circle cx="121.00" cy="788.00" r="2.55" fill="#2a82c4" stroke="#111" stroke-width="0.8"/>
<circle cx="113.00" cy="791.00" r="2.55" fill="#2a82c4" stroke="#111" stroke-width="0.8"/>
<circle cx="105.00" cy="799.80" r="2.55" fill="#2a82c4" stroke="#111" stroke-width="0.8"/>
<circle cx="121.00" cy="799.80" r="2.55" fill="#2a82c4" stroke="#111" stroke-width="0.8"/>
<circle cx="109.00" cy="800.60" r="2.55" fill="#2a82c4" stroke="#111" stroke-width="0.8"/>
<circle cx="117.00" cy="803.50" r="2.55" fill="#2a82c4" stroke="#111" stroke-width="0.8"/>
<circle cx="113.00" cy="806.20" r="2.55" fill="#2a82c4" stroke="#111" stroke-width="0.8"/>
<circle cx="121.00" cy="812.30" r="2.55" fill="#2a82c4" stroke="#111" stroke-width="0.8"/>
<circle cx="113.00" cy="811.50" r="2.55" fill="#2a82c4" stroke="#111" stroke-width="0.8"/>
<circle cx="105.00" cy="815.60" r="2.55" fill="#2a82c4" stroke="#111" stroke-width="0.8"/>
<circle cx="109.00" cy="820.50" r="2.55" fill="#2a82c4" stroke="#111" stroke-width="0.8"/>
<circle cx="115.60" cy="819.80" r="2.55" fill="#2a82c4" stroke="#111" stroke-width="0.8"/>
<path d="M147.1 812 H162.1 M154.6 809 V815 M151.0 809 H158.2 M151.0 815 H158.2" stroke="#555" stroke-width="0.6" fill="none"/>
<circle cx="154.50" cy="736.00" r="2.55" fill="#2aa27f" stroke="#111" stroke-width="0.8"/>
<circle cx="147.00" cy="783.00" r="2.55" fill="#2aa27f" stroke="#111" stroke-width="0.8"/>
<circle cx="162.50" cy="781.00" r="2.55" fill="#2aa27f" stroke="#111" stroke-width="0.8"/>
<circle cx="147.00" cy="787.25" r="2.55" fill="#2aa27f" stroke="#111" stroke-width="0.8"/>
<circle cx="162.00" cy="786.75" r="2.55" fill="#2aa27f" stroke="#111" stroke-width="0.8"/>
<circle cx="150.00" cy="791.00" r="2.55" fill="#2aa27f" stroke="#111" stroke-width="0.8"/>
<circle cx="158.00" cy="791.00" r="2.55" fill="#2aa27f" stroke="#111" stroke-width="0.8"/>
<circle cx="154.00" cy="795.00" r="2.55" fill="#2aa27f" stroke="#111" stroke-width="0.8"/>
<circle cx="147.00" cy="801.25" r="2.55" fill="#2aa27f" stroke="#111" stroke-width="0.8"/>
<circle cx="162.50" cy="804.75" r="2.55" fill="#2aa27f" stroke="#111" stroke-width="0.8"/>
<circle cx="154.50" cy="806.75" r="2.55" fill="#2aa27f" stroke="#111" stroke-width="0.8"/>
<circle cx="147.00" cy="808.00" r="2.55" fill="#2aa27f" stroke="#111" stroke-width="0.8"/>
<circle cx="161.25" cy="808.50" r="2.55" fill="#2aa27f" stroke="#111" stroke-width="0.8"/>
<circle cx="151.25" cy="810.50" r="2.55" fill="#2aa27f" stroke="#111" stroke-width="0.8"/>
<circle cx="156.25" cy="812.50" r="2.55" fill="#2aa27f" stroke="#111" stroke-width="0.8"/>
<circle cx="147.00" cy="818.00" r="2.55" fill="#2aa27f" stroke="#111" stroke-width="0.8"/>
<circle cx="162.50" cy="814.25" r="2.55" fill="#2aa27f" stroke="#111" stroke-width="0.8"/>
<circle cx="158.00" cy="816.00" r="2.55" fill="#2aa27f" stroke="#111" stroke-width="0.8"/>
<circle cx="150.00" cy="819.25" r="2.55" fill="#2aa27f" stroke="#111" stroke-width="0.8"/>
<circle cx="154.50" cy="821.75" r="2.55" fill="#2aa27f" stroke="#111" stroke-width="0.8"/>
<circle cx="161.25" cy="819.25" r="2.55" fill="#2aa27f" stroke="#111" stroke-width="0.8"/>
<circle cx="147.00" cy="826.75" r="2.55" fill="#2aa27f" stroke="#111" stroke-width="0.8"/>
<circle cx="152.00" cy="825.00" r="2.55" fill="#2aa27f" stroke="#111" stroke-width="0.8"/>
<circle cx="162.50" cy="826.75" r="2.55" fill="#2aa27f" stroke="#111" stroke-width="0.8"/>
<circle cx="157.50" cy="828.00" r="2.55" fill="#2aa27f" stroke="#111" stroke-width="0.8"/>
<circle cx="150.00" cy="830.00" r="2.55" fill="#2aa27f" stroke="#111" stroke-width="0.8"/>
<circle cx="160.00" cy="830.00" r="2.55" fill="#2aa27f" stroke="#111" stroke-width="0.8"/>
<circle cx="154.50" cy="833.50" r="2.55" fill="#2aa27f" stroke="#111" stroke-width="0.8"/>
<circle cx="147.00" cy="815.50" r="2.55" fill="#2aa27f" stroke="#111" stroke-width="0.8"/>
<circle cx="162.50" cy="823.00" r="2.55" fill="#2aa27f" stroke="#111" stroke-width="0.8"/>
<circle cx="152.50" cy="815.50" r="2.55" fill="#2aa27f" stroke="#111" stroke-width="0.8"/>
<path d="M192.6 808.3 H200 M192.6 814.7 H200 M196.3 808.3 V814.7" stroke="#777" stroke-width="0.7" fill="none"/>
<circle cx="196.30" cy="811.50" r="2.3" fill="#c013c0" stroke="#333" stroke-width="0.6"/>
<rect x="58.00" y="850.30" width="111.20" height="22.00" fill="#fff" stroke="#111" stroke-width="0.9" rx="0"/>
<text x="69.20" y="858.40" font-size="6.6" text-anchor="middle" fill="#333">PV</text>
<text x="113.00" y="858.40" font-size="6.6" text-anchor="middle" fill="#333" textLength="22.50" lengthAdjust="spacingAndGlyphs">SLFNE</text>
<text x="154.60" y="858.40" font-size="6.6" text-anchor="middle" fill="#333">DEE</text>
<text x="113.60" y="869.30" font-size="8.2" text-anchor="middle" textLength="77.00" lengthAdjust="spacingAndGlyphs">Vanoye et al. 2018</text>
<text x="196.30" y="858.50" font-size="6.6" text-anchor="middle" fill="#333" textLength="25.50" lengthAdjust="spacingAndGlyphs">KCNQ2</text>
<text x="196.30" y="867.60" font-size="6.6" text-anchor="middle" fill="#8b1a8b">ΔE5</text>
</g>
<g>
<text x="245.2" y="587.2" font-size="12.5" font-weight="bold" fill="#000" stroke="#000" stroke-width="0.15">j</text>
<text x="377.20" y="590.80" font-size="8.3" text-anchor="middle" textLength="131.00" lengthAdjust="spacingAndGlyphs">Cell surface biotinylation assay</text>
<rect x="284.60" y="597.50" width="187.30" height="105.70" fill="none" stroke="#111" stroke-width="0.9" rx="0" stroke-dasharray="3 2"/>
<text x="321.30" y="606.80" font-size="7.1" text-anchor="middle" fill="#333" textLength="62.50" lengthAdjust="spacingAndGlyphs">GFP/mCH-tagged</text>
<text x="321.50" y="614.30" font-size="7.1" text-anchor="middle" fill="#333" textLength="72.00" lengthAdjust="spacingAndGlyphs">hKCNQ2 transgenes</text>
<line x1="289.50" y1="616.30" x2="358.80" y2="616.30" stroke="#111" stroke-width="0.85"/>
<text x="390.50" y="606.80" font-size="7.1" text-anchor="middle" fill="#333" textLength="37.00" lengthAdjust="spacingAndGlyphs">CHO-K<tspan font-size="4.2" dy="1.3">v</tspan><tspan dy="-1.3">7.3</tspan></text>
<text x="390.50" y="614.30" font-size="7.1" text-anchor="middle" fill="#333" textLength="16.50" lengthAdjust="spacingAndGlyphs">cells</text>
<line x1="368.30" y1="616.30" x2="412.50" y2="616.30" stroke="#111" stroke-width="0.85"/>
<text x="445.40" y="606.80" font-size="7.1" text-anchor="middle" fill="#333" textLength="13.00" lengthAdjust="spacingAndGlyphs">Cell</text>
<text x="445.60" y="614.30" font-size="7.1" text-anchor="middle" fill="#333" textLength="33.00" lengthAdjust="spacingAndGlyphs">fractions</text>
<line x1="426.00" y1="616.30" x2="463.30" y2="616.30" stroke="#111" stroke-width="0.85"/>
<text x="341.30" y="632.50" font-size="7.6" text-anchor="end" fill="#333" textLength="51.80" lengthAdjust="spacingAndGlyphs"><tspan fill="#1b9a79">GFP</tspan>–KCNQ2<tspan font-size="4.8" dy="-3.3" font-style="italic">WT</tspan></text>
<text x="341.30" y="642.00" font-size="7.6" text-anchor="end" fill="#333" textLength="54.30" lengthAdjust="spacingAndGlyphs"><tspan fill="#c4283c">mCh</tspan>–KCNQ2<tspan font-size="4.8" dy="-3.3" font-style="italic">WT</tspan></text>
<line x1="346.30" y1="634.20" x2="362.00" y2="634.20" stroke="#111" stroke-width="0.85"/>
<path d="M365.20 634.20 L361.00 636.00 L361.00 632.40 Z" stroke="none" stroke-width="0.8" fill="#111"/>
<path d="M386.21 619.80 Q388.81 627.08 409.99 630.65 Q401.44 636.67 403.60 643.80 Q397.73 640.38 392.68 644.99 Q385.77 639.42 378.86 645.88 Q375.66 637.12 370.76 635.48 Q384.88 629.76 386.21 619.80 Z" stroke="#111" stroke-width="0.85" fill="#fff" stroke-linejoin="miter"/>
<ellipse cx="392.53" cy="632.36" rx="4.458" ry="2.6005" fill="#000" stroke="none" stroke-width="0.6"/>
<text x="390.30" y="651.80" font-size="7.2" text-anchor="middle"><tspan fill="#1b9a79">WT</tspan><tspan fill="#333">/</tspan><tspan fill="#c4283c">WT</tspan></text>
<path d="M414.4 633.0 L413.2 633.0" stroke="#111" stroke-width="0.85" fill="none"/>
<line x1="413.20" y1="633.00" x2="432.33" y2="625.38" stroke="#111" stroke-width="0.85"/>
<path d="M435.30 624.20 L432.06 627.43 L430.73 624.08 Z" stroke="none" stroke-width="0.8" fill="#111"/>
<line x1="413.20" y1="633.00" x2="432.39" y2="641.86" stroke="#111" stroke-width="0.85"/>
<path d="M435.30 643.20 L430.73 643.07 L432.24 639.81 Z" stroke="none" stroke-width="0.8" fill="#111"/>
<text x="341.30" y="671.30" font-size="7.6" text-anchor="end" fill="#333" textLength="53.30" lengthAdjust="spacingAndGlyphs"><tspan fill="#1b9a79">GFP</tspan>–KCNQ2<tspan font-size="4.8" dy="-3.3" font-style="italic">ΔE5</tspan></text>
<text x="341.30" y="680.60" font-size="7.6" text-anchor="end" fill="#333" textLength="54.30" lengthAdjust="spacingAndGlyphs"><tspan fill="#c4283c">mCh</tspan>–KCNQ2<tspan font-size="4.8" dy="-3.3" font-style="italic">WT</tspan></text>
<line x1="346.30" y1="672.50" x2="362.00" y2="672.50" stroke="#111" stroke-width="0.85"/>
<path d="M365.20 672.50 L361.00 674.30 L361.00 670.70 Z" stroke="none" stroke-width="0.8" fill="#111"/>
<path d="M386.21 658.00 Q388.81 665.28 409.99 668.85 Q401.44 674.87 403.60 682.00 Q397.73 678.58 392.68 683.19 Q385.77 677.62 378.86 684.08 Q375.66 675.32 370.76 673.68 Q384.88 667.96 386.21 658.00 Z" stroke="#111" stroke-width="0.85" fill="#fff" stroke-linejoin="miter"/>
<ellipse cx="392.53" cy="670.56" rx="4.458" ry="2.6005" fill="#000" stroke="none" stroke-width="0.6"/>
<text x="390.30" y="690.00" font-size="7.2" text-anchor="middle"><tspan fill="#1b9a79">ΔE5</tspan><tspan fill="#333">/</tspan><tspan fill="#c4283c">WT</tspan></text>
<path d="M414.4 671.2 L413.2 671.2" stroke="#111" stroke-width="0.85" fill="none"/>
<line x1="413.20" y1="671.20" x2="432.29" y2="664.29" stroke="#111" stroke-width="0.85"/>
<path d="M435.30 663.20 L431.96 666.32 L430.74 662.94 Z" stroke="none" stroke-width="0.8" fill="#111"/>
<line x1="413.20" y1="671.20" x2="432.43" y2="680.68" stroke="#111" stroke-width="0.85"/>
<path d="M435.30 682.10 L430.74 681.86 L432.33 678.63 Z" stroke="none" stroke-width="0.8" fill="#111"/>
<text x="439.70" y="626.00" font-size="7.7" fill="#333">Input</text>
<text x="439.70" y="642.00" font-size="7.7" fill="#333">Cell</text>
<text x="439.70" y="648.40" font-size="7.7" fill="#333">surface</text>
<text x="439.70" y="665.50" font-size="7.7" fill="#333">Input</text>
<text x="439.70" y="681.00" font-size="7.7" fill="#333">Cell</text>
<text x="439.70" y="687.80" font-size="7.7" fill="#333">surface</text>
<text x="332.80" y="721.00" font-size="8.5" text-anchor="middle" fill="#333" textLength="21.50" lengthAdjust="spacingAndGlyphs">Input</text>
<line x1="310.20" y1="725.50" x2="355.50" y2="725.50" stroke="#333" stroke-width="0.8"/>
<text x="413.30" y="721.00" font-size="8.5" text-anchor="middle" fill="#333" textLength="50.00" lengthAdjust="spacingAndGlyphs">Cell surface</text>
<line x1="386.00" y1="725.50" x2="439.30" y2="725.50" stroke="#333" stroke-width="0.8"/>
<text x="297.60" y="737.60" font-size="8.3" text-anchor="end" textLength="53.00" lengthAdjust="spacingAndGlyphs"><tspan fill="#1b9a79">GFP</tspan>-KCNQ2:</text>
<text x="297.60" y="747.30" font-size="8.3" text-anchor="end" textLength="55.80" lengthAdjust="spacingAndGlyphs"><tspan fill="#c4283c">mCh</tspan>-KCNQ2:</text>
<text x="322.50" y="738.00" font-size="7.0" text-anchor="middle" fill="#1b9a79">WT</text>
<text x="322.50" y="747.00" font-size="7.0" text-anchor="middle" fill="#c4283c">WT</text>
<text x="348.50" y="738.00" font-size="7.0" text-anchor="middle" fill="#1b9a79">ΔE5</text>
<text x="349.70" y="747.00" font-size="7.0" text-anchor="middle" fill="#c4283c">WT</text>
<text x="401.50" y="738.00" font-size="7.0" text-anchor="middle" fill="#1b9a79">WT</text>
<text x="401.50" y="747.00" font-size="7.0" text-anchor="middle" fill="#c4283c">WT</text>
<text x="430.30" y="738.00" font-size="7.0" text-anchor="middle" fill="#1b9a79">ΔE5</text>
<text x="431.50" y="747.00" font-size="7.0" text-anchor="middle" fill="#c4283c">WT</text>
<text x="452.80" y="745.60" font-size="7.6" fill="#333">kDa</text>
<text x="297.60" y="767.60" font-size="8.3" text-anchor="end" fill="#1b9a79">GFP</text>
<text x="297.60" y="797.60" font-size="8.3" text-anchor="end" fill="#c4283c" textLength="36.00" lengthAdjust="spacingAndGlyphs">mCherry</text>
<text x="297.60" y="827.30" font-size="8.3" text-anchor="end">TfR</text>
<text x="297.60" y="858.00" font-size="8.3" text-anchor="end" textLength="46.00" lengthAdjust="spacingAndGlyphs">Histone H3</text>
<defs>
<filter id="bl0_9" x="-30%" y="-80%" width="160%" height="260%"><feGaussianBlur stdDeviation="0.9"/></filter>
<filter id="bl0_6" x="-30%" y="-80%" width="160%" height="260%"><feGaussianBlur stdDeviation="0.6"/></filter>
<filter id="bl1_4" x="-30%" y="-100%" width="160%" height="300%"><feGaussianBlur stdDeviation="1.4"/></filter>
</defs>
<clipPath id="bc0"><rect x="302.3" y="751" width="141.2" height="23.299999999999955"/></clipPath>
<rect x="302.30" y="751.00" width="141.20" height="23.30" fill="#f7f7f7" stroke="#6a6a6a" stroke-width="0.7" rx="0"/>
<clipPath id="bc1"><rect x="302.3" y="781.8" width="141.2" height="23.200000000000045"/></clipPath>
<rect x="302.30" y="781.80" width="141.20" height="23.20" fill="#f7f7f7" stroke="#6a6a6a" stroke-width="0.7" rx="0"/>
<clipPath id="bc2"><rect x="302.3" y="810.5" width="141.2" height="26.799999999999955"/></clipPath>
<rect x="302.30" y="810.50" width="141.20" height="26.80" fill="#f7f7f7" stroke="#6a6a6a" stroke-width="0.7" rx="0"/>
<clipPath id="bc3"><rect x="302.3" y="843" width="141.2" height="23"/></clipPath>
<rect x="302.30" y="843.00" width="141.20" height="23.00" fill="#f7f7f7" stroke="#6a6a6a" stroke-width="0.7" rx="0"/>
<g clip-path="url(#bc0)">
<rect x="309.00" y="759.30" width="19.00" height="6.60" rx="2.20" fill="#000" opacity="1.0" filter="url(#bl0_9)"/>
<rect x="310.00" y="760.10" width="17.00" height="5.00" rx="2.20" fill="#000" opacity="1.0" filter="url(#bl0_6)"/>
<rect x="334.55" y="759.90" width="20.50" height="4.60" rx="2.20" fill="#000" opacity="1.0" filter="url(#bl0_9)"/>
<rect x="335.30" y="760.50" width="19.00" height="3.40" rx="1.70" fill="#000" opacity="1.0" filter="url(#bl0_6)"/>
<rect x="311.00" y="769.60" width="15.00" height="2.00" rx="1.00" fill="#000" opacity="0.35" filter="url(#bl0_9)"/>
<rect x="336.30" y="769.40" width="17.00" height="1.60" rx="0.80" fill="#000" opacity="0.3" filter="url(#bl0_9)"/>
<rect x="310.50" y="755.00" width="16.00" height="4.00" rx="2.00" fill="#000" opacity="0.12" filter="url(#bl1_4)"/>
<rect x="336.80" y="755.00" width="16.00" height="4.00" rx="2.00" fill="#000" opacity="0.08" filter="url(#bl1_4)"/>
<rect x="390.25" y="760.10" width="17.50" height="4.40" rx="2.20" fill="#000" opacity="1.0" filter="url(#bl0_9)" transform="rotate(6 399 762.3)"/>
<rect x="391.50" y="760.80" width="15.00" height="3.00" rx="1.50" fill="#000" opacity="1.0" filter="url(#bl0_6)" transform="rotate(6 399 762.3)"/>
<rect x="417.50" y="760.00" width="18.00" height="1.20" rx="0.60" fill="#000" opacity="0.13" filter="url(#bl0_9)"/>
<rect x="417.50" y="764.00" width="18.00" height="1.20" rx="0.60" fill="#000" opacity="0.1" filter="url(#bl0_9)"/>
<circle cx="421.60" cy="769.70" r="0.6" fill="#333" stroke="none" stroke-width="0.6"/>
</g>
<g clip-path="url(#bc1)">
<rect x="310.00" y="792.00" width="17.00" height="3.60" rx="1.80" fill="#000" opacity="1.0" filter="url(#bl0_9)"/>
<rect x="311.00" y="792.60" width="15.00" height="2.40" rx="1.20" fill="#000" opacity="1.0" filter="url(#bl0_6)"/>
<rect x="335.55" y="791.70" width="18.50" height="3.00" rx="1.50" fill="#000" opacity="1.0" filter="url(#bl0_9)"/>
<rect x="336.80" y="792.20" width="16.00" height="2.00" rx="1.00" fill="#000" opacity="1.0" filter="url(#bl0_6)"/>
<rect x="311.50" y="783.00" width="14.00" height="8.00" rx="2.20" fill="#000" opacity="0.08" filter="url(#bl1_4)"/>
<rect x="390.50" y="791.30" width="17.00" height="4.00" rx="2.00" fill="#000" opacity="1.0" filter="url(#bl0_9)"/>
<rect x="391.50" y="792.00" width="15.00" height="2.60" rx="1.30" fill="#000" opacity="1.0" filter="url(#bl0_6)"/>
<rect x="391.50" y="796.80" width="16.00" height="2.00" rx="1.00" fill="#000" opacity="0.5" filter="url(#bl0_9)"/>
<rect x="417.30" y="792.90" width="19.00" height="2.80" rx="1.40" fill="#000" opacity="0.75" filter="url(#bl0_9)"/>
<rect x="418.50" y="797.20" width="17.00" height="1.60" rx="0.80" fill="#000" opacity="0.2" filter="url(#bl0_9)"/>
<rect x="391.50" y="784.00" width="15.00" height="6.00" rx="2.20" fill="#000" opacity="0.08" filter="url(#bl1_4)"/>
</g>
<g clip-path="url(#bc2)">
<rect x="308.50" y="820.40" width="20.00" height="8.00" rx="2.20" fill="#000" opacity="1.0" filter="url(#bl0_9)"/>
<rect x="309.50" y="821.20" width="18.00" height="6.40" rx="2.20" fill="#000" opacity="1.0" filter="url(#bl0_6)"/>
<rect x="334.30" y="820.60" width="21.00" height="7.40" rx="2.20" fill="#000" opacity="1.0" filter="url(#bl0_9)"/>
<rect x="335.30" y="821.30" width="19.00" height="6.00" rx="2.20" fill="#000" opacity="1.0" filter="url(#bl0_6)"/>
<rect x="390.00" y="818.90" width="18.00" height="6.20" rx="2.20" fill="#000" opacity="1.0" filter="url(#bl0_9)" transform="rotate(4 399 822)"/>
<rect x="391.00" y="819.60" width="16.00" height="4.80" rx="2.20" fill="#000" opacity="1.0" filter="url(#bl0_6)" transform="rotate(4 399 822)"/>
<rect x="416.80" y="821.90" width="20.00" height="5.00" rx="2.20" fill="#000" opacity="1.0" filter="url(#bl0_9)"/>
<rect x="417.80" y="822.60" width="18.00" height="3.60" rx="1.80" fill="#000" opacity="1.0" filter="url(#bl0_6)"/>
<rect x="310.50" y="812.00" width="16.00" height="6.00" rx="2.20" fill="#000" opacity="0.07" filter="url(#bl1_4)"/>
<rect x="336.80" y="812.00" width="16.00" height="6.00" rx="2.20" fill="#000" opacity="0.07" filter="url(#bl1_4)"/>
</g>
<g clip-path="url(#bc3)">
<rect x="308.00" y="852.50" width="21.00" height="5.00" rx="2.20" fill="#000" opacity="1.0" filter="url(#bl0_9)"/>
<rect x="309.00" y="853.20" width="19.00" height="3.60" rx="1.80" fill="#000" opacity="1.0" filter="url(#bl0_6)"/>
<rect x="334.00" y="852.90" width="23.00" height="5.40" rx="2.20" fill="#000" opacity="1.0" filter="url(#bl0_9)"/>
<rect x="335.00" y="853.60" width="21.00" height="4.00" rx="2.00" fill="#000" opacity="1.0" filter="url(#bl0_6)"/>
</g>
<line x1="443.50" y1="752.30" x2="447.60" y2="752.30" stroke="#555" stroke-width="0.7"/>
<text x="452.80" y="755.00" font-size="7.4" fill="#333">150</text>
<line x1="443.50" y1="772.30" x2="447.60" y2="772.30" stroke="#555" stroke-width="0.7"/>
<text x="452.80" y="775.00" font-size="7.4" fill="#333">100</text>
<line x1="443.50" y1="784.80" x2="447.60" y2="784.80" stroke="#555" stroke-width="0.7"/>
<text x="452.80" y="787.50" font-size="7.4" fill="#333">150</text>
<line x1="443.50" y1="804.50" x2="447.60" y2="804.50" stroke="#555" stroke-width="0.7"/>
<text x="452.80" y="807.20" font-size="7.4" fill="#333">100</text>
<line x1="443.50" y1="815.00" x2="447.60" y2="815.00" stroke="#555" stroke-width="0.7"/>
<text x="452.80" y="817.70" font-size="7.4" fill="#333">100</text>
<line x1="443.50" y1="852.30" x2="447.60" y2="852.30" stroke="#555" stroke-width="0.7"/>
<text x="452.80" y="855.00" font-size="7.4" fill="#333">20</text>
</g>
<g>
<text x="514" y="587.8" font-size="12.5" font-weight="bold" fill="#000" stroke="#000" stroke-width="0.45">k</text>
<rect x="558.40" y="599.40" width="122.30" height="105.90" fill="none" stroke="#555" stroke-width="0.8" rx="0"/>
<line x1="556.00" y1="705.30" x2="558.40" y2="705.30" stroke="#555" stroke-width="0.7"/>
<text x="554.00" y="708.00" font-size="7.5" text-anchor="end" fill="#333">0</text>
<line x1="556.00" y1="690.17" x2="558.40" y2="690.17" stroke="#555" stroke-width="0.7"/>
<text x="554.00" y="692.87" font-size="7.5" text-anchor="end" fill="#333">0.2</text>
<line x1="556.00" y1="675.04" x2="558.40" y2="675.04" stroke="#555" stroke-width="0.7"/>
<text x="554.00" y="677.74" font-size="7.5" text-anchor="end" fill="#333">0.4</text>
<line x1="556.00" y1="659.91" x2="558.40" y2="659.91" stroke="#555" stroke-width="0.7"/>
<text x="554.00" y="662.61" font-size="7.5" text-anchor="end" fill="#333">0.6</text>
<line x1="556.00" y1="644.79" x2="558.40" y2="644.79" stroke="#555" stroke-width="0.7"/>
<text x="554.00" y="647.49" font-size="7.5" text-anchor="end" fill="#333">0.8</text>
<line x1="556.00" y1="629.66" x2="558.40" y2="629.66" stroke="#555" stroke-width="0.7"/>
<text x="554.00" y="632.36" font-size="7.5" text-anchor="end" fill="#333">1.0</text>
<line x1="556.00" y1="614.53" x2="558.40" y2="614.53" stroke="#555" stroke-width="0.7"/>
<text x="554.00" y="617.23" font-size="7.5" text-anchor="end" fill="#333">1.2</text>
<line x1="556.00" y1="599.40" x2="558.40" y2="599.40" stroke="#555" stroke-width="0.7"/>
<text x="554.00" y="602.10" font-size="7.5" text-anchor="end" fill="#333">1.4</text>
<line x1="595.30" y1="705.30" x2="595.30" y2="708.10" stroke="#555" stroke-width="0.7"/>
<line x1="646.30" y1="705.30" x2="646.30" y2="708.10" stroke="#555" stroke-width="0.7"/>
<text x="595.30" y="715.70" font-size="7.0" text-anchor="middle" fill="#1b9a79">WT</text>
<text x="595.30" y="725.00" font-size="7.0" text-anchor="middle" fill="#c4283c">WT</text>
<text x="646.30" y="715.70" font-size="7.0" text-anchor="middle" fill="#1b9a79">ΔE5</text>
<text x="646.60" y="725.00" font-size="7.0" text-anchor="middle" fill="#c4283c">WT</text>
<text x="620.50" y="590.70" font-size="8.3" text-anchor="middle" textLength="107.00" lengthAdjust="spacingAndGlyphs">Cell surface: <tspan fill="#1b9a79">GFP</tspan>–KCNQ2</text>
<text x="620.60" y="610.20" font-size="9.0" text-anchor="middle" textLength="43.80" lengthAdjust="spacingAndGlyphs"><tspan font-style="italic">P</tspan> = 0.0012</text>
<path d="M595.3 621.4 V615.1 Q595.3 613.9 596.5 613.9 H645.0999999999999 Q646.3 613.9 646.3 615.1 V684.7" stroke="#444" stroke-width="0.7" fill="none"/>
<text x="525.40" y="652.35" font-size="8.2" text-anchor="middle" textLength="113.70" lengthAdjust="spacingAndGlyphs" transform="rotate(-90 525.40 652.35)">Surface <tspan fill="#1b9a79">GFP</tspan>–KCNQ2 levels</text>
<text x="536.00" y="652.35" font-size="8.2" text-anchor="middle" textLength="59.00" lengthAdjust="spacingAndGlyphs" transform="rotate(-90 536.00 652.35)">(norm. to TfR)</text>
<line x1="582.00" y1="629.70" x2="608.70" y2="629.70" stroke="#333" stroke-width="0.7"/>
<rect x="578.80" y="626.50" width="6.40" height="6.40" fill="none" stroke="#333" stroke-width="0.7" rx="0"/>
<circle cx="595.30" cy="629.70" r="3.3" fill="none" stroke="#333" stroke-width="0.7"/>
<path d="M608.70 626.16 L612.30 632.39 L605.10 632.39 Z" stroke="#333" stroke-width="0.7" fill="none"/>
<line x1="629.20" y1="697.00" x2="662.90" y2="697.00" stroke="#333" stroke-width="0.7"/>
<path d="M646.3 694.6 V699.4 M643 694.6 H649.6 M643 699.4 H649.6" stroke="#333" stroke-width="0.7" fill="none"/>
<rect x="636.60" y="689.00" width="6.40" height="6.40" fill="none" stroke="#333" stroke-width="0.7" rx="0"/>
<circle cx="653.10" cy="697.00" r="3.1" fill="none" stroke="#333" stroke-width="0.7"/>
<path d="M639.80 696.66 L643.40 702.89 L636.20 702.89 Z" stroke="#333" stroke-width="0.7" fill="none"/>
<text x="514.4" y="735.8" font-size="12.5" font-weight="bold" fill="#000" stroke="#000" stroke-width="0.45">l</text>
<rect x="559.20" y="755.10" width="119.50" height="105.20" fill="none" stroke="#555" stroke-width="0.8" rx="0"/>
<line x1="556.80" y1="860.30" x2="559.20" y2="860.30" stroke="#555" stroke-width="0.7"/>
<text x="554.80" y="863.00" font-size="7.5" text-anchor="end" fill="#333">0</text>
<line x1="556.80" y1="845.27" x2="559.20" y2="845.27" stroke="#555" stroke-width="0.7"/>
<text x="554.80" y="847.97" font-size="7.5" text-anchor="end" fill="#333">0.2</text>
<line x1="556.80" y1="830.24" x2="559.20" y2="830.24" stroke="#555" stroke-width="0.7"/>
<text x="554.80" y="832.94" font-size="7.5" text-anchor="end" fill="#333">0.4</text>
<line x1="556.80" y1="815.21" x2="559.20" y2="815.21" stroke="#555" stroke-width="0.7"/>
<text x="554.80" y="817.91" font-size="7.5" text-anchor="end" fill="#333">0.6</text>
<line x1="556.80" y1="800.19" x2="559.20" y2="800.19" stroke="#555" stroke-width="0.7"/>
<text x="554.80" y="802.89" font-size="7.5" text-anchor="end" fill="#333">0.8</text>
<line x1="556.80" y1="785.16" x2="559.20" y2="785.16" stroke="#555" stroke-width="0.7"/>
<text x="554.80" y="787.86" font-size="7.5" text-anchor="end" fill="#333">1.0</text>
<line x1="556.80" y1="770.13" x2="559.20" y2="770.13" stroke="#555" stroke-width="0.7"/>
<text x="554.80" y="772.83" font-size="7.5" text-anchor="end" fill="#333">1.2</text>
<line x1="556.80" y1="755.10" x2="559.20" y2="755.10" stroke="#555" stroke-width="0.7"/>
<text x="554.80" y="757.80" font-size="7.5" text-anchor="end" fill="#333">1.4</text>
<line x1="592.80" y1="860.30" x2="592.80" y2="863.10" stroke="#555" stroke-width="0.7"/>
<line x1="643.80" y1="860.30" x2="643.80" y2="863.10" stroke="#555" stroke-width="0.7"/>
<text x="592.80" y="873.50" font-size="8.2" text-anchor="middle" fill="#1b9a79">WT</text>
<text x="592.80" y="882.80" font-size="8.2" text-anchor="middle" fill="#c4283c">WT</text>
<text x="643.80" y="873.50" font-size="8.2" text-anchor="middle" fill="#1b9a79">ΔE5</text>
<text x="644.10" y="882.80" font-size="8.2" text-anchor="middle" fill="#c4283c">WT</text>
<text x="618.60" y="750.60" font-size="8.3" text-anchor="middle" textLength="110.80" lengthAdjust="spacingAndGlyphs">Cell surface: <tspan fill="#c4283c">mCh</tspan>–KCNQ2</text>
<text x="618.10" y="766.00" font-size="9.0" text-anchor="middle" textLength="43.80" lengthAdjust="spacingAndGlyphs"><tspan font-style="italic">P</tspan> = 0.0374</text>
<path d="M592.8 777.2 V770.9000000000001 Q592.8 769.7 594.0 769.7 H642.5999999999999 Q643.8 769.7 643.8 770.9000000000001 V789.8" stroke="#444" stroke-width="0.7" fill="none"/>
<text x="521.80" y="807.70" font-size="8.2" text-anchor="middle" textLength="117.20" lengthAdjust="spacingAndGlyphs" transform="rotate(-90 521.80 807.70)">Surface <tspan fill="#c4283c">mCh</tspan>–KCNQ2 levels</text>
<text x="533.00" y="807.70" font-size="8.2" text-anchor="middle" textLength="59.00" lengthAdjust="spacingAndGlyphs" transform="rotate(-90 533.00 807.70)">(norm. to TfR)</text>
<line x1="579.50" y1="785.30" x2="606.40" y2="785.30" stroke="#333" stroke-width="0.7"/>
<rect x="576.30" y="782.10" width="6.40" height="6.40" fill="none" stroke="#333" stroke-width="0.7" rx="0"/>
<circle cx="592.80" cy="785.30" r="3.3" fill="none" stroke="#333" stroke-width="0.7"/>
<path d="M606.40 781.76 L610.00 787.99 L602.80 787.99 Z" stroke="#333" stroke-width="0.7" fill="none"/>
<line x1="627.20" y1="806.60" x2="661.10" y2="806.60" stroke="#333" stroke-width="0.7"/>
<path d="M643.8 802.3 V810.6 M635.5 802.3 H652.3" stroke="#333" stroke-width="0.7" fill="none"/>
<path d="M643.80 796.06 L647.40 802.29 L640.20 802.29 Z" stroke="#333" stroke-width="0.7" fill="none"/>
<circle cx="650.30" cy="808.60" r="3.1" fill="none" stroke="#333" stroke-width="0.7"/>
<rect x="633.80" y="809.90" width="6.40" height="6.40" fill="none" stroke="#333" stroke-width="0.7" rx="0"/>
</g>
</svg>
</body></html>
